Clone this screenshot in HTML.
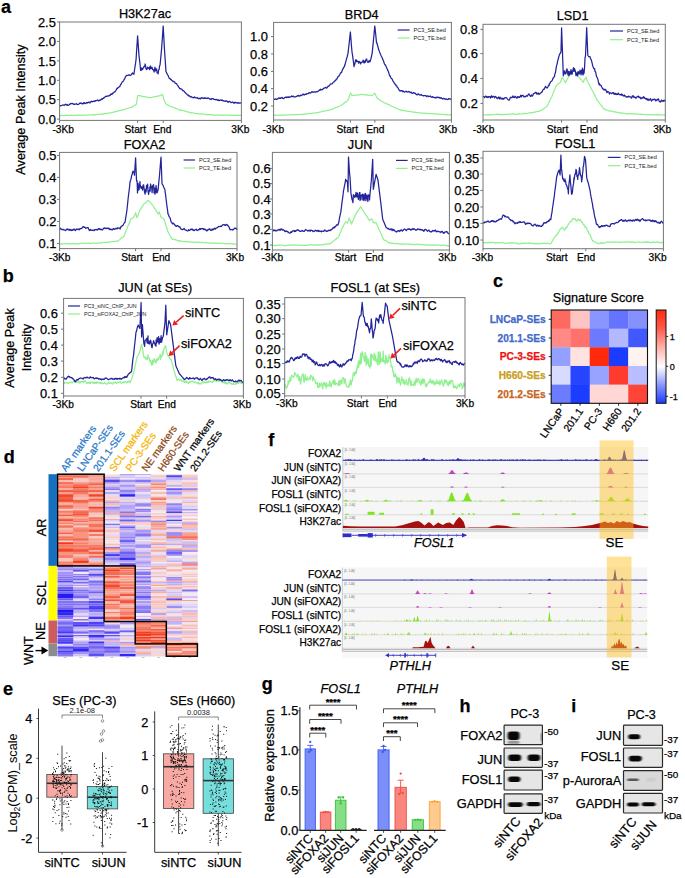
<!DOCTYPE html><html><head><meta charset="utf-8"><style>html,body{margin:0;padding:0;background:#fff;width:685px;height:878px;overflow:hidden}svg{display:block}</style></head><body><svg width="685" height="878" viewBox="0 0 685 878" font-family='"Liberation Sans", sans-serif'>
<rect width="685" height="878" fill="#fff"/>
<text x="0.9" y="13.3" font-size="18" font-weight="bold" stroke="#000" stroke-width="0.25">a</text>
<text x="2.7" y="281.6" font-size="18" font-weight="bold" stroke="#000" stroke-width="0.25">b</text>
<text x="493" y="287" font-size="18" font-weight="bold" stroke="#000" stroke-width="0.25">c</text>
<text x="3.7" y="463" font-size="18" font-weight="bold" stroke="#000" stroke-width="0.25">d</text>
<text x="3" y="694.7" font-size="18" font-weight="bold" stroke="#000" stroke-width="0.25">e</text>
<text x="268.3" y="445.7" font-size="18" font-weight="bold" stroke="#000" stroke-width="0.25">f</text>
<text x="261.7" y="689.8" font-size="18" font-weight="bold" stroke="#000" stroke-width="0.25">g</text>
<text x="459.6" y="711.5" font-size="18" font-weight="bold" stroke="#000" stroke-width="0.25">h</text>
<text x="571.3" y="711.5" font-size="18" font-weight="bold" stroke="#000" stroke-width="0.25">i</text>
<polyline points="59.6,115.5 60.1,115.6 60.6,115.6 61.1,115.4 61.6,115.2 62.1,115.3 62.6,115.3 63.1,115.5 63.6,115.6 64.1,115.6 64.6,115.5 65.1,115.6 65.6,115.3 66.1,115.4 66.6,115.2 67.1,115.5 67.6,115.3 68.1,115.5 68.6,115.3 69.1,115.4 69.6,115.3 70.1,115.3 70.6,115.5 71.1,115.2 71.6,115.1 72.1,115.4 72.6,115.4 73.1,115.2 73.6,115.5 74.1,115.6 74.6,115.3 75.1,115.3 75.6,115.2 76.1,115.2 76.6,115.3 77.1,115.2 77.6,115.3 78.1,115.1 78.6,115.1 79.1,115.3 79.6,115.3 80,115.2 80.1,115.3 80.6,115.3 81.1,115.2 81.6,115 82.1,115.2 82.6,115.4 83.1,115.5 83.6,115.4 84.1,115.2 84.6,115.1 85.1,115.2 85.6,115.2 86.1,115 86.6,114.9 87.1,114.9 87.6,115 88.1,115.1 88.6,115.1 89.1,114.8 89.6,115 90.1,115 90.6,115 91.1,114.8 91.6,114.8 92.1,114.8 92.6,115 93.1,114.7 93.6,114.8 94.1,114.7 94.6,114.8 95,114.6 95.1,114.6 95.6,114.6 96.1,114.7 96.6,114.4 97.1,114.5 97.6,114.4 98.1,114.3 98.6,114.3 99.1,114.5 99.6,114.4 100.1,114.5 100.6,114.2 101.1,114.4 101.6,114.2 102.1,114 102.6,114.1 103.1,114.2 103.6,113.8 104.1,113.7 104.6,113.9 105,113.8 105.1,113.6 105.6,113.4 106.1,113.3 106.6,113.4 107.1,113.6 107.6,113.6 108.1,113.4 108.6,113 109.1,112.9 109.6,113 110.1,113 110.6,112.9 111.1,112.6 111.6,112.6 112,112.5 112.1,112.5 112.6,112.3 113.1,112.4 113.6,112.3 114.1,112 114.6,111.7 115.1,111.8 115.6,111.6 116.1,111.6 116.6,111.4 117.1,111.4 117.6,111.3 118.1,110.9 118.6,110.7 119.1,110.6 119.6,110.6 120,110.6 120.1,110.4 120.6,110.4 121.1,110.2 121.6,109.9 122.1,109.8 122.6,109.9 123.1,109.7 123.6,109.6 124.1,109.6 124.6,109.5 125.1,109.3 125.6,109 126.1,108.8 126.6,108.8 127,108.7 127.1,108.6 127.6,108.3 128.1,108.1 128.6,108 129.1,107.9 129.6,107.5 130.1,107.5 130.6,107.5 131.1,107.4 131.6,107.2 132.1,107.1 132.6,106.8 133,106.7 133.1,106.5 133.6,105.9 134.1,105.6 134.6,105.2 135.1,105.1 135.6,104.8 136.1,104.4 136.5,104.1 136.6,103.1 137.1,99.3 137.6,95.6 138.1,95.6 138.6,95.5 139.1,95.6 139.6,95.7 140.1,95.9 140.6,95.8 141,95.7 141.1,95.8 141.6,96.1 142.1,96.3 142.6,96.4 143.1,96.7 143.6,96.6 144.1,96.4 144.6,96.6 145.1,96.8 145.6,96.7 146.1,97 146.6,97 147.1,97.1 147.6,97.2 148.1,97.5 148.6,97.4 149.1,97.5 149.6,97.6 150,97.6 150.1,97.6 150.6,97.5 151.1,97.6 151.6,97.5 152.1,97.4 152.6,97.1 153.1,97 153.6,97 154.1,97 154.6,96.7 155.1,96.6 155.6,96.7 156.1,96.6 156.6,96.3 157.1,96.2 157.6,96.2 158,96 158.1,96.1 158.6,95.9 159.1,95.9 159.6,95.7 160.1,95.5 160.6,95.2 161.1,95.1 161.6,94.9 162.1,94.7 162.5,94.5 162.6,94.8 163.1,96.5 163.6,98.3 164,99.9 164.1,100 164.6,100.9 165.1,102.2 165.6,103.1 166,104.1 166.1,104.2 166.6,104.3 167.1,104.8 167.6,105.1 168.1,105.2 168.6,105.3 169.1,105.7 169.6,106.1 170,106.3 170.1,106.4 170.6,106.5 171.1,106.7 171.6,106.7 172.1,106.9 172.6,107 173.1,107.2 173.6,107.4 174.1,107.8 174.6,107.8 175,107.8 175.1,107.8 175.6,108.3 176.1,108.5 176.6,108.5 177.1,108.9 177.6,109.2 178.1,109.5 178.6,109.5 179.1,109.8 179.6,109.8 180,109.8 180.1,110.1 180.6,110.3 181.1,110.2 181.6,110.5 182.1,110.4 182.6,110.5 183.1,110.5 183.6,110.6 184.1,110.7 184.6,111.1 185.1,111.2 185.6,111.2 186.1,111.3 186.6,111.5 187.1,111.8 187.6,112 188.1,111.9 188.6,112.2 189.1,112.3 189.6,112.4 190,112.5 190.1,112.6 190.6,112.8 191.1,112.7 191.6,112.8 192.1,112.9 192.6,113 193.1,113 193.6,113 194.1,113.1 194.6,113.3 195.1,113.2 195.6,113.5 196.1,113.5 196.6,113.7 197.1,113.7 197.6,113.9 198.1,113.9 198.6,113.9 199.1,113.9 199.6,114 200,114.1 200.1,114.2 200.6,114 201.1,113.9 201.6,113.8 202.1,113.8 202.6,113.8 203.1,113.8 203.6,113.9 204.1,114 204.6,114.2 205.1,114.4 205.6,114.6 206.1,114.7 206.6,114.7 207.1,114.8 207.6,114.5 208.1,114.4 208.6,114.7 209.1,114.7 209.6,114.5 210.1,114.7 210.6,114.7 211.1,114.8 211.6,114.7 212.1,114.7 212.6,114.6 213.1,114.8 213.6,115.1 214.1,115.2 214.6,115.2 215,115.3 215.1,115.1 215.6,115 216.1,115.2 216.6,115.2 217.1,115.2 217.6,114.9 218.1,114.9 218.6,115 219.1,115.1 219.6,115.3 220.1,115.3 220.6,115.1 221.1,115.1 221.6,115.3 222.1,115.4 222.6,115.3 223.1,115.1 223.6,115.2 224.1,115.2 224.6,115.1 225.1,115.1 225.6,115.1 226.1,115.2 226.6,115.1 227.1,115.2 227.6,115.4 228.1,115.4 228.6,115.2 229.1,115.2 229.6,115.1 230.1,115.3 230.6,115.4 231.1,115.2 231.6,115.3 232.1,115.3 232.6,115.4 233.1,115.3 233.6,115.3 234.1,115.3 234.6,115.5 235.1,115.4 235.6,115.4 236.1,115.4 236.6,115.3 237.1,115.3 237.6,115.2 238.1,115.3 238.6,115.3 239.1,115.3 239.6,115.6 240.1,115.4 240.6,115.4 241.1,115.5 241.4,115.5" fill="none" stroke="#8ef08e" stroke-width="1.2" stroke-linejoin="round" />
<polyline points="59.6,105.4 60.1,105.5 60.6,105.9 61.1,105.6 61.6,105.5 62.1,105.4 62.6,104.9 63.1,105 63.6,105.2 64.1,105.5 64.6,104.8 65.1,104.6 65.6,104.2 66.1,104.9 66.6,105 67.1,104.4 67.6,105.1 68.1,105.4 68.6,105.2 69.1,105 69.6,104.4 70,103.9 70.1,104.2 70.6,103.7 71.1,103.6 71.6,103.6 72.1,103.3 72.6,103.7 73.1,103.8 73.6,104.3 74.1,104.2 74.6,104.3 75.1,104.1 75.6,104.2 76.1,104 76.6,103.6 77.1,104.3 77.6,104.6 78.1,104.5 78.6,104.4 79.1,103.8 79.6,103.3 80,103.1 80.1,102.8 80.6,103.4 81.1,103.2 81.6,103.7 82.1,103.3 82.6,103.8 83.1,103.9 83.6,102.9 84.1,102.6 84.6,103.3 85.1,103.1 85.6,103.6 86.1,103.1 86.6,102.5 87.1,102.7 87.6,103 88.1,102.6 88.6,102.1 89.1,102.1 89.6,102.8 90,103 90.1,102.3 90.6,101.9 91.1,101.5 91.6,101.2 92.1,101.8 92.6,101.4 93.1,101.5 93.6,101.4 94.1,101 94.6,101.4 95.1,100.8 95.6,101 96.1,100.5 96.6,100.5 97.1,100.2 97.6,100 98.1,100.7 98.6,100.8 99.1,100.3 99.6,100.6 100,99.9 100.1,99.8 100.6,100 101.1,99.8 101.6,98.9 102.1,99.4 102.6,98.6 103.1,98.1 103.6,98.3 104.1,97.8 104.6,97.4 105.1,96.8 105.6,96.4 106.1,96.6 106.6,96.2 107.1,96.3 107.6,96 108.1,95.8 108.6,96.1 109.1,95.7 109.6,95.4 110.1,95.5 110.6,94.6 111.1,94 111.6,94.4 112,94.5 112.1,93.9 112.6,93 113.1,93 113.6,93 114.1,91.9 114.6,91.9 115.1,91.6 115.6,90.9 116.1,90.1 116.6,89 117.1,88.2 117.6,88.5 118.1,87.7 118.6,87.5 119.1,86.7 119.6,86.7 120,86.3 120.1,85.7 120.6,84.6 121.1,84.3 121.6,83 122.1,82.1 122.6,81.6 123.1,81.4 123.6,80.6 124.1,79.4 124.6,79.1 125.1,77.8 125.6,76.5 126,75.9 126.1,76.1 126.6,75.5 127.1,75.3 127.6,75.3 128.1,75.4 128.6,74.9 129.1,74.8 129.6,75.3 130.1,75.5 130.6,75.2 131,75 131.1,74.9 131.6,74.1 132.1,73.5 132.6,73 133.1,73.8 133.6,73.9 134,74.2 134.1,72.6 134.6,69.5 135.1,66.1 135.6,63 136,59.9 136.1,59 136.6,50.7 137.1,43.2 137.6,35.8 138.1,43.1 138.6,50.1 139,55.6 139.1,56.5 139.6,60.6 140.1,64.7 140.5,69 140.6,70.4 141.1,70.5 141.6,67.9 142.1,69 142.6,69.5 143.1,68 143.6,67.6 144.1,66.1 144.6,66.5 145,66.7 145.1,64 145.6,66.4 146.1,69.1 146.6,69.5 147.1,68.9 147.6,67.1 148.1,68.5 148.6,68.3 149.1,67.6 149.6,69.6 150,66.3 150.1,68.9 150.6,66 151.1,68.3 151.6,68.5 152.1,67.4 152.6,69.7 153.1,69.4 153.6,70.1 154.1,72.1 154.6,69.3 155,67.2 155.1,68.2 155.6,70.8 156.1,69.3 156.6,68.9 157.1,72.9 157.6,73 158,72.1 158.1,73.8 158.6,69.9 159.1,69.5 159.6,65.8 160,65.2 160.1,64.5 160.6,59.4 161.1,54.1 161.5,49.9 161.6,48.5 162.1,41.5 162.6,34.5 163.1,27.4 163.2,26 163.6,33.4 164.1,42.6 164.5,50 164.6,51.5 165.1,58.8 165.6,66.1 166,71.7 166.1,71.7 166.6,72.7 167.1,73.9 167.6,74.8 168.1,75.4 168.6,76.8 169.1,78.1 169.6,78.6 170,78.7 170.1,78.4 170.6,79.5 171.1,79.3 171.6,80.2 172.1,80.6 172.6,80.8 173.1,81.6 173.6,81.3 174,81.3 174.1,81.7 174.6,81.8 175.1,83.1 175.6,83.3 176.1,83.5 176.6,83.7 177.1,84.8 177.6,85.4 178.1,86.1 178.6,86.8 179.1,87.6 179.6,88.4 180.1,88.8 180.6,88.6 181.1,89.1 181.6,89.2 182,89.2 182.1,89.6 182.6,90.5 183.1,90.5 183.6,90.8 184.1,91.2 184.6,92.1 185.1,92.5 185.6,93 186.1,93.7 186.6,93.8 187.1,94.5 187.6,95.2 188.1,94.8 188.6,95.7 189.1,96.2 189.6,95.9 190,96.3 190.1,96.5 190.6,97 191.1,96.7 191.6,96.8 192.1,97.3 192.6,97.5 193.1,97.8 193.6,97.4 194.1,97.5 194.6,97 195.1,97.4 195.6,97.8 196.1,97.8 196.6,97.9 197.1,97.5 197.6,98 198.1,98.5 198.6,98.8 199.1,98.4 199.6,98.6 200,98.2 200.1,98.6 200.6,98.8 201.1,98.3 201.6,97.7 202.1,97.9 202.6,98.1 203.1,98.5 203.6,98.3 204.1,97.8 204.6,98.4 205.1,97.9 205.6,98.4 206.1,98 206.6,98 207.1,98.6 207.6,98.1 208.1,97.9 208.6,98.2 209.1,98.6 209.6,99 210,99.1 210.1,99.4 210.6,99.1 211.1,99.5 211.6,98.8 212.1,98.5 212.6,98.8 213.1,98.7 213.6,99.2 214.1,99.4 214.6,99.4 215.1,99.8 215.6,99.7 216.1,99.4 216.6,99.4 217.1,99.9 217.6,100.3 218.1,99.7 218.6,100.2 219.1,100.7 219.6,100.4 220,100.3 220.1,99.9 220.6,100.1 221.1,100.2 221.6,100.4 222.1,99.9 222.6,100.8 223.1,100.8 223.6,100.7 224.1,101.1 224.6,101.1 225.1,101.1 225.6,101.3 226.1,100.8 226.6,101.1 227.1,101.2 227.6,101.9 228.1,102.3 228.6,101.7 229.1,101.7 229.6,101.4 230.1,101.6 230.6,102.2 231.1,102.7 231.6,102.5 232.1,102.2 232.6,102 233.1,102.4 233.6,103 234.1,102.5 234.6,103 235.1,102.4 235.6,102.3 236,102.4 236.1,102.9 236.6,102.8 237.1,102.8 237.6,103.1 238.1,102.7 238.6,103.2 239.1,102.8 239.6,103.1 240.1,103 240.6,102.8 241.1,103.2 241.4,103.3" fill="none" stroke="#23249a" stroke-width="1.25" stroke-linejoin="round" />
<rect x="59.6" y="22" width="181.8" height="98.4" fill="none" stroke="#767676" stroke-width="1.0"/>
<line x1="57" y1="22" x2="59.6" y2="22" stroke="#767676" stroke-width="1" />
<text x="55.8" y="26.6" font-size="12.9" text-anchor="end" stroke="#000" stroke-width="0.25">2.5</text>
<line x1="57" y1="41.4" x2="59.6" y2="41.4" stroke="#767676" stroke-width="1" />
<text x="55.8" y="46" font-size="12.9" text-anchor="end" stroke="#000" stroke-width="0.25">2.0</text>
<line x1="57" y1="60.9" x2="59.6" y2="60.9" stroke="#767676" stroke-width="1" />
<text x="55.8" y="65.5" font-size="12.9" text-anchor="end" stroke="#000" stroke-width="0.25">1.5</text>
<line x1="57" y1="80.3" x2="59.6" y2="80.3" stroke="#767676" stroke-width="1" />
<text x="55.8" y="84.9" font-size="12.9" text-anchor="end" stroke="#000" stroke-width="0.25">1.0</text>
<line x1="57" y1="99.7" x2="59.6" y2="99.7" stroke="#767676" stroke-width="1" />
<text x="55.8" y="104.3" font-size="12.9" text-anchor="end" stroke="#000" stroke-width="0.25">0.5</text>
<line x1="57" y1="119.1" x2="59.6" y2="119.1" stroke="#767676" stroke-width="1" />
<text x="55.8" y="123.7" font-size="12.9" text-anchor="end" stroke="#000" stroke-width="0.25">0.0</text>
<line x1="59.6" y1="120.4" x2="59.6" y2="123" stroke="#767676" stroke-width="1" />
<line x1="137.6" y1="120.4" x2="137.6" y2="123" stroke="#767676" stroke-width="1" />
<line x1="163.2" y1="120.4" x2="163.2" y2="123" stroke="#767676" stroke-width="1" />
<line x1="241.4" y1="120.4" x2="241.4" y2="123" stroke="#767676" stroke-width="1" />
<text x="52.4" y="133" font-size="10.2" stroke="#000" stroke-width="0.25">-3Kb</text>
<text x="135.3" y="133" font-size="10.2" text-anchor="middle" stroke="#000" stroke-width="0.25">Start</text>
<text x="162.3" y="133" font-size="10.2" text-anchor="middle" stroke="#000" stroke-width="0.25">End</text>
<text x="240.3" y="133" font-size="10.2" text-anchor="middle" stroke="#000" stroke-width="0.25">3Kb</text>
<text x="145" y="18" font-size="12.7" text-anchor="middle" stroke="#000" stroke-width="0.25">H3K27ac</text>
<polyline points="273.6,115.6 274.1,115.3 274.6,115.2 275.1,115.4 275.6,115.3 276.1,115.1 276.6,115.3 277.1,115.2 277.6,115.4 278.1,115.2 278.6,115.4 279.1,115.2 279.6,115.2 280.1,115.3 280.6,115.3 281.1,115.4 281.6,115.3 282.1,115 282.6,115.2 283.1,115.2 283.6,115 284.1,114.9 284.6,115.1 285.1,115.1 285.6,115.2 286.1,115.2 286.6,115.2 287.1,115.1 287.6,115.1 288.1,115 288.6,114.9 289.1,115 289.6,114.9 290.1,114.9 290.6,115 291.1,115 291.6,114.7 292.1,114.9 292.6,114.9 293.1,114.7 293.6,114.5 294.1,114.6 294.6,114.5 295.1,114.7 295.6,114.7 296.1,114.7 296.6,114.6 297.1,114.6 297.6,114.7 298.1,114.6 298.6,114.5 299.1,114.5 299.6,114.4 300,114.5 300.1,114.5 300.6,114.4 301.1,114.5 301.6,114.4 302.1,114.2 302.6,114.4 303.1,114.2 303.6,114.2 304.1,114.1 304.6,114.2 305.1,114.3 305.6,114.1 306.1,114 306.6,113.8 307.1,113.9 307.6,113.7 308.1,113.7 308.6,113.7 309.1,113.6 309.6,113.5 310,113.4 310.1,113.3 310.6,113.4 311.1,113.5 311.6,113.4 312.1,113.2 312.6,113.2 313.1,113 313.6,112.9 314.1,113 314.6,113 315.1,112.9 315.6,112.9 316.1,112.7 316.6,112.6 317.1,112.5 317.6,112.6 318.1,112.5 318.6,112.3 319.1,112.3 319.6,112.2 320,112 320.1,112.1 320.6,112 321.1,111.9 321.6,111.9 322.1,111.5 322.6,111.4 323.1,111.4 323.6,111.2 324.1,111 324.6,111.1 325.1,111 325.6,110.8 326.1,110.6 326.6,110.7 327.1,110.6 327.6,110.3 328.1,110.2 328.6,110.1 329.1,110.2 329.6,110 330,109.9 330.1,109.8 330.6,109.6 331.1,109.4 331.6,109.2 332.1,109.2 332.6,109.1 333.1,109 333.6,108.5 334.1,108.3 334.6,108.2 335.1,107.8 335.6,107.6 336.1,107.5 336.6,107.3 337.1,107.2 337.6,107.1 338.1,106.8 338.6,106.5 339.1,106.2 339.6,106 340,105.8 340.1,105.9 340.6,105.5 341.1,105.3 341.6,105 342.1,104.5 342.6,104.2 343.1,103.9 343.6,103.4 344.1,103.2 344.6,102.7 345.1,102.6 345.6,102.1 346,102 346.1,102 346.6,101.5 347.1,100.7 347.6,100.1 348.1,99.4 348.5,98.9 348.6,98.8 349.1,97.2 349.6,95.4 350.1,93.9 350.4,93 350.6,93.2 351.1,94.1 351.6,95 352,95.6 352.1,95.5 352.6,95.6 353.1,95.5 353.6,95.3 354.1,95.2 354.6,95.1 355.1,95.2 355.6,95.2 356.1,95.2 356.6,95.2 357.1,95.2 357.6,95 358.1,94.9 358.6,95 359.1,94.9 359.6,94.8 360.1,94.8 360.6,94.6 361.1,94.4 361.6,94.3 362,94.3 362.1,94.3 362.6,94.5 363.1,94.7 363.6,94.6 364.1,94.7 364.6,94.9 365.1,94.9 365.6,94.9 366.1,95 366.6,94.9 367.1,95.1 367.6,95.2 368.1,95.3 368.6,95.4 369.1,95.2 369.6,95.1 370.1,95.1 370.6,95.3 371.1,95.5 371.6,95.7 372,95.6 372.1,95.5 372.6,95.1 373.1,94.5 373.6,94.2 374.1,93.9 374.6,93.4 374.8,93.2 375.1,93.9 375.6,95 376.1,96 376.6,97 377,97.9 377.1,97.9 377.6,98.5 378.1,98.9 378.6,99.1 379.1,99.6 379.6,99.9 380,100.4 380.1,100.4 380.6,100.6 381.1,101 381.6,101.2 382.1,101.5 382.6,101.9 383.1,102 383.6,102.3 384.1,102.7 384.6,103 385.1,103.1 385.6,103.2 386.1,103.6 386.6,103.9 387.1,104 387.6,104.1 388.1,104.4 388.6,104.6 389.1,104.8 389.6,105 390,105.5 390.1,105.7 390.6,105.7 391.1,106 391.6,106.3 392.1,106.5 392.6,106.5 393.1,106.8 393.6,107 394.1,107.4 394.6,107.6 395.1,107.8 395.6,108.1 396.1,108.1 396.6,108.5 397.1,108.8 397.6,109 398.1,109.2 398.6,109.3 399.1,109.4 399.6,109.6 400,109.8 400.1,109.9 400.6,110.1 401.1,110.1 401.6,110.2 402.1,110.3 402.6,110.4 403.1,110.3 403.6,110.6 404.1,110.7 404.6,110.7 405.1,110.7 405.6,110.9 406.1,111.1 406.6,111 407.1,111 407.6,111.1 408.1,111.1 408.6,111.2 409.1,111.5 409.6,111.5 410.1,111.7 410.6,111.6 411.1,111.8 411.6,111.9 412.1,111.8 412.6,111.9 413.1,112 413.6,112.1 414.1,112.2 414.6,112.1 415.1,112.3 415.6,112.3 416.1,112.5 416.6,112.5 417.1,112.7 417.6,112.7 418.1,112.7 418.6,112.7 419.1,112.7 419.6,112.9 420,112.8 420.1,113 420.6,113 421.1,113.1 421.6,113 422.1,113.1 422.6,113.2 423.1,113.1 423.6,113.1 424.1,113.1 424.6,113.3 425.1,113.2 425.6,113.1 426.1,113.3 426.6,113.5 427.1,113.4 427.6,113.6 428.1,113.6 428.6,113.5 429.1,113.4 429.6,113.5 430.1,113.6 430.6,113.5 431.1,113.5 431.6,113.6 432.1,113.6 432.6,113.7 433.1,113.8 433.6,113.9 434.1,113.9 434.6,113.9 435.1,113.8 435.6,114 436.1,113.9 436.6,113.9 437.1,113.8 437.6,114.1 438.1,114.2 438.6,114.3 439.1,114.3 439.6,114.3 440.1,114.3 440.6,114.4 441.1,114.3 441.6,114.5 442.1,114.4 442.6,114.3 443.1,114.3 443.6,114.5 444.1,114.4 444.6,114.6 445.1,114.8 445.6,114.7 446.1,114.8 446.6,114.9 447.1,114.8 447.6,114.7 448.1,114.9 448.6,115 449.1,114.9 449.6,114.9 450.1,114.8 450.6,114.9 451.1,115.1 451.4,115" fill="none" stroke="#8ef08e" stroke-width="1.2" stroke-linejoin="round" />
<polyline points="273.6,99 274.1,99.3 274.6,99.4 275.1,99.2 275.6,98.8 276.1,99.2 276.6,99.4 277.1,99.2 277.6,99 278.1,98.5 278.6,98 279.1,98.1 279.6,98.3 280.1,97.8 280.6,98.4 281.1,98 281.6,97.7 282.1,97.4 282.6,98.2 283.1,98.4 283.6,98.6 284.1,98.3 284.6,97.5 285.1,97.4 285.6,97.4 286.1,97 286.6,97.7 287.1,97.4 287.6,96.9 288.1,97.4 288.6,96.8 289.1,97.4 289.6,97.2 290,97.1 290.1,96.9 290.6,96.8 291.1,96.4 291.6,96 292.1,96.7 292.6,96.3 293.1,96.7 293.6,96.2 294.1,96.8 294.6,97 295.1,96.9 295.6,96.8 296.1,96.6 296.6,96.5 297.1,95.8 297.6,95.7 298.1,96.1 298.6,95.5 299.1,96 299.6,96.2 300,95.8 300.1,95.5 300.6,95.3 301.1,95.1 301.6,95.6 302.1,95.1 302.6,94.4 303.1,94 303.6,94.4 304.1,95 304.6,94.6 305.1,94.4 305.6,94.2 306.1,94.3 306.6,93.7 307.1,93.8 307.6,93.7 308.1,93.7 308.6,93.1 309.1,92.7 309.6,92.6 310,93.2 310.1,92.9 310.6,92.9 311.1,92.5 311.6,92 312.1,91.6 312.6,92.1 313.1,92.3 313.6,91.9 314.1,92 314.6,91.9 315.1,92.1 315.6,92.2 316.1,91.6 316.6,91.8 317.1,91.8 317.6,91.4 318.1,91.4 318.6,90.8 319.1,90.4 319.6,89.9 320,90.3 320.1,89.7 320.6,89.2 321.1,89.6 321.6,89.8 322.1,89.5 322.6,89.6 323.1,88.7 323.6,88.4 324.1,88.2 324.6,88.1 325.1,87.7 325.6,87.3 326,87.4 326.1,88 326.6,88.1 327.1,87.8 327.6,87 328.1,86.2 328.6,86.4 329.1,85.8 329.6,85.5 330.1,84.4 330.6,83.8 331.1,84 331.6,83.9 332.1,83.8 332.6,83.2 333.1,82.5 333.6,82.1 334.1,82 334.6,81.2 335.1,80.8 335.6,80.1 336,80.2 336.1,79.4 336.6,79.1 337.1,78.9 337.6,77.3 338.1,76.8 338.6,76.2 339.1,75.8 339.6,75 340.1,73.8 340.6,72.9 341.1,72.8 341.6,72.3 342.1,70.8 342.6,69.6 343.1,68.6 343.6,67.6 344,67.4 344.1,66.9 344.6,65.9 345.1,64.3 345.6,62.1 346.1,60.5 346.6,58.6 347.1,57 347.6,55 348,53.4 348.1,52.4 348.6,48 349.1,43.9 349.6,39.4 350.1,34.2 350.4,32 350.6,34.9 351.1,41.3 351.6,47.6 352,51.8 352.1,52.5 352.6,55.6 353.1,59.4 353.6,63 354,66.6 354.1,65.3 354.6,64.9 355.1,62.8 355.6,60.2 356,59.7 356.1,59.7 356.6,61.7 357.1,60.9 357.6,61.2 358.1,61.6 358.6,63.2 359.1,61.3 359.6,62 360,62.1 360.1,62.8 360.6,63.9 361.1,62.3 361.6,62.6 362.1,62.2 362.6,62 363.1,60.2 363.6,61.7 364.1,63 364.6,61.6 365,60.7 365.1,62.5 365.6,60.6 366.1,59.5 366.6,59 367.1,61.2 367.6,62.3 368.1,61.8 368.6,62.3 369.1,60.5 369.6,61.7 370,61.7 370.1,61.6 370.6,59.8 371.1,58.1 371.6,56 372,53.8 372.1,53.7 372.6,48.9 373.1,43.9 373.6,38.7 374.1,33.4 374.6,28.1 374.8,26 375.1,28.8 375.6,33.5 376.1,38.4 376.5,42.6 376.6,42.2 377.1,43.8 377.6,45.5 378.1,47.3 378.6,49.3 379,50.6 379.1,50.7 379.6,52 380.1,53.2 380.6,54.5 381.1,55.7 381.6,56.8 382.1,57.4 382.6,59.1 383.1,60 383.6,61.2 384,62.5 384.1,63 384.6,64.4 385.1,64.6 385.6,65.5 386.1,66.6 386.6,67.7 387.1,68.6 387.6,70.1 388.1,70.9 388.6,72.2 389.1,74.1 389.6,75.5 390,76.2 390.1,75.8 390.6,77.3 391.1,78.2 391.6,78.4 392.1,79.1 392.6,80.2 393.1,81.2 393.6,81.6 394.1,83 394.6,83.4 395,83.7 395.1,84.4 395.6,84.6 396.1,85.6 396.6,85.9 397.1,86.9 397.6,87.3 398.1,88 398.6,89.4 399.1,89.9 399.6,90.5 400,91.1 400.1,90.8 400.6,90.6 401.1,90.8 401.6,90.7 402.1,90.7 402.6,91.6 403.1,91 403.6,91.6 404.1,92.1 404.6,92.2 405.1,91.5 405.6,91.6 406.1,91.2 406.6,91.7 407.1,92.1 407.6,91.8 408.1,91.4 408.6,91.9 409.1,91.6 409.6,91.8 410,92 410.1,92.7 410.6,92.5 411.1,92.2 411.6,92.9 412.1,93.3 412.6,93.3 413.1,92.7 413.6,92.7 414.1,92.9 414.6,93.3 415.1,93.2 415.6,93.8 416.1,94.3 416.6,94.7 417.1,94.9 417.6,94.1 418.1,94.3 418.6,93.9 419.1,94.7 419.6,95 420.1,95.2 420.6,94.8 421.1,94.4 421.6,95.1 422.1,95.3 422.6,95.5 423.1,95.5 423.6,95.9 424.1,95.7 424.6,95.5 425.1,95.6 425.6,95.6 426.1,96 426.6,96.6 427.1,96.1 427.6,95.8 428.1,96.2 428.6,96.7 429.1,96.4 429.6,96.4 430,96.2 430.1,96 430.6,96.5 431.1,97 431.6,97.3 432.1,96.9 432.6,96.6 433.1,97.4 433.6,97.5 434.1,97.3 434.6,97.6 435.1,97.9 435.6,97.8 436.1,97.2 436.6,97.8 437.1,97.4 437.6,97 438.1,97.2 438.6,97.5 439.1,97.9 439.6,97.5 440.1,98 440.6,98 441.1,97.6 441.6,98.3 442.1,98.6 442.6,98.9 443.1,98.8 443.6,98.3 444.1,98.6 444.6,99 445.1,98.8 445.6,99.2 446.1,99.4 446.6,98.9 447.1,99.3 447.6,99.6 448.1,99.5 448.6,98.6 449.1,98.6 449.6,98.8 450.1,99 450.6,99.3 451.1,99.3 451.4,98.8" fill="none" stroke="#23249a" stroke-width="1.25" stroke-linejoin="round" />
<rect x="273.6" y="22.4" width="177.8" height="97.6" fill="none" stroke="#767676" stroke-width="1.0"/>
<line x1="271" y1="36.6" x2="273.6" y2="36.6" stroke="#767676" stroke-width="1" />
<text x="268" y="41.2" font-size="12.9" text-anchor="end" stroke="#000" stroke-width="0.25">1.0</text>
<line x1="271" y1="54" x2="273.6" y2="54" stroke="#767676" stroke-width="1" />
<text x="268" y="58.6" font-size="12.9" text-anchor="end" stroke="#000" stroke-width="0.25">0.8</text>
<line x1="271" y1="71.4" x2="273.6" y2="71.4" stroke="#767676" stroke-width="1" />
<text x="268" y="76" font-size="12.9" text-anchor="end" stroke="#000" stroke-width="0.25">0.6</text>
<line x1="271" y1="88.6" x2="273.6" y2="88.6" stroke="#767676" stroke-width="1" />
<text x="268" y="93.2" font-size="12.9" text-anchor="end" stroke="#000" stroke-width="0.25">0.4</text>
<line x1="271" y1="106" x2="273.6" y2="106" stroke="#767676" stroke-width="1" />
<text x="268" y="110.6" font-size="12.9" text-anchor="end" stroke="#000" stroke-width="0.25">0.2</text>
<line x1="273.6" y1="120" x2="273.6" y2="122.6" stroke="#767676" stroke-width="1" />
<line x1="350.4" y1="120" x2="350.4" y2="122.6" stroke="#767676" stroke-width="1" />
<line x1="374.8" y1="120" x2="374.8" y2="122.6" stroke="#767676" stroke-width="1" />
<line x1="451.4" y1="120" x2="451.4" y2="122.6" stroke="#767676" stroke-width="1" />
<text x="262.6" y="133" font-size="10.2" stroke="#000" stroke-width="0.25">-3Kb</text>
<text x="347.3" y="133" font-size="10.2" text-anchor="middle" stroke="#000" stroke-width="0.25">Start</text>
<text x="375.3" y="133" font-size="10.2" text-anchor="middle" stroke="#000" stroke-width="0.25">End</text>
<text x="448" y="133" font-size="10.2" text-anchor="middle" stroke="#000" stroke-width="0.25">3Kb</text>
<text x="361.7" y="18.6" font-size="12.7" text-anchor="middle" stroke="#000" stroke-width="0.25">BRD4</text>
<line x1="397.6" y1="30" x2="409.6" y2="30" stroke="#23249a" stroke-width="1.2" />
<line x1="397.6" y1="38" x2="409.6" y2="38" stroke="#8ef08e" stroke-width="1.2" />
<text x="413.6" y="32" font-size="5.6" fill="#1a1a1a">PC3_SE.bed</text>
<text x="413.6" y="40" font-size="5.6" fill="#1a1a1a">PC3_TE.bed</text>
<polyline points="483,114.8 483.5,114.8 484,114.8 484.5,115 485,115 485.5,115 486,114.8 486.5,114.9 487,115 487.5,114.9 488,115.1 488.5,115.1 489,114.9 489.5,114.7 490,114.8 490.5,114.6 491,114.5 491.5,114.7 492,114.9 492.5,115 493,115 493.5,114.7 494,114.5 494.5,114.4 495,114.8 495.5,114.5 496,114.4 496.5,114.3 497,114.3 497.5,114.2 498,114.3 498.5,114.3 499,114.3 499.5,114.6 500,114.4 500.5,114.6 501,114.7 501.5,114.6 502,114.6 502.5,114.6 503,114.6 503.5,114.4 504,114.3 504.5,114.3 505,114.3 505.5,114.5 506,114.4 506.5,114.2 507,114.3 507.5,114.4 508,114.3 508.5,114.4 509,114.2 509.5,114 510,114.2 510.5,114 511,114 511.5,114.1 512,114 512.5,113.9 513,113.8 513.5,114.2 514,114.3 514.5,114.4 515,114.3 515.5,114.4 516,114.4 516.5,114.3 517,114.2 517.5,114.1 518,114 518.5,113.9 519,114.1 519.5,113.9 520,114.1 520.5,114 521,114 521.5,114 522,114 522.5,113.7 523,113.6 523.5,113.4 524,113.2 524.5,113.6 525,113.6 525.5,113.7 526,113.6 526.5,113.4 527,113.5 527.5,113.5 528,113.3 528.5,113 529,113 529.5,112.8 530,112.8 530.5,112.6 531,112.8 531.5,112.9 532,112.6 532.5,112.6 533,112.5 533.5,112.3 534,112.4 534.5,112.1 535,112.2 535.5,111.8 536,111.9 536.5,111.6 537,111.4 537.5,111.5 538,111.5 538.5,111.4 539,111.4 539.5,111.1 540,110.9 540.5,110.5 541,110.5 541.5,110.3 542,109.7 542.5,109.3 543,109 543.5,108.8 544,108.2 544.5,108.1 545,107.6 545.5,107.3 546,106.9 546.5,106.4 546.8,106.5 547,106.1 547.5,105.3 548,104.4 548.5,103.4 549,102.1 549.5,101.2 550,100.4 550.5,99.3 551,98.1 551.4,97.2 551.5,97.3 552,96.2 552.5,94.7 553,93.4 553.5,92.3 554,91 554.5,89.6 555,88.6 555.5,87.4 556,86 556.5,85.4 557,85 557.5,84.7 558,84.1 558.5,83.5 559,83.3 559.5,83.1 560,82.5 560.5,82 561,80.7 561.5,79.4 562,77.9 562.2,77.3 562.5,77.7 563,78.5 563.5,79.2 564,80 564.5,80.7 565,81.7 565.5,82.4 565.6,82.8 566,82 566.5,80.8 567,79.7 567.5,78.8 568,77.8 568.5,76.8 569,75.6 569.5,74.7 569.6,74.7 570,74.1 570.5,73.4 571,73 571.5,72.2 572,71.8 572.5,71.2 573,70.2 573.5,69.7 574,68.9 574.1,69 574.5,69.7 575,70.4 575.5,71.5 576,72.4 576.5,73.3 577,74.1 577.5,74.7 578,75.8 578.5,76.5 578.7,76.9 579,77.2 579.5,77.8 580,78.2 580.5,79 581,79.5 581.5,80 582,80.8 582.5,81.4 583,82 583.2,82.3 583.5,81.5 584,80.5 584.5,79.6 585,78.8 585.5,78.1 586,77.2 586.1,77 586.5,78.2 587,79.7 587.5,81.2 587.8,81.8 588,82.3 588.5,83.2 589,84 589.5,85.1 590,86.2 590.5,87 591,88 591.5,89 592,90 592.4,90.8 592.5,91 593,91.7 593.5,92.8 594,93.8 594.5,94.8 595,95.9 595.5,96.7 596,97.9 596.5,99.1 596.9,99.6 597,99.9 597.5,100.6 598,101.2 598.5,102 599,102.4 599.5,103 600,104 600.5,104.6 601,105.1 601.5,105.7 602,106.4 602.5,107.2 603,108.1 603.5,108.5 603.7,108.8 604,108.9 604.5,109.1 605,109.5 605.5,109.4 606,109.8 606.5,110 607,110.1 607.5,110.1 608,110.5 608.5,110.8 609,110.9 609.4,110.9 609.5,111 610,111.2 610.5,111.2 611,111.2 611.5,111.2 612,111.2 612.5,111.3 613,111.7 613.5,111.6 614,111.7 614.5,111.8 615,111.9 615.5,111.9 616,112.2 616.5,112.2 617,112.4 617.5,112.3 618,112.5 618.5,112.8 619,112.8 619.5,112.8 620,112.7 620.5,112.8 621,112.9 621.5,112.9 622,113 622.5,113.1 623,113 623.5,113.2 624,113.5 624.5,113.5 625,113.4 625.5,113.6 626,113.7 626.5,113.8 627,113.9 627.5,113.9 628,113.9 628.5,113.9 629,113.7 629.5,113.6 630,113.7 630.5,113.8 631,113.8 631.5,113.8 632,113.7 632.5,113.6 633,113.7 633.5,114 634,113.9 634.5,113.8 635,114 635.5,114.3 636,114.1 636.5,114 637,114 637.5,114.1 638,114 638.5,114.3 639,114.2 639.5,114.2 640,114.2 640.5,114.3 641,114.2 641.5,114.2 642,114.3 642.5,114.3 643,114.5 643.5,114.5 644,114.4 644.5,114.3 645,114.6 645.5,114.8 646,114.9 646.5,114.9 647,114.7 647.5,114.6 648,114.5 648.5,114.6 649,114.6 649.5,114.8 650,114.6 650.5,114.8 651,114.8 651.5,114.9 652,114.9 652.5,114.6 653,114.5 653.5,114.7 654,114.8 654.5,115 655,115 655.5,114.8 656,114.7 656.5,114.9 657,114.6 657.5,114.9 658,114.7 658.5,114.8 659,115 659.5,114.8 660,114.7 660.5,114.8 661,115 661.5,114.7 662,114.8 662.5,115 663,115.1 663.5,115 664,114.8 664.5,114.9 665,115 665.3,115" fill="none" stroke="#8ef08e" stroke-width="1.2" stroke-linejoin="round" />
<polyline points="483,96.9 483.5,96.4 484,96.8 484.5,97.6 485,96.8 485.5,96.2 486,96.2 486.5,97.3 487,96.5 487.5,97.4 488,97.7 488.5,96.6 489,96.9 489.5,96.8 490,96.6 490.5,98 491,96.6 491.5,95.7 492,97.4 492.5,97.1 493,96.4 493.5,96.4 494,96.4 494.5,97.9 495,96.9 495.5,96.4 496,97 496.5,97.3 497,98.4 497.5,98.7 498,97.8 498.5,97 499,98 499.5,98.9 500,97.2 500.5,98 501,98.9 501.5,98.9 502,98 502.5,98.9 503,99.3 503.5,98.3 504,98.9 504.5,98.3 505,97.6 505.5,97.7 506,97.7 506.5,97.8 507,98.4 507.5,99.1 508,99.7 508.5,100.1 509,100.2 509.5,99.8 510,98.3 510.5,97.2 511,97.6 511.5,97.5 512,97.7 512.5,96.4 513,95.9 513.5,97.3 514,97.4 514.5,97.6 515,96.3 515.5,96.3 516,97.4 516.5,97.5 517,98.3 517.5,96.8 518,96.6 518.5,97.3 519,96.8 519.5,97.3 520,97.1 520.5,95.9 521,95.2 521.5,96.8 522,95.7 522.5,95.3 523,95.3 523.5,96.2 524,97 524.5,96.6 525,96.4 525.5,96.9 526,96 526.5,95.7 527,96.1 527.5,96.2 528,94.9 528.5,94.2 529,93.9 529.5,95 530,95.5 530.5,96.4 531,96.3 531.5,95 532,95.5 532.5,96.1 533,95 533.5,93.5 534,93.5 534.5,93.2 535,92.7 535.5,92.3 536,92.3 536.5,94 537,93.1 537.5,93.9 538,93.4 538.5,93.1 539,94.5 539.5,94 540,93.5 540.5,93.1 541,93 541.5,92.2 542,92.2 542.5,90.7 543,89.8 543.4,89.6 543.5,89.2 544,89.3 544.5,88.6 545,87.3 545.5,86.4 546,87.3 546.5,87.5 547,88 547.5,87.5 548,86.8 548.5,85.1 549,85.5 549.5,83.7 550,83.2 550.5,82 551,81.6 551.4,81.1 551.5,81.1 552,80.8 552.5,79.8 553,78 553.5,77.8 554,77.1 554.5,76.4 554.8,74.2 555,73.7 555.5,72.3 556,68.9 556.5,65.9 557,64.6 557.5,61.8 558,59.3 558.2,59.3 558.5,58 559,56.1 559.5,54.5 560,53.4 560.5,53.1 561,51.6 561.5,31.8 561.6,27.9 562,38.9 562.4,50 562.5,52.8 563,67.2 563.3,75.8 563.5,73.8 564,72.5 564.5,70.8 565,74.1 565.5,72.6 566,73.6 566.5,69.6 567,68.9 567.5,71.8 568,75 568.5,71.3 569,75.8 569.5,73.2 570,71.3 570.5,74.1 571,69.7 571.5,72.3 572,74.5 572.5,72 573,69.8 573.5,67.6 574,71.3 574.5,68.7 575,70.2 575.5,72 576,75.7 576.5,74.1 577,72.8 577.5,75.8 578,71.7 578.5,71.8 579,74.1 579.5,73.2 580,70.2 580.5,71.4 581,74.9 581.5,70.2 582,73.5 582.5,68.2 583,75 583.5,73.2 583.8,69.9 584,73.5 584.5,68.5 585,58.2 585.5,55.7 586,44.2 586.5,32.4 586.7,27.7 587,35.3 587.5,47.8 587.8,55.2 588,55.5 588.5,56.2 589,56.7 589.5,56.6 590,56.6 590.5,58.7 591,59.3 591.2,59.6 591.5,60.6 592,62.6 592.5,64.8 593,66.6 593.5,68 594,68.5 594.5,69.1 594.6,68.7 595,71.3 595.5,71.7 596,73.8 596.5,76.4 597,77.1 597.5,78.4 598,79.8 598.5,82.5 599,84 599.2,85 599.5,83.6 600,84.9 600.5,85.1 601,85.3 601.5,86.7 602,87.5 602.5,88.5 603,88.9 603.5,89.8 603.7,89.1 604,89.1 604.5,90 605,89.9 605.5,89.3 606,90.2 606.5,91.6 607,92.6 607.5,91.5 608,91.8 608.5,91.8 609,92.2 609.4,94 609.5,93.6 610,93.1 610.5,92.8 611,93 611.5,93.7 612,93.4 612.5,92.8 613,92.6 613.5,92.7 614,94.2 614.5,93.3 615,94.3 615.5,93.3 616,94.4 616.5,93.8 617,94.7 617.5,94.5 618,93.5 618.5,93.1 619,94.5 619.5,94.7 620,94.7 620.5,94.5 621,95.2 621.5,95.1 621.6,94 622,94.8 622.5,94.5 623,95.7 623.5,95.7 624,96.2 624.5,95 625,95.8 625.5,96 626,96.7 626.5,97.2 627,96.8 627.5,96.6 628,97 628.5,96.1 629,96.3 629.5,96.9 630,96.9 630.5,96.8 631,97.5 631.5,98.2 632,96.9 632.5,95.9 633,96.5 633.5,95.9 634,97.5 634.5,97.2 635,97.2 635.5,97.9 636,98.4 636.5,97.1 637,97 637.5,96.4 638,96.7 638.5,96.2 639,97.6 639.5,97.2 640,97.1 640.5,98.3 641,98.8 641.5,97.9 642,97.8 642.5,98.2 643,97.3 643.5,96.7 644,98.1 644.5,97.3 645,98.1 645.5,98.8 646,99 646.5,98.5 647,99.6 647.5,100.1 648,98.8 648.5,100.1 649,100.3 649.5,99.7 650,99.2 650.5,98.7 651,100.1 651.5,101 652,100.4 652.5,99.7 653,99.1 653.5,99.6 654,99.6 654.5,99.1 655,99.4 655.5,100.8 656,99.9 656.5,100.2 656.7,100.6 657,100 657.5,99.3 658,99 658.5,98.9 659,100.8 659.5,101.6 660,101.6 660.5,102 661,100.9 661.5,100.1 662,101 662.5,100.9 663,101.6 663.5,100.6 664,100.2 664.5,100.6 665,101.2 665.3,99.9" fill="none" stroke="#23249a" stroke-width="1.25" stroke-linejoin="round" />
<rect x="483" y="24.3" width="182.3" height="95.7" fill="none" stroke="#767676" stroke-width="1.0"/>
<line x1="480.4" y1="29.4" x2="483" y2="29.4" stroke="#767676" stroke-width="1" />
<text x="477.9" y="34" font-size="12.9" text-anchor="end" stroke="#000" stroke-width="0.25">0.8</text>
<line x1="480.4" y1="53.6" x2="483" y2="53.6" stroke="#767676" stroke-width="1" />
<text x="477.9" y="58.2" font-size="12.9" text-anchor="end" stroke="#000" stroke-width="0.25">0.6</text>
<line x1="480.4" y1="78.4" x2="483" y2="78.4" stroke="#767676" stroke-width="1" />
<text x="477.9" y="83" font-size="12.9" text-anchor="end" stroke="#000" stroke-width="0.25">0.4</text>
<line x1="480.4" y1="103.4" x2="483" y2="103.4" stroke="#767676" stroke-width="1" />
<text x="477.9" y="108" font-size="12.9" text-anchor="end" stroke="#000" stroke-width="0.25">0.2</text>
<line x1="483" y1="120" x2="483" y2="122.6" stroke="#767676" stroke-width="1" />
<line x1="561.6" y1="120" x2="561.6" y2="122.6" stroke="#767676" stroke-width="1" />
<line x1="587" y1="120" x2="587" y2="122.6" stroke="#767676" stroke-width="1" />
<line x1="665.3" y1="120" x2="665.3" y2="122.6" stroke="#767676" stroke-width="1" />
<text x="472.8" y="133" font-size="10.2" stroke="#000" stroke-width="0.25">-3Kb</text>
<text x="557.6" y="133" font-size="10.2" text-anchor="middle" stroke="#000" stroke-width="0.25">Start</text>
<text x="588.8" y="133" font-size="10.2" text-anchor="middle" stroke="#000" stroke-width="0.25">End</text>
<text x="662.2" y="133" font-size="10.2" text-anchor="middle" stroke="#000" stroke-width="0.25">3Kb</text>
<text x="572.7" y="19.5" font-size="12.7" text-anchor="middle" stroke="#000" stroke-width="0.25">LSD1</text>
<line x1="610" y1="31" x2="623" y2="31" stroke="#23249a" stroke-width="1.2" />
<line x1="610" y1="39.7" x2="623" y2="39.7" stroke="#8ef08e" stroke-width="1.2" />
<text x="627" y="33" font-size="5.6" fill="#1a1a1a">PC3_SE.bed</text>
<text x="627" y="41.7" font-size="5.6" fill="#1a1a1a">PC3_TE.bed</text>
<polyline points="59.6,244.1 60.1,243.8 60.6,243.8 61.1,243.7 61.6,243.9 62.1,244 62.6,244.2 63.1,243.8 63.6,243.8 64.1,243.6 64.6,243.6 65.1,243.7 65.6,243.5 66.1,243.5 66.6,243.7 67.1,243.8 67.6,243.6 68.1,243.8 68.6,243.9 69.1,243.6 69.6,243.8 70.1,243.9 70.6,243.7 71.1,243.5 71.6,243.8 72.1,243.7 72.6,243.5 73.1,243.3 73.6,243.7 74.1,243.7 74.6,243.8 75.1,243.8 75.6,243.7 76.1,243.9 76.6,243.7 77.1,243.6 77.6,243.8 78.1,243.7 78.6,243.8 79.1,243.7 79.6,243.7 80.1,243.4 80.6,243.3 81.1,243.3 81.6,243.1 82.1,243.1 82.6,243.1 83.1,243.1 83.6,243.3 84.1,243.3 84.6,243.3 85.1,243.2 85.6,243.1 86.1,243.5 86.6,243.5 87.1,243.4 87.6,243.2 88.1,243.4 88.6,243.1 89.1,243.1 89.6,243.4 90.1,243.4 90.6,243.3 91.1,243.4 91.6,243.5 92.1,243.5 92.6,243.2 93.1,242.9 93.6,242.9 94.1,242.9 94.6,242.9 95.1,243.2 95.6,243.4 96.1,243.1 96.6,243.2 97.1,243.1 97.6,243.3 98.1,243.1 98.6,243 99.1,242.9 99.6,243 100,242.8 100.1,243 100.6,243.1 101.1,242.9 101.6,242.7 102.1,243 102.6,242.8 103.1,242.5 103.6,242.3 104.1,242.2 104.6,242.4 105.1,242.5 105.6,242.4 106.1,242.1 106.6,242.1 107.1,242.4 107.6,242.3 108.1,242.4 108.6,242.4 109.1,241.9 109.6,242 110.1,242 110.6,241.9 111.1,241.7 111.6,241.7 112.1,241.5 112.6,241.5 113.1,241.5 113.6,241.7 114.1,241.7 114.6,241.4 115.1,241.3 115.6,241.1 116.1,241.3 116.6,241.4 117.1,241.1 117.6,241.1 118,241.1 118.1,240.8 118.6,240.6 119.1,240.1 119.6,239.8 120.1,239.4 120.6,238.6 121.1,238.2 121.6,237.7 122.1,237.6 122.6,237.4 123.1,237 123.6,236.4 124,235.8 124.1,235.8 124.6,234.8 125.1,233.2 125.6,232 126.1,230.5 126.6,229.5 127.1,228.4 127.6,226.9 128,225.9 128.1,225.8 128.6,224.5 129.1,223.6 129.6,222.3 130.1,221 130.6,219.9 131,219.1 131.1,218.8 131.6,218.4 132.1,218.4 132.6,218.1 133.1,217.7 133.6,217.3 134,216.8 134.1,216.5 134.6,215.3 135.1,214.2 135.6,212.8 136.1,214.6 136.6,216.2 137,217.9 137.1,217.5 137.6,216.5 138.1,215.3 138.6,213.6 139.1,212.2 139.6,211.1 140,209.8 140.1,209.6 140.6,209.2 141.1,208.4 141.6,207.6 142.1,207 142.6,206.3 143.1,205.3 143.6,204.4 144,203.8 144.1,203.8 144.6,203.4 145.1,203.1 145.6,202.7 146.1,202.4 146.6,201.6 147.1,201.1 147.6,200.6 148,200.5 148.1,200.4 148.6,200.7 149.1,201.2 149.6,201.7 150.1,202.1 150.6,202.4 151,203.1 151.1,203.2 151.6,204 152.1,204.6 152.6,205 153.1,206 153.6,206.7 154,207.4 154.1,207.6 154.6,208.4 155.1,208.9 155.6,209.8 156.1,210.5 156.6,211.4 157.1,212.1 157.6,213.1 158,214.1 158.1,213.8 158.6,213.3 159.1,212.5 159.4,212 159.6,212.9 160.1,214.6 160.6,216 161,217.2 161.1,217 161.6,217.3 162.1,217.9 162.6,218.2 163.1,218.5 163.6,218.9 164,218.9 164.1,219.3 164.6,220.9 165.1,222.8 165.6,224.1 166.1,226 166.6,227.3 167.1,228.9 167.6,230.6 168,232.1 168.1,232.1 168.6,232.8 169.1,234 169.6,234.7 170.1,235.7 170.6,236.6 171.1,237.4 171.6,238.3 172,239 172.1,239.3 172.6,239.1 173.1,239.4 173.6,239.3 174.1,239.4 174.6,239.7 175.1,239.7 175.6,239.8 176.1,240.1 176.6,240 177.1,240.2 177.6,240.6 178.1,240.9 178.6,240.6 179.1,240.6 179.6,240.7 180,241.1 180.1,241.3 180.6,241.4 181.1,241.2 181.6,241 182.1,241.3 182.6,241.4 183.1,241.4 183.6,241.7 184.1,241.7 184.6,241.3 185.1,241.6 185.6,241.5 186.1,241.7 186.6,241.9 187.1,241.6 187.6,241.5 188.1,241.5 188.6,241.7 189.1,241.7 189.6,241.9 190,242.1 190.1,241.9 190.6,242 191.1,241.9 191.6,242 192.1,242.3 192.6,242.4 193.1,242.1 193.6,242.1 194.1,242 194.6,241.9 195.1,242.2 195.6,242.3 196.1,242.2 196.6,242.4 197.1,242.4 197.6,242.3 198.1,242.1 198.6,242 199.1,242.4 199.6,242.6 200.1,242.6 200.6,242.7 201.1,242.6 201.6,242.4 202.1,242.3 202.6,242.3 203.1,242.7 203.6,242.8 204.1,242.9 204.6,243 205.1,242.7 205.6,242.5 206.1,242.4 206.6,242.7 207.1,242.9 207.6,242.8 208.1,242.9 208.6,242.7 209.1,243 209.6,243.1 210.1,243.2 210.6,243.2 211.1,243.3 211.6,242.9 212.1,243 212.6,242.9 213.1,243.2 213.6,243.3 214.1,243.3 214.6,243.4 215.1,243.1 215.6,243.3 216.1,243 216.6,243.3 217.1,243.4 217.6,243.2 218.1,243.4 218.6,243.3 219.1,243.2 219.6,243.4 220.1,243.2 220.6,243 221.1,243 221.6,243.1 222.1,243.4 222.6,243.7 223.1,243.4 223.6,243.5 224.1,243.4 224.6,243.7 225.1,243.6 225.6,243.8 226.1,243.5 226.6,243.8 227.1,243.5 227.6,243.8 228.1,243.6 228.6,243.4 229.1,243.5 229.6,243.7 230.1,243.6 230.6,243.7 231.1,243.8 231.6,243.7 232.1,243.8 232.6,243.7 233.1,243.9 233.6,243.6 234.1,244 234.6,244 235.1,244.1 235.6,244.1 236.1,244.2 236.6,244 237,243.8" fill="none" stroke="#8ef08e" stroke-width="1.2" stroke-linejoin="round" />
<polyline points="59.6,228.8 60.1,228.5 60.6,228.2 61.1,229.4 61.6,229.4 62.1,229.7 62.6,229.6 63.1,229.3 63.6,229.8 64.1,229.8 64.6,230.1 65.1,230.2 65.6,230.5 66.1,230 66.6,229.3 67.1,228.9 67.6,229.7 68.1,229.2 68.6,229.8 69.1,230.1 69.6,229.3 70,230.1 70.1,229.3 70.6,230.2 71.1,230.6 71.6,229.7 72.1,230.1 72.6,230.3 73.1,229.4 73.6,229.8 74.1,229 74.6,229.9 75.1,230 75.6,230.5 76.1,229.2 76.6,229 77.1,229.3 77.6,229.4 78.1,228.8 78.6,229.5 79.1,229.9 79.6,229.2 80,228.5 80.1,228.9 80.6,228.6 81.1,228.7 81.6,228.4 82.1,228 82.6,227.1 83.1,226.7 83.6,226.9 84.1,227.4 84.6,227 85,227.3 85.1,227.3 85.6,228.1 86.1,228.3 86.6,228 87.1,227.7 87.6,227.5 88.1,227.5 88.6,229 89.1,230 89.6,230.5 90,229.7 90.1,230.1 90.6,229.4 91.1,230.2 91.6,230.3 92.1,230.5 92.6,230.3 93.1,229.9 93.6,230.3 94.1,230.7 94.6,229.7 95.1,229.5 95.6,229.8 96.1,229.9 96.6,229.5 97.1,229.3 97.6,230 98.1,229.2 98.6,228.7 99.1,229.2 99.6,228.7 100,229.5 100.1,229 100.6,229.7 101.1,229.2 101.6,229.7 102.1,229.8 102.6,229.8 103.1,229 103.6,228.4 104.1,227.9 104.6,227.9 105.1,228.7 105.6,228.1 106.1,228.1 106.6,228.6 107.1,228.2 107.6,228.3 108.1,228.1 108.6,228.8 109.1,228.3 109.6,229.4 110,229.4 110.1,229.6 110.6,229.3 111.1,229.1 111.6,229.7 112.1,229.9 112.6,229.9 113.1,228.6 113.6,228.7 114.1,229.4 114.6,229.2 115.1,228.9 115.6,228.9 116.1,228.1 116.6,228.6 117.1,228.9 117.6,227.9 118.1,228 118.6,228.2 119.1,227.9 119.6,228.2 120,228.8 120.1,229 120.6,227.6 121.1,226.3 121.6,226.4 122.1,225.9 122.6,225.6 123.1,225.3 123.6,223.9 124.1,223.3 124.6,222.3 125,222.4 125.1,221.9 125.6,218.3 126.1,215.3 126.6,212.5 127,209.6 127.1,208.3 127.6,203.9 128.1,198.8 128.6,194.5 129.1,190.8 129.6,186.5 130,181.7 130.1,182 130.6,180.4 131.1,178.6 131.6,175.7 132.1,174.5 132.6,172.1 133,171.3 133.1,171.1 133.6,172.3 134.1,173.2 134.5,175.2 134.6,173.1 135.1,165.5 135.6,157.9 136.1,170.2 136.5,180 136.6,181 137.1,180.8 137.5,193 137.6,187.6 138.1,183.4 138.6,190.2 139.1,189.5 139.6,184.8 140,181.5 140.1,185 140.6,186.5 141.1,188.3 141.6,186.7 142.1,187.9 142.6,190.1 143.1,185 143.6,184.8 144.1,188.5 144.6,192.3 145,193.6 145.1,194.2 145.6,189.5 146.1,191.9 146.6,185.3 147.1,187.5 147.6,184.1 148.1,191.9 148.6,194.3 149.1,190.8 149.6,191.2 150,186.9 150.1,191.2 150.6,184 151.1,186.6 151.6,186.8 152.1,192.6 152.6,185.8 153.1,185.2 153.6,184.5 154.1,192.9 154.6,188.1 155,194.2 155.1,188.2 155.6,192.7 156.1,185.5 156.6,192 157.1,192.8 157.6,191.2 158,188.6 158.1,189.9 158.6,184.1 159.1,179.3 159.5,175.8 159.6,174.2 160.1,168 160.6,161.9 161,157.1 161.1,159.6 161.6,172.6 162,183.1 162.1,183.9 162.6,184.7 163.1,185.3 163.6,186.9 164.1,188.1 164.6,188.8 165,190.2 165.1,191.6 165.6,194.8 166.1,199.3 166.6,203.5 167.1,207.2 167.6,210.5 168,214.1 168.1,213.9 168.6,214.8 169.1,216.7 169.6,217.4 170.1,217.9 170.6,220 171.1,221.9 171.6,222.3 172,222.9 172.1,223.1 172.6,223.8 173.1,223.1 173.6,223.9 174.1,223.8 174.6,225.1 175.1,225 175.6,226.1 176.1,225.9 176.6,226.3 177.1,225.7 177.6,225.7 178.1,226 178.6,226.5 179.1,226.5 179.6,227.1 180,227 180.1,227.6 180.6,228.6 181.1,229.1 181.6,229 182.1,229.6 182.6,229.6 183.1,229.4 183.6,229.1 184.1,228.3 184.6,229.3 185.1,229.9 185.6,230.1 186.1,230.1 186.6,230.3 187.1,230.7 187.6,231 188.1,230.9 188.6,229.6 189.1,230.5 189.6,230.4 190,230.2 190.1,230 190.6,229.6 191.1,228.9 191.6,229.5 192.1,229.8 192.6,229.1 193.1,230 193.6,230.5 194.1,230.7 194.6,230.2 195.1,229.7 195.6,229.5 196.1,229.2 196.6,230 197.1,230.4 197.6,230.5 198.1,229.9 198.6,229.6 199.1,229.6 199.6,229 200,228.4 200.1,229.5 200.6,229 201.1,228.7 201.6,228.9 202.1,228.4 202.6,228.8 203.1,228.5 203.6,229.5 204.1,228.8 204.6,229.6 205.1,229.2 205.6,229.9 206.1,230.3 206.6,230.8 207.1,229.8 207.6,230.6 208.1,229.7 208.6,229.5 209.1,228.9 209.6,229.4 210,229 210.1,229.5 210.6,230.3 211.1,230.4 211.6,230.2 212.1,229 212.6,229.9 213.1,229.2 213.6,229.7 214.1,228.6 214.6,228.2 215.1,229 215.6,229 216.1,228 216.6,227.9 217.1,227.9 217.6,227.3 218.1,226.9 218.6,226.3 219.1,226.7 219.6,226.7 220,226.5 220.1,226.6 220.6,226.3 221.1,226 221.6,226.4 222.1,225.5 222.6,224.8 223.1,224.8 223.6,224.5 224.1,224.5 224.6,225.1 225.1,225.4 225.6,225.3 226,225.3 226.1,224.4 226.6,224.6 227.1,224.7 227.6,225.3 228.1,225.8 228.6,226.4 229.1,227.1 229.6,228.8 230,229.2 230.1,229.8 230.6,229.5 231.1,229.7 231.6,229.7 232.1,229.5 232.6,230 233.1,229.7 233.6,229.4 234.1,228.8 234.6,228.2 235.1,228.4 235.6,228.5 236.1,228.1 236.6,229.3 237,228.3" fill="none" stroke="#23249a" stroke-width="1.25" stroke-linejoin="round" />
<rect x="59.6" y="152.4" width="177.4" height="96.2" fill="none" stroke="#767676" stroke-width="1.0"/>
<line x1="57" y1="155.4" x2="59.6" y2="155.4" stroke="#767676" stroke-width="1" />
<text x="56.4" y="160" font-size="12.9" text-anchor="end" stroke="#000" stroke-width="0.25">0.5</text>
<line x1="57" y1="177.4" x2="59.6" y2="177.4" stroke="#767676" stroke-width="1" />
<text x="56.4" y="182" font-size="12.9" text-anchor="end" stroke="#000" stroke-width="0.25">0.4</text>
<line x1="57" y1="199.4" x2="59.6" y2="199.4" stroke="#767676" stroke-width="1" />
<text x="56.4" y="204" font-size="12.9" text-anchor="end" stroke="#000" stroke-width="0.25">0.3</text>
<line x1="57" y1="221.4" x2="59.6" y2="221.4" stroke="#767676" stroke-width="1" />
<text x="56.4" y="226" font-size="12.9" text-anchor="end" stroke="#000" stroke-width="0.25">0.2</text>
<line x1="57" y1="243.4" x2="59.6" y2="243.4" stroke="#767676" stroke-width="1" />
<text x="56.4" y="248" font-size="12.9" text-anchor="end" stroke="#000" stroke-width="0.25">0.1</text>
<line x1="59.6" y1="248.6" x2="59.6" y2="251.2" stroke="#767676" stroke-width="1" />
<line x1="135.6" y1="248.6" x2="135.6" y2="251.2" stroke="#767676" stroke-width="1" />
<line x1="161" y1="248.6" x2="161" y2="251.2" stroke="#767676" stroke-width="1" />
<line x1="237" y1="248.6" x2="237" y2="251.2" stroke="#767676" stroke-width="1" />
<text x="49" y="261" font-size="10.2" stroke="#000" stroke-width="0.25">-3Kb</text>
<text x="132" y="261" font-size="10.2" text-anchor="middle" stroke="#000" stroke-width="0.25">Start</text>
<text x="161.2" y="261" font-size="10.2" text-anchor="middle" stroke="#000" stroke-width="0.25">End</text>
<text x="235" y="261" font-size="10.2" text-anchor="middle" stroke="#000" stroke-width="0.25">3Kb</text>
<text x="144.5" y="149.4" font-size="12.7" text-anchor="middle" stroke="#000" stroke-width="0.25">FOXA2</text>
<line x1="183.6" y1="160" x2="195" y2="160" stroke="#23249a" stroke-width="1.2" />
<line x1="183.6" y1="168" x2="195" y2="168" stroke="#8ef08e" stroke-width="1.2" />
<text x="199" y="162" font-size="5.6" fill="#1a1a1a">PC3_SE.bed</text>
<text x="199" y="170" font-size="5.6" fill="#1a1a1a">PC3_TE.bed</text>
<polyline points="272.4,245.6 272.9,245.3 273.4,245.5 273.9,245.4 274.4,245.6 274.9,245.5 275.4,245.6 275.9,245.3 276.4,245.6 276.9,245.4 277.4,245.2 277.9,245.2 278.4,245.3 278.9,245.1 279.4,245.2 279.9,245 280.4,244.9 280.9,245 281.4,245 281.9,245 282.4,245.3 282.9,245.3 283.4,245.5 283.9,245.6 284.4,245.6 284.9,245.7 285.4,245.5 285.9,245.5 286.4,245.6 286.9,245.5 287.4,245.2 287.9,245.2 288.4,245.3 288.9,245.1 289.4,245 289.9,244.9 290.4,245.2 290.9,245.4 291.4,245.4 291.9,245.3 292.4,245 292.9,244.9 293.4,245.1 293.9,245.2 294.4,245.2 294.9,245 295.4,244.9 295.9,244.9 296.4,244.8 296.9,245.1 297.4,245 297.9,245.1 298.4,245.1 298.9,245.2 299.4,245.3 299.9,245.4 300.4,245.1 300.9,245.4 301.4,245.4 301.9,245.5 302.4,245.3 302.9,245.4 303.4,245.5 303.9,245.2 304.4,245.2 304.9,245.4 305.4,245.4 305.9,245.5 306.4,245.3 306.9,245.3 307.4,245 307.9,245.1 308.4,244.9 308.9,245.1 309.4,245.3 309.9,245.1 310.4,244.9 310.9,244.7 311.4,244.9 311.9,244.8 312.4,245.1 312.9,245.1 313.4,245.1 313.9,245.2 314.4,244.9 314.9,245 315.4,244.8 315.9,244.9 316.4,245.1 316.9,244.9 317.4,245.1 317.9,245.3 318.4,245.1 318.9,244.9 319.4,244.8 319.9,245.1 320,244.8 320.4,245 320.9,244.8 321.4,244.9 321.9,245 322.4,245 322.9,244.6 323.4,244.6 323.9,244.4 324.4,244.6 324.9,244.3 325.4,244.1 325.9,244.1 326.4,243.9 326.9,243.8 327.4,244 327.9,243.9 328.4,243.7 328.9,244 329.4,243.7 329.9,243.8 330,243.9 330.4,243.5 330.9,243.1 331.4,242.7 331.9,242.4 332.4,242 332.9,241.4 333.4,241.1 333.9,240.7 334.4,240.5 334.9,239.8 335.4,239.4 335.9,239.3 336.4,238.6 336.9,238.3 337.4,238.1 337.9,237.7 338.4,237 338.9,236 339.4,234.7 339.9,233.6 340.4,232.6 340.9,231.3 341.4,230 341.9,228.8 342,228.6 342.4,227.7 342.9,226.9 343.4,226.1 343.9,224.8 344.4,223.9 344.9,223.1 345.4,222.2 345.6,221.6 345.9,221.8 346.4,222.2 346.9,222.5 347.4,223.1 347.9,221.7 348.4,220.4 348.9,218.6 349.1,217.8 349.4,218.7 349.9,220 350.4,221.1 350.9,222.3 351.4,223.8 351.5,224.2 351.9,222.9 352.4,221.7 352.9,220.8 353.4,219.7 353.9,218.4 354.4,217.6 354.9,216.3 355.4,215 355.9,213.9 356.3,213.1 356.4,213.1 356.9,212.4 357.4,211.3 357.9,210.6 358.4,210.1 358.9,209.2 359.4,208.6 359.9,207.9 360.4,207.1 360.5,206.8 360.9,207.1 361.4,208.2 361.9,208.8 362.4,209.5 362.9,210.3 363.4,211.2 363.9,212.1 364.4,212.8 364.7,213.5 364.9,213.8 365.4,214.5 365.9,215 366.4,215.8 366.9,216.5 367.4,217.4 367.9,218 368.4,218.9 368.9,219.7 369.4,220.2 369.5,220.6 369.9,220.2 370.4,219.7 370.9,219.3 371.4,218.9 371.9,218.7 372.4,220 372.9,221.1 373.4,222.2 373.7,222.8 373.9,222.6 374.4,222.9 374.9,222.8 375.4,222.6 375.9,222.5 376.1,222.6 376.4,223.5 376.9,224.5 377.4,225.5 377.9,227 378.4,228 378.9,229.4 379.4,230.2 379.9,231.2 380.3,232.1 380.4,232.4 380.9,233.5 381.4,234.5 381.9,235.8 382.4,237 382.9,237.9 383.4,239 383.8,239.9 383.9,240 384.4,240.1 384.9,240.1 385.4,240.5 385.9,240.5 386.4,240.9 386.9,241.5 387.4,241.7 387.9,242.1 388.4,242.6 388.9,242.8 389.4,242.9 389.8,243.1 389.9,242.9 390.4,243.2 390.9,243.3 391.4,243.2 391.9,243.2 392.4,243.5 392.9,243.2 393.4,243.2 393.9,243.4 394.4,243.6 394.9,243.6 395.4,243.7 395.9,243.4 396.4,243.6 396.9,243.7 397.4,243.5 397.9,243.7 398.4,243.7 398.9,243.7 399.4,244 399.9,244.2 400,243.9 400.4,243.7 400.9,244 401.4,244.2 401.9,244.2 402.4,244.1 402.9,244.2 403.4,244.4 403.9,244 404.4,243.9 404.9,244 405.4,244.2 405.9,244.2 406.4,244.2 406.9,244 407.4,244 407.9,243.9 408.4,244.1 408.9,244.1 409.4,244.2 409.9,244.3 410.4,244.2 410.9,244.4 411.4,244.3 411.9,244.3 412.4,244.4 412.9,244.5 413.4,244.7 413.9,244.7 414.4,244.3 414.9,244.6 415.4,244.5 415.9,244.6 416.4,244.3 416.9,244.2 417.4,244.1 417.9,244.2 418.4,244.2 418.9,244.5 419.4,244.7 419.9,244.6 420.4,244.5 420.9,244.6 421.4,244.4 421.9,244.5 422.4,244.6 422.9,244.9 423.4,244.9 423.9,244.7 424.4,244.9 424.9,245.1 425.4,245.2 425.9,244.8 426.4,244.9 426.9,245.1 427.4,244.9 427.9,244.9 428.4,245 428.9,245.2 429.4,245.3 429.9,245.1 430.4,245.1 430.9,244.9 431.4,245.1 431.9,245 432.4,245.1 432.9,244.9 433.4,245.1 433.9,245.3 434.4,245 434.9,245 435.4,244.9 435.9,245.1 436.4,245 436.9,245.3 437.4,245.4 437.9,245.1 438.4,245.1 438.9,245 439.4,245 439.9,245.2 440.4,245.4 440.9,245.3 441.4,245.4 441.9,245.2 442.4,245.3 442.9,245.5 443.4,245.3 443.9,245.2 444.4,245.3 444.9,245.4 445.4,245.3 445.9,245.5 446.4,245.8 446.9,245.6 447.4,245.9 447.9,245.9 448.4,245.9 448.9,245.6 449.4,245.7" fill="none" stroke="#8ef08e" stroke-width="1.2" stroke-linejoin="round" />
<polyline points="272.4,230.6 272.9,230.6 273.4,230 273.9,230.8 274.4,230.1 274.9,230.2 275.4,230.9 275.9,230.3 276.4,230.8 276.9,230.7 277.4,230.2 277.9,230.1 278.4,229.9 278.9,229.3 279.4,230 279.9,229.3 280,230 280.4,230.2 280.9,229.1 281.4,228.9 281.9,229.3 282.4,230.1 282.9,229.5 283.4,230 283.9,230 284.4,230.7 284.9,231.4 285.4,231.6 285.9,230.8 286.4,231.4 286.9,231.2 287.4,231.9 287.9,231.7 288.4,232.4 288.9,232.9 289.4,233.1 289.9,233.2 290,233.2 290.4,232.7 290.9,231.7 291.4,232.5 291.9,232 292.4,230.9 292.9,231 293.4,230.9 293.9,230.5 294.4,231.5 294.9,230.6 295.4,231.4 295.9,231.1 296.4,230.4 296.9,230.2 297.4,230.2 297.9,229.6 298.4,230.3 298.9,230.5 299.4,231.1 299.9,231.1 300,231.1 300.4,231.4 300.9,231.5 301.4,231.1 301.9,230.7 302.4,230.5 302.9,230.9 303.4,231.3 303.9,231.4 304.4,231.4 304.9,230.1 305.4,230.1 305.9,229.5 306.4,230 306.9,230.3 307.4,230.5 307.9,231 308.4,230.3 308.9,230.8 309.4,230.8 309.9,230.2 310.4,231.2 310.9,230.1 311.4,230.3 311.9,230.5 312.4,230.7 312.9,231.5 313.4,231.2 313.9,231.6 314.4,230.9 314.9,230.8 315.4,230.2 315.9,230.7 316.4,230.7 316.9,231.2 317.4,230.4 317.9,230.6 318.4,231.5 318.9,230.5 319.4,231 319.9,231.3 320,231.5 320.4,231.4 320.9,231.1 321.4,231.8 321.9,231 322.4,231.2 322.9,231.3 323.4,231.4 323.9,231 324.4,230 324.9,230.7 325.4,230.3 325.9,230.8 326.4,231.5 326.9,231.4 327.4,230.8 327.9,231.2 328.4,230.6 328.9,230.1 329.4,230.3 329.9,230.5 330,230.7 330.4,230.3 330.9,229.7 331.4,229.9 331.9,229.1 332.4,229 332.9,227.9 333.4,227.3 333.9,228.1 334.4,227.4 334.8,227.2 334.9,226.5 335.4,226.9 335.9,226.2 336.4,225.1 336.9,224.6 337.4,225.2 337.9,225.1 338.4,223.5 338.9,222 339.4,218.5 339.9,216.2 340.4,213.9 340.8,212.4 340.9,210.8 341.4,207.6 341.9,203.1 342.4,199.6 342.9,196.2 343.2,193.5 343.4,191.3 343.9,189.1 344.4,186.2 344.9,183.9 345.4,181.5 345.6,179.4 345.9,179.9 346.4,180.4 346.9,181.4 347.4,181.4 347.9,190.2 348,191.8 348.4,164 348.5,157 348.9,163.4 349.4,171.3 349.9,176.4 350.1,178.5 350.4,183.9 350.9,192.9 351.4,195.9 351.9,198.8 352.1,200 352.4,199.4 352.9,202.7 353.4,194.6 353.9,196 354.4,195.8 354.9,197.5 355.4,195.1 355.9,193.4 356,192.3 356.4,196.8 356.9,196.6 357.4,193 357.9,196.9 358.4,199.4 358.9,196.2 359.4,192.6 359.9,192.5 360,200.5 360.4,195 360.9,199.6 361.4,195 361.9,194.7 362.4,194.2 362.9,200 363.4,194.6 363.9,197.2 364,200.6 364.4,198.7 364.9,194 365.4,193.4 365.9,200.7 366.4,197.2 366.9,194.8 367.4,198.5 367.9,201.5 368,197.6 368.4,195.2 368.9,194.8 369.4,197 369.5,200 369.9,195.2 370.4,190 370.9,185 371.3,181.1 371.4,179.5 371.9,171.8 372.4,164 372.7,159.4 372.9,169.4 373.3,189.3 373.4,188.8 373.9,186.1 374.4,183.4 374.9,180.7 375.4,178.1 375.9,175.4 376.1,174.3 376.4,175.2 376.9,176.7 377.4,178.2 377.9,179.7 378.4,183.7 378.9,187.7 379.4,191.6 379.9,195.6 380.3,198.8 380.4,199.7 380.9,203.9 381.4,208.2 381.9,212.4 382.4,216.7 382.7,219.2 382.9,219.7 383.4,220.9 383.9,222.1 384.4,223.3 384.9,224.5 385.4,225.7 385.9,226.9 386.2,227.6 386.4,227.7 386.9,227.9 387.4,228.4 387.9,228.9 388.4,228.3 388.9,229.1 389.4,229.5 389.9,229.7 390.4,229.6 390.9,228.9 391.4,228.9 391.9,229.9 392.2,230.7 392.4,229.9 392.9,229.2 393.4,229.5 393.9,230.6 394.4,230 394.9,231 395.4,231.3 395.9,231.6 396.4,232 396.9,231.8 397.4,230.9 397.9,230.8 398.4,230.7 398.9,231.2 399.4,231 399.9,231.5 400,230.6 400.4,230.3 400.9,230.1 401.4,229.8 401.9,230.6 402.4,231.2 402.9,230.2 403.4,230.2 403.9,229.4 404.4,229.3 404.9,229 405.4,229.7 405.9,230.3 406.4,230.6 406.9,229.7 407.4,229.5 407.9,228.9 408.4,229.3 408.9,228.8 409.4,229.3 409.9,229.1 410,229.1 410.4,229.7 410.9,230.2 411.4,229.3 411.9,229.7 412.4,229.1 412.9,228.4 413.4,229.4 413.9,228.9 414.4,228.8 414.9,229.5 415.4,230.1 415.9,229.7 416.4,230.1 416.9,229.8 417.4,229 417.9,229.5 418.4,229.1 418.9,229 419.4,229.3 419.9,229.9 420,229.5 420.4,229.3 420.9,229.8 421.4,229.6 421.9,229.9 422.4,230.3 422.9,230 423.4,230.8 423.9,231.3 424.4,230.1 424.9,229.5 425.4,229.3 425.9,229.8 426.4,229.8 426.9,230.5 427.4,231.3 427.9,230.9 428.4,230.4 428.9,230 429.4,231 429.9,231.4 430.4,231.7 430.9,232.1 431.4,231.5 431.9,231.6 432.4,231 432.9,230.3 433.4,230.9 433.9,230.7 434.4,230.9 434.9,231.1 435,230.6 435.4,230 435.9,231 436.4,231.5 436.9,231.9 437.4,231.4 437.9,231.2 438.4,231.6 438.9,231.4 439.4,231.9 439.9,231.9 440.4,231.9 440.9,232.5 441.4,231.6 441.9,231.3 442.4,231.7 442.9,232.5 443.4,233.1 443.9,233.4 444.4,232.4 444.9,232.1 445.4,231.9 445.9,231.8 446.4,231.6 446.9,231.5 447.4,232.6 447.9,232.8 448.4,233.6 448.9,233.6 449.4,233.8" fill="none" stroke="#23249a" stroke-width="1.25" stroke-linejoin="round" />
<rect x="272.4" y="152.4" width="177" height="97.6" fill="none" stroke="#767676" stroke-width="1.0"/>
<line x1="269.8" y1="168.4" x2="272.4" y2="168.4" stroke="#767676" stroke-width="1" />
<text x="270.7" y="173" font-size="12.9" text-anchor="end" stroke="#000" stroke-width="0.25">0.6</text>
<line x1="269.8" y1="183.6" x2="272.4" y2="183.6" stroke="#767676" stroke-width="1" />
<text x="270.7" y="188.2" font-size="12.9" text-anchor="end" stroke="#000" stroke-width="0.25">0.5</text>
<line x1="269.8" y1="199" x2="272.4" y2="199" stroke="#767676" stroke-width="1" />
<text x="270.7" y="203.6" font-size="12.9" text-anchor="end" stroke="#000" stroke-width="0.25">0.4</text>
<line x1="269.8" y1="214" x2="272.4" y2="214" stroke="#767676" stroke-width="1" />
<text x="270.7" y="218.6" font-size="12.9" text-anchor="end" stroke="#000" stroke-width="0.25">0.3</text>
<line x1="269.8" y1="229.4" x2="272.4" y2="229.4" stroke="#767676" stroke-width="1" />
<text x="270.7" y="234" font-size="12.9" text-anchor="end" stroke="#000" stroke-width="0.25">0.2</text>
<line x1="269.8" y1="245" x2="272.4" y2="245" stroke="#767676" stroke-width="1" />
<text x="270.7" y="249.6" font-size="12.9" text-anchor="end" stroke="#000" stroke-width="0.25">0.1</text>
<line x1="272.4" y1="250" x2="272.4" y2="252.6" stroke="#767676" stroke-width="1" />
<line x1="348.6" y1="250" x2="348.6" y2="252.6" stroke="#767676" stroke-width="1" />
<line x1="373.4" y1="250" x2="373.4" y2="252.6" stroke="#767676" stroke-width="1" />
<line x1="449.4" y1="250" x2="449.4" y2="252.6" stroke="#767676" stroke-width="1" />
<text x="261.6" y="261" font-size="10.2" stroke="#000" stroke-width="0.25">-3Kb</text>
<text x="345.6" y="261" font-size="10.2" text-anchor="middle" stroke="#000" stroke-width="0.25">Start</text>
<text x="374.3" y="261" font-size="10.2" text-anchor="middle" stroke="#000" stroke-width="0.25">End</text>
<text x="447.4" y="261" font-size="10.2" text-anchor="middle" stroke="#000" stroke-width="0.25">3Kb</text>
<text x="360.2" y="148.6" font-size="12.7" text-anchor="middle" stroke="#000" stroke-width="0.25">JUN</text>
<line x1="396" y1="160.4" x2="407.6" y2="160.4" stroke="#23249a" stroke-width="1.2" />
<line x1="396" y1="168.4" x2="407.6" y2="168.4" stroke="#8ef08e" stroke-width="1.2" />
<text x="411.6" y="162.4" font-size="5.6" fill="#1a1a1a">PC3_SE.bed</text>
<text x="411.6" y="170.4" font-size="5.6" fill="#1a1a1a">PC3_TE.bed</text>
<polyline points="483,242.9 483.5,242.4 484,242.9 484.5,242.5 485,242.5 485.5,242.9 486,242.6 486.5,242.6 487,242.3 487.5,242.9 488,243.2 488.5,242.6 489,242.3 489.5,242.4 490,242.6 490.5,242.9 491,242.6 491.5,242.7 492,242.4 492.5,242.3 493,242.2 493.5,242.5 494,242.7 494.5,242.8 495,243.2 495.5,242.8 496,242.7 496.5,242.7 497,243.1 497.5,242.8 498,242.6 498.5,242.7 499,242.9 499.5,242.7 500,242.5 500.5,242.9 501,243 501.5,243 502,242.5 502.5,242.5 503,242.4 503.5,242.5 504,243.1 504.5,243.5 505,243.5 505.5,243.1 506,243.1 506.5,243.4 507,243.1 507.5,243 508,243.2 508.5,243 509,243 509.5,242.9 510,243.3 510.5,243.2 511,242.8 511.5,242.5 512,243 512.5,242.7 513,243.1 513.5,242.9 514,243 514.5,243 515,243.2 515.5,242.9 516,243 516.5,243.2 517,243 517.5,243.6 518,243.8 518.5,243.9 519,244 519.5,244 520,243.7 520.5,243.8 521,243.5 521.5,243 522,243.5 522.5,243.8 523,243.4 523.5,243.3 524,243.1 524.5,243.4 525,243.1 525.5,243.5 526,243.1 526.5,243.2 527,243.5 527.5,243.5 528,243.2 528.5,242.9 529,243.3 529.5,243.1 530,243.1 530.5,243.4 531,243.3 531.5,243 532,243.5 532.5,243.7 533,243.7 533.5,243.3 534,243.4 534.5,243.9 535,243.8 535.5,243.5 536,243.9 536.5,243.7 537,243.7 537.5,243.4 538,243.8 538.5,243.9 539,243.8 539.5,243.8 540,243.6 540.5,243.6 541,243.6 541.5,243.2 542,243.6 542.5,243.8 543,243.2 543.5,243 544,243.4 544.5,243.3 545,243 545.5,243.4 546,243.8 546.5,243.4 547,243.4 547.5,243.4 548,243.4 548.5,243.4 549,243.6 549.5,243.7 550,243.7 550.5,243.6 550.8,243.6 551,243.3 551.5,242.5 552,241.7 552.5,241 553,239.7 553.5,238.7 554,238.3 554.5,237.5 555,236.6 555.5,236.1 555.6,235.7 556,235.9 556.5,234.6 557,234.9 557.5,233.4 558,233.7 558.5,232.1 559,232 559.1,230.8 559.5,230.3 560,229.2 560.5,229.3 561,228.6 561.5,227.5 562,227.1 562.5,228 563,228.2 563.5,228.3 563.9,229.8 564,229.9 564.5,230.3 565,229.9 565.5,227.7 566,228.1 566.5,227.2 567,227.4 567.5,225.7 568,224.9 568.5,224.7 568.7,223.7 569,223.3 569.5,222.6 570,221.9 570.5,221.7 571,221.2 571.5,221.5 572,220 572.3,219.2 572.5,219.1 573,218.5 573.5,218.9 574,219.1 574.5,218.8 575,219.5 575.5,219 576,220.2 576.5,221.2 577,221 577.5,220 578,219.5 578.3,219.1 578.5,218.9 579,220 579.5,220.2 580,220.3 580.1,219.4 580.5,220 581,221.1 581.5,221.9 582,222.7 582.5,222.1 583,224.2 583.5,224.8 584,224.9 584.5,225.3 584.9,226.7 585,227.6 585.5,226.9 586,227.3 586.5,227.6 587,229.4 587.5,230.6 587.9,231.5 588,230.9 588.5,232 589,234 589.5,234.4 590,234.8 590.5,235.5 591,237.6 591.5,238 592,239.7 592.5,240.7 592.6,241.1 593,240.8 593.5,241 594,241.8 594.5,242 595,241.9 595.5,242 596,242.3 596.5,243 597,243.2 597.4,243.2 597.5,243.3 598,243.7 598.5,243.8 599,243.6 599.5,243.3 600,242.9 600.5,242.7 601,243.3 601.5,243.3 602,242.7 602.5,243.1 603,243.4 603.5,243 604,243.2 604.5,242.8 605,242.6 605.5,242.5 606,242.5 606.5,242.3 607,242.1 607.5,241.8 608,241.8 608.5,242 609,242.4 609.5,242.4 610,242.2 610.5,242 611,241.7 611.5,242 612,242.3 612.5,242 613,242.2 613.5,242.4 614,242.1 614.5,241.7 615,242.1 615.5,242.1 616,241.7 616.5,242 617,242.1 617.5,242.2 618,242.3 618.5,242.2 619,241.8 619.5,242.3 620,242.3 620.5,242.5 621,242.3 621.5,242.4 622,242.2 622.5,242.4 623,241.9 623.5,241.9 624,242.2 624.5,242.1 625,242.1 625.5,242 626,242.3 626.5,241.9 627,241.9 627.5,241.6 628,241.5 628.5,241.8 629,242.4 629.5,242 630,242.2 630.5,242.4 631,242.5 631.5,241.9 632,241.7 632.5,242.1 633,241.9 633.5,242.3 634,242.4 634.5,242.7 635,242.4 635.5,242.6 636,242.1 636.5,242 637,242 637.5,242 638,242.2 638.5,242 639,241.8 639.5,242 640,242.2 640.5,242.5 641,242.5 641.5,242.3 642,242.1 642.5,242.4 643,242.7 643.5,242.1 644,242 644.5,242.4 645,242.1 645.5,241.9 646,241.9 646.5,242.5 647,242.1 647.5,241.9 648,242.3 648.5,242 649,242.5 649.5,242.2 650,242.3 650.5,242.3 651,242.7 651.5,242.9 652,242.4 652.5,242.2 653,242 653.5,241.9 654,242.5 654.5,242.2 655,242.3 655.5,242.4 656,242.3 656.5,242 657,241.8 657.5,241.9 658,242.5 658.5,242.2 659,242.2 659.5,242.7 660,242.9 660.5,242.3 661,242.6 661.5,242.5 662,242.4 662.5,242.8 663,242.2 663.4,242.4" fill="none" stroke="#8ef08e" stroke-width="1.2" stroke-linejoin="round" />
<polyline points="483,222.5 483.5,222.5 484,223 484.5,222.3 485,221.9 485.5,222.3 486,222.1 486.5,221.8 487,221.6 487.5,221.4 488,220.9 488.5,221.5 489,222.2 489.5,222.2 490,222.1 490.5,221.5 491,221.3 491.5,220.6 492,221.3 492.5,220.9 493,220.6 493.5,221.7 494,221.1 494.5,221.9 495,221.7 495.5,221.8 496,221.6 496.5,220.7 497,221.1 497.5,220.5 498,220.4 498.5,219.8 499,219.3 499.5,219.6 500,219.1 500.5,218.8 501,219.1 501.5,219.2 502,217.9 502.5,216.2 503,215.4 503.5,215.1 504,215.3 504.5,216.2 505,216.8 505.5,216.1 506,216.7 506.5,217 507,217.2 507.5,216.9 508,217.3 508.5,217.2 509,218.4 509.5,219.1 510,219.6 510.5,219.6 511,220.8 511.5,220.5 512,220.2 512.5,220.5 513,221.8 513.5,221.3 514,222.2 514.5,223.2 515,223.8 515.5,223.1 516,222.7 516.5,223.2 517,223.2 517.5,223.3 518,222.2 518.5,222.4 519,222.7 519.5,221.9 520,221.4 520.5,222.4 521,222.5 521.5,222.4 522,222.5 522.5,222.2 523,222 523.5,221.8 524,222.2 524.5,222 525,223.4 525.5,224.3 526,224.2 526.5,223.2 527,223.7 527.5,223.2 528,223.4 528.5,223.1 529,223.7 529.5,223.2 530,223.4 530.5,223.5 531,224 531.5,225.2 532,225.2 532.5,225.7 533,225.9 533.5,225.7 534,224.8 534.5,224.3 535,224.2 535.5,224.9 536,225 536.5,226.2 537,225.5 537.5,225.1 538,225.8 538.5,226.2 539,225.4 539.5,225.6 540,225.9 540.5,226.3 541,226.3 541.5,226.3 542,225.5 542.5,225.6 543,224.6 543.5,223.6 544,222.6 544.5,223.1 545,222.9 545.5,222.6 546,223 546.5,222.5 547,221.5 547.5,221.5 548,221.8 548.5,220.5 549,221 549.5,220.2 550,219.1 550.5,219.1 550.8,219.6 551,218.2 551.5,214.7 552,212.3 552.5,208 553,205 553.5,201.3 554,198.2 554.4,195.4 554.5,194.1 555,189.8 555.5,186.7 556,182.5 556.5,178.1 556.8,176.1 557,176 557.5,173.8 558,172.6 558.5,170.8 559,170.4 559.1,170.1 559.5,172 560,174.4 560.1,174.9 560.5,165.1 560.9,155.2 561,157.5 561.5,168.9 562,172.3 562.5,177.2 562.7,179 563,178.1 563.5,179.7 564,181.1 564.5,181.7 565,178.9 565.1,180.5 565.5,180.5 566,184.4 566.5,185.2 566.9,185.6 567,186.6 567.5,188.5 568,189.3 568.4,193.8 568.5,189.7 569,183.7 569.5,179.5 569.9,174.9 570,176.8 570.5,182.8 571,186.9 571.5,194.1 571.7,193.7 572,194 572.5,191.3 573,186.3 573.5,183.9 574,177.6 574.1,180.1 574.5,176.8 575,173.9 575.5,174.1 575.9,170.6 576,169.4 576.5,171.1 577,176.6 577.5,177 577.7,179.4 578,175.5 578.5,175 579,173.1 579.5,167.6 580,171.8 580.5,175.4 581,175.5 581.5,178.9 581.6,181.8 582,179.2 582.5,174 583,170 583.1,166.9 583.5,166 584,162.2 584.5,156.4 585,157.9 585.5,159.8 586,167.1 586.5,174.4 586.7,177.4 587,178.6 587.5,180.8 588,182 588.5,183.9 589,186.2 589.5,188 590,190.4 590.3,191.7 590.5,193.9 591,196.7 591.5,198.9 592,201.9 592.5,204.1 593,208.1 593.5,209.9 593.8,211.2 594,212.6 594.5,215.7 595,218 595.5,219.3 596,221.9 596.2,223.2 596.5,224.2 597,224.6 597.5,224.3 598,225.5 598.5,226.2 599,227.2 599.5,226.7 599.8,227.7 600,227.3 600.5,226.5 601,226.2 601.5,225.6 602,226.7 602.5,225.9 603,226.4 603.5,225.8 604,225.5 604.5,225.5 605,226.3 605.5,225.3 606,225.3 606.5,225.2 607,225.4 607.5,225.7 608,226.2 608.5,226.1 609,226.4 609.5,226.5 610,226.5 610.5,224.8 611,223.9 611.5,224.1 612,223.6 612.5,223.5 613,223.6 613.5,223.6 614,223.9 614.5,224 615,223 615.5,223 616,222.7 616.5,222.4 617,222.6 617.5,222.6 618,222.5 618.5,221.8 619,220.8 619.5,221 620,220.4 620.5,220.3 621,219.8 621.5,219.5 622,219.9 622.5,221.1 623,221.1 623.5,220.4 624,221.3 624.5,220.4 625,220.7 625.5,219.8 626,220.9 626.5,221.4 627,221.5 627.5,220.7 628,220.3 628.5,220.2 629,220.9 629.5,220.7 630,219.9 630.5,220.7 631,220.2 631.5,220.5 632,221.1 632.5,221.1 633,219.9 633.5,220.5 634,220.2 634.5,221 635,220.3 635.5,219.6 636,219.1 636.5,220.4 637,220.1 637.5,219.2 638,219.5 638.5,220.6 639,219.8 639.5,220.7 640,221.3 640.5,220.2 641,219.7 641.5,219.3 642,219 642.5,218.7 643,218.9 643.5,220.1 644,220.2 644.5,220.2 645,220.6 645.5,219.9 646,220.8 646.5,220.3 647,220.5 647.5,220.1 648,220 648.5,219.8 649,220.1 649.5,220.4 650,220 650.5,221.1 651,220.8 651.5,221.3 652,220.8 652.5,220.2 653,221.6 653.5,221.1 654,220.4 654.5,221.7 655,221.6 655.5,220.7 656,221.5 656.5,221.3 657,222.5 657.5,222.8 658,222.8 658.5,222.8 659,222.2 659.5,223 660,223.4 660.5,222.5 661,221.6 661.5,221.2 662,221.8 662.5,222.4 663,223.1 663.4,223.6" fill="none" stroke="#23249a" stroke-width="1.25" stroke-linejoin="round" />
<rect x="483" y="151.3" width="180.4" height="97.4" fill="none" stroke="#767676" stroke-width="1.0"/>
<line x1="480.4" y1="158" x2="483" y2="158" stroke="#767676" stroke-width="1" />
<text x="479.3" y="162.6" font-size="12.9" text-anchor="end" stroke="#000" stroke-width="0.25">0.35</text>
<line x1="480.4" y1="174" x2="483" y2="174" stroke="#767676" stroke-width="1" />
<text x="479.3" y="178.6" font-size="12.9" text-anchor="end" stroke="#000" stroke-width="0.25">0.30</text>
<line x1="480.4" y1="190.4" x2="483" y2="190.4" stroke="#767676" stroke-width="1" />
<text x="479.3" y="195" font-size="12.9" text-anchor="end" stroke="#000" stroke-width="0.25">0.25</text>
<line x1="480.4" y1="207" x2="483" y2="207" stroke="#767676" stroke-width="1" />
<text x="479.3" y="211.6" font-size="12.9" text-anchor="end" stroke="#000" stroke-width="0.25">0.20</text>
<line x1="480.4" y1="223.4" x2="483" y2="223.4" stroke="#767676" stroke-width="1" />
<text x="479.3" y="228" font-size="12.9" text-anchor="end" stroke="#000" stroke-width="0.25">0.15</text>
<line x1="480.4" y1="240" x2="483" y2="240" stroke="#767676" stroke-width="1" />
<text x="479.3" y="244.6" font-size="12.9" text-anchor="end" stroke="#000" stroke-width="0.25">0.10</text>
<line x1="483" y1="248.7" x2="483" y2="251.3" stroke="#767676" stroke-width="1" />
<line x1="560.5" y1="248.7" x2="560.5" y2="251.3" stroke="#767676" stroke-width="1" />
<line x1="585.8" y1="248.7" x2="585.8" y2="251.3" stroke="#767676" stroke-width="1" />
<line x1="663.4" y1="248.7" x2="663.4" y2="251.3" stroke="#767676" stroke-width="1" />
<text x="471.7" y="261" font-size="10.2" stroke="#000" stroke-width="0.25">-3Kb</text>
<text x="556.8" y="261" font-size="10.2" text-anchor="middle" stroke="#000" stroke-width="0.25">Start</text>
<text x="586" y="261" font-size="10.2" text-anchor="middle" stroke="#000" stroke-width="0.25">End</text>
<text x="657.6" y="261" font-size="10.2" text-anchor="middle" stroke="#000" stroke-width="0.25">3Kb</text>
<text x="575.2" y="147.8" font-size="12.7" text-anchor="middle" stroke="#000" stroke-width="0.25">FOSL1</text>
<line x1="607.8" y1="157.4" x2="620.5" y2="157.4" stroke="#23249a" stroke-width="1.2" />
<line x1="607.8" y1="165.7" x2="620.5" y2="165.7" stroke="#8ef08e" stroke-width="1.2" />
<text x="624.5" y="159.4" font-size="5.6" fill="#1a1a1a">PC3_SE.bed</text>
<text x="624.5" y="167.7" font-size="5.6" fill="#1a1a1a">PC3_TE.bed</text>
<text x="25" y="109.5" font-size="12.7" text-anchor="middle" stroke="#000" stroke-width="0.25" transform="rotate(-90 25 109.5)">Average Peak Intensity</text>
<polyline points="63.6,381.6 64.1,382.2 64.6,383.4 65.1,382.6 65.6,382.6 66.1,382.2 66.6,382.8 67.1,383 67.6,382.9 68.1,383.6 68.6,383.4 69.1,382.5 69.6,382.2 70.1,382.5 70.6,382.8 71.1,381.9 71.6,382.7 72.1,382.4 72.6,382.9 73.1,381.7 73.6,381.5 74.1,380.9 74.6,381.3 75.1,381.2 75.6,381.4 76.1,381.1 76.6,382.3 77.1,382.5 77.6,382 78.1,382 78.6,381.4 79.1,382.6 79.6,383.1 80,382.7 80.1,381.6 80.6,382.8 81.1,381.8 81.6,381.1 82.1,381.4 82.6,381.5 83.1,382.6 83.6,381.7 84.1,381 84.6,381.5 85.1,380.9 85.6,382 86.1,382.1 86.6,383 87.1,383.6 87.6,382.5 88.1,383 88.6,382.7 89.1,383.5 89.6,382.2 90.1,382.3 90.6,383.4 91.1,382.1 91.6,381.9 92.1,381.9 92.6,382 93.1,383.4 93.6,382.4 94.1,383.2 94.6,382.5 95.1,383.4 95.6,382.4 96.1,381.8 96.6,383.3 97.1,382.1 97.6,382.8 98.1,382.2 98.6,382.8 99.1,382.5 99.6,383 100,383.4 100.1,383.7 100.6,382.6 101.1,383.5 101.6,382.7 102.1,383.1 102.6,383.7 103.1,383.9 103.6,383.5 104.1,383.3 104.6,382.5 105.1,383.5 105.6,383.5 106.1,383.8 106.6,384.4 107.1,384.2 107.6,383.2 108.1,383.1 108.6,382.4 109.1,382.3 109.6,383.4 110.1,383.6 110.6,382.7 111.1,382.9 111.6,382.8 112.1,383.6 112.6,384.1 113.1,383.3 113.6,382.4 114.1,382.1 114.6,382.8 115.1,382.7 115.6,382 116.1,383.1 116.6,383.4 117.1,382.9 117.6,382.1 118.1,382.3 118.6,382.9 119.1,382.2 119.6,381.9 120,381.6 120.1,381.4 120.6,382.5 121.1,383.2 121.6,383.4 122.1,382.7 122.6,382.5 123.1,381.6 123.6,382.8 124.1,382.8 124.6,382.1 125.1,381.5 125.6,381.5 126.1,381.7 126.6,382.5 127.1,381.5 127.6,382.4 128.1,381.8 128.6,381.2 129.1,381.9 129.6,381.2 130.1,382.6 130.2,382.7 130.6,381.7 131.1,380 131.6,379.2 132.1,378 132.6,376.1 133.1,373.7 133.6,372.8 133.7,373.5 134.1,370.6 134.6,368.6 135.1,365.3 135.6,363.9 136.1,361.4 136.6,359.1 137.1,356.8 137.6,355.9 138.1,355.4 138.6,354.6 139.1,353.1 139.3,353.7 139.6,351.5 140.1,350.5 140.6,348.5 141.1,346 141.6,344.2 142.1,347.1 142.6,349.1 143.1,352.3 143.6,355.8 143.9,357.4 144.1,357.1 144.6,357.5 145.1,356.9 145.6,359.1 146.1,359 146.6,357.7 147.1,359.6 147.6,359.1 148,354.9 148.1,355.1 148.6,357.5 149.1,357.6 149.6,360.9 150.1,360 150.6,362 151.1,362.9 151.6,365.2 152,362.6 152.1,360.2 152.6,365 153.1,360.3 153.6,362.6 154.1,358.7 154.6,359.1 155.1,360.6 155.6,362.5 156,362.7 156.1,362.8 156.6,359.1 157.1,360.3 157.6,360.3 158.1,358.2 158.6,359.6 159.1,356.8 159.6,356.8 160,355.6 160.1,354 160.6,359.4 161.1,356.5 161.6,355.5 162.1,356.4 162.6,352.9 163,350.8 163.1,354.3 163.6,350.1 164.1,348.5 164.6,347.5 165.1,345.9 165.5,345.7 165.6,345.8 166.1,348.8 166.6,351.1 167.1,353.1 167.6,355 167.8,354.9 168.1,356.1 168.6,355.6 169.1,357 169.6,358.3 170.1,359 170.6,359.6 171.1,359.9 171.2,359.3 171.6,361.2 172.1,363.2 172.6,365.1 173.1,366.7 173.6,368.8 174.1,371.2 174.6,372 175.1,374 175.6,376.3 176.1,376.4 176.6,379.1 176.9,380.4 177.1,379.8 177.6,379.8 178.1,379.6 178.6,379.1 179.1,379.2 179.6,380.5 180.1,379.5 180.6,379.8 181.1,379.6 181.6,380.4 182.1,381.4 182.6,381.4 183.1,380.6 183.6,381.8 184.1,381.3 184.6,382 185.1,382.6 185.6,381.7 186.1,381 186.6,382.4 187.1,382.9 187.6,381.9 188.1,382.9 188.6,383.3 189.1,382.3 189.6,381.6 190,382.3 190.1,382.1 190.6,381.7 191.1,381.2 191.6,381.5 192.1,381.1 192.6,381 193.1,381.3 193.6,382 194.1,382.6 194.6,382.4 195.1,382 195.6,382.5 196.1,382.9 196.6,382.7 197.1,382.8 197.6,383.1 198.1,384 198.6,382.6 199.1,383.5 199.6,383.9 200,383.3 200.1,383.4 200.6,383.9 201.1,383.9 201.6,383.9 202.1,382.4 202.6,381.9 203.1,381.4 203.6,382.9 204.1,382 204.6,381.9 205.1,382.4 205.6,382.9 206.1,381.9 206.6,382.7 207.1,381.9 207.6,382.5 208.1,381.3 208.6,382.3 209.1,380.9 209.6,381.9 210.1,381.3 210.6,381.6 211.1,382 211.6,382.4 212.1,382.5 212.6,382.3 213.1,380.7 213.6,381.6 214.1,380.9 214.6,380.1 215.1,379.8 215.6,380.6 216.1,381.4 216.6,381 217.1,381.4 217.6,380.8 218,380.4 218.1,379.3 218.6,380.4 219.1,381.5 219.6,380.2 220.1,380.8 220.6,381.2 221.1,380.4 221.6,382 222.1,382.4 222.6,381.5 223.1,382.9 223.6,382 224.1,382.6 224.6,382.1 225,382.2 225.1,383.5 225.6,383.9 226.1,382.5 226.6,383.4 227.1,383.5 227.6,384.1 228.1,382.6 228.6,382.8 229.1,381.9 229.6,382.7 230.1,382.3 230.6,383.7 231.1,383.1 231.6,384.1 232.1,384.5 232.6,384.4 233.1,383 233.6,384 234.1,384.3 234.6,384.1 235.1,384.5 235.6,383.9 236.1,383.4 236.6,383.9 237.1,383.2 237.6,383 238.1,382.3 238.6,383.4 239.1,382.3 239.6,382.3 240.1,382.7 240.6,383.2 241.1,382.6 241.6,383.6 242.1,383.8 242.6,382.8 243.1,382.9 243.4,382.9" fill="none" stroke="#8ef08e" stroke-width="1.2" stroke-linejoin="round" />
<polyline points="63.6,378.7 64.1,378.9 64.6,378 65.1,378.9 65.6,379 66.1,379.3 66.6,378.3 67.1,377.6 67.6,376.9 68.1,376.7 68.6,376.2 69.1,376.9 69.6,376.7 70,377.2 70.1,377.6 70.6,377.5 71.1,377.4 71.6,377.8 72.1,377.7 72.6,378.8 73.1,378.8 73.6,379 74.1,380.4 74.6,380.6 75,381.6 75.1,382 75.6,381.6 76.1,380.6 76.6,379.9 77.1,379.5 77.6,380 78.1,379.8 78.6,379.3 79.1,378.5 79.6,378.4 80,378.4 80.1,378 80.6,378 81.1,378 81.6,378.2 82.1,378.3 82.6,378.5 83.1,379 83.6,378.4 84.1,377.7 84.6,377.6 85.1,377.4 85.6,377.8 86.1,377.8 86.6,377.6 87.1,377 87.6,377.7 88.1,377.8 88.6,377.9 89.1,378 89.6,378.2 90,377.1 90.1,376.8 90.6,377.1 91.1,377.7 91.6,377.7 92.1,377.8 92.6,377.5 93.1,377.4 93.6,378.2 94.1,378.9 94.6,378.6 95.1,378.4 95.6,377.9 96.1,378.3 96.6,378 97.1,378.5 97.6,378.2 98.1,378.4 98.6,379.2 99.1,378.8 99.6,379 100,378.7 100.1,378.8 100.6,379.5 101.1,379.2 101.6,379.8 102.1,379.3 102.6,379.1 103.1,379.3 103.6,379.2 104.1,379.3 104.6,378.9 105.1,378.2 105.6,378.4 106.1,378 106.6,378.1 107.1,378.6 107.6,379.1 108.1,379.7 108.6,379.6 109.1,379.4 109.6,379 110.1,379 110.6,378.7 111.1,378.2 111.6,378.6 112.1,379 112.6,378.7 113.1,379.2 113.6,379.2 114.1,378.8 114.6,379.4 115,378.5 115.1,378.4 115.6,378.4 116.1,378.9 116.6,378.5 117.1,379.4 117.6,378.5 118.1,378.6 118.6,378.6 119.1,379 119.6,378.5 120,378.1 120.1,378.7 120.6,379 121.1,378.8 121.6,379.1 122.1,378.5 122.6,378.1 123.1,378 123.6,377.3 124.1,377.9 124.6,377 125.1,376.5 125.6,377.4 126.1,377.2 126.6,376.5 126.8,377.3 127.1,376.3 127.6,375.8 128.1,374.5 128.6,373.8 129.1,373.6 129.6,373.5 130.1,372.3 130.6,372.4 131.1,371.9 131.4,371.7 131.6,370.7 132.1,366.6 132.6,361.9 133.1,357.7 133.6,355 133.7,353.6 134.1,349.6 134.6,345.2 135.1,340.7 135.6,336.1 135.9,333 136.1,331.9 136.6,330.9 137.1,328.3 137.6,326.5 138.1,325.9 138.2,325 138.6,326.2 139.1,327 139.6,327.9 139.9,328.4 140.1,324 140.6,313.2 141.1,302.5 141.6,337 142.1,329.3 142.4,324.6 142.6,327.2 143.1,333.7 143.6,340.1 143.9,344 144.1,343.8 144.6,346.3 145.1,340.5 145.6,340 146.1,339.9 146.6,338.4 147.1,342.8 147.6,340.5 148,335.9 148.1,343.4 148.6,341 149.1,344 149.6,343.8 150.1,340.9 150.6,340.2 151.1,342.6 151.6,346.9 152,346.3 152.1,347.7 152.6,344 153.1,343.3 153.6,340.7 154.1,342.8 154.6,342.9 155.1,344.8 155.6,345.6 156,346.2 156.1,340 156.6,343.1 157.1,337.7 157.6,339.1 158.1,342.2 158.6,336.7 159.1,344.2 159.6,341.8 160,338.6 160.1,339.9 160.6,342.4 161.1,335.7 161.6,342.1 162.1,339.7 162.6,337.5 163.1,336.6 163.3,336.1 163.6,333.7 164.1,329.6 164.6,325.5 165,322.3 165.1,320.2 165.6,309.5 165.8,305.2 166.1,315.1 166.6,331.5 166.7,334.8 167.1,332.2 167.6,329 168.1,325.8 168.6,322.5 168.9,320.6 169.1,321.1 169.6,322.2 170.1,323.4 170.6,324.6 171.1,328.5 171.6,332.5 172.1,336.4 172.6,340.3 173.1,344.3 173.5,347.4 173.6,348.2 174.1,352.1 174.6,356.1 175.1,360.1 175.6,364 175.8,365.6 176.1,366.3 176.6,367.5 177.1,368.6 177.6,369.8 178.1,370.9 178.6,372.1 179.1,373.3 179.2,373.5 179.6,374 180.1,374.5 180.6,375.1 181.1,375.7 181.6,376.3 182.1,376.9 182.6,377.4 183.1,378 183.6,378.6 183.7,378.7 184.1,379.3 184.6,379.7 185.1,379 185.6,378.8 186.1,378.1 186.6,377.4 187.1,378 187.6,378.2 188.1,378.8 188.6,379.2 189.1,378.7 189.6,377.6 190,377.9 190.1,378.7 190.6,378.4 191.1,378.6 191.6,378.5 192.1,378.4 192.6,378.3 193.1,378 193.6,378.2 194.1,379 194.6,379.3 195.1,378.3 195.6,378.2 196.1,377.9 196.6,377.8 197.1,377.6 197.6,378.8 198.1,378.5 198.6,379.2 199.1,379.9 199.6,379.2 200,379 200.1,378.6 200.6,378.4 201.1,379.6 201.6,380.1 202.1,380.4 202.6,379.3 203.1,379 203.6,379.1 204.1,378.3 204.6,378.7 205.1,379.3 205.6,379.7 206.1,379.8 206.6,378.9 207.1,379.1 207.6,378.3 208.1,378.2 208.6,377.4 209.1,377 209.6,376.8 210,377 210.1,377.9 210.6,378.2 211.1,377.7 211.6,377.7 212.1,377.8 212.6,377.6 213.1,377.5 213.6,378.9 214.1,379.4 214.6,379.5 215.1,378.7 215.6,378.9 216.1,379.6 216.6,380.1 217.1,379.4 217.6,379.3 218.1,379.7 218.6,379.2 219.1,379.7 219.6,379.1 220,380.1 220.1,379.6 220.6,379.6 221.1,380.1 221.6,380.3 222.1,381 222.6,380.9 223.1,380.2 223.6,379.6 224.1,380.3 224.6,380.7 225.1,380 225.6,380.6 226.1,380.3 226.6,379.8 227.1,379.4 227.6,379.8 228.1,380.5 228.6,380.5 229.1,380.1 229.6,380.5 230.1,379.7 230.6,380.4 231.1,380.8 231.6,380.6 232.1,379.8 232.6,380 233.1,380.9 233.6,381.5 234.1,381.5 234.6,381.5 235.1,381.9 235.6,381 236.1,381.5 236.6,381.8 237.1,381.9 237.6,381 238.1,381.1 238.6,380.2 239.1,380.1 239.6,381 240.1,380.3 240.6,380.8 241.1,380.4 241.6,381.4 242.1,381.9 242.6,382.3 243.1,381.9 243.4,382.3" fill="none" stroke="#23249a" stroke-width="1.25" stroke-linejoin="round" />
<rect x="63.6" y="298.4" width="179.8" height="97.6" fill="none" stroke="#767676" stroke-width="1.0"/>
<line x1="61" y1="313.2" x2="63.6" y2="313.2" stroke="#767676" stroke-width="1" />
<text x="57.8" y="317.8" font-size="12.9" text-anchor="end" stroke="#000" stroke-width="0.25">0.6</text>
<line x1="61" y1="329.2" x2="63.6" y2="329.2" stroke="#767676" stroke-width="1" />
<text x="57.8" y="333.8" font-size="12.9" text-anchor="end" stroke="#000" stroke-width="0.25">0.5</text>
<line x1="61" y1="345.1" x2="63.6" y2="345.1" stroke="#767676" stroke-width="1" />
<text x="57.8" y="349.7" font-size="12.9" text-anchor="end" stroke="#000" stroke-width="0.25">0.4</text>
<line x1="61" y1="361.1" x2="63.6" y2="361.1" stroke="#767676" stroke-width="1" />
<text x="57.8" y="365.7" font-size="12.9" text-anchor="end" stroke="#000" stroke-width="0.25">0.3</text>
<line x1="61" y1="377.3" x2="63.6" y2="377.3" stroke="#767676" stroke-width="1" />
<text x="57.8" y="381.9" font-size="12.9" text-anchor="end" stroke="#000" stroke-width="0.25">0.2</text>
<line x1="61" y1="393.3" x2="63.6" y2="393.3" stroke="#767676" stroke-width="1" />
<text x="57.8" y="397.9" font-size="12.9" text-anchor="end" stroke="#000" stroke-width="0.25">0.1</text>
<line x1="63.6" y1="396" x2="63.6" y2="398.6" stroke="#767676" stroke-width="1" />
<line x1="141" y1="396" x2="141" y2="398.6" stroke="#767676" stroke-width="1" />
<line x1="166.6" y1="396" x2="166.6" y2="398.6" stroke="#767676" stroke-width="1" />
<line x1="243.4" y1="396" x2="243.4" y2="398.6" stroke="#767676" stroke-width="1" />
<text x="52.4" y="407.6" font-size="10.2" stroke="#000" stroke-width="0.25">-3Kb</text>
<text x="141" y="407.6" font-size="10.2" text-anchor="middle" stroke="#000" stroke-width="0.25">Start</text>
<text x="166.8" y="407.6" font-size="10.2" text-anchor="middle" stroke="#000" stroke-width="0.25">End</text>
<text x="242.1" y="407.6" font-size="10.2" text-anchor="middle" stroke="#000" stroke-width="0.25">3Kb</text>
<text x="155.2" y="292" font-size="12.7" text-anchor="middle" stroke="#000" stroke-width="0.25">JUN (at SEs)</text>
<line x1="68" y1="306" x2="80" y2="306" stroke="#23249a" stroke-width="1.2" />
<line x1="68" y1="314" x2="80" y2="314" stroke="#8ef08e" stroke-width="1.2" />
<text x="84" y="308" font-size="5.3" fill="#1a1a1a">PC3_siNC_ChIP_JUN</text>
<text x="84" y="316" font-size="5.3" fill="#1a1a1a">PC3_siFOXA2_ChIP_JUN</text>
<text x="14.2" y="348" font-size="12.7" text-anchor="middle" stroke="#000" stroke-width="0.25" transform="rotate(-90 14.2 348)">Average Peak</text>
<text x="30.6" y="347.6" font-size="12.7" text-anchor="middle" stroke="#000" stroke-width="0.25" transform="rotate(-90 30.6 347.6)">Intensity</text>
<polyline points="284.7,384.3 285.2,385.3 285.7,385.4 286.2,388.4 286.7,387.9 287.2,387.1 287.7,385.6 288.2,380.7 288.7,384.2 289.2,381.4 289.7,381.1 290,377.3 290.2,377.5 290.7,381.3 291.2,377 291.7,375.1 292.2,376 292.7,376.3 293.2,377.2 293.7,377.3 294.2,374.9 294.7,372.4 295.2,374.1 295.7,374 296.2,375.6 296.7,376.1 297.2,377.2 297.7,375.3 298,374.2 298.2,376.3 298.7,380.1 299.2,380.4 299.7,376.5 300,377.5 300.2,382.5 300.7,384.1 301.2,379.5 301.7,377.2 302.2,374.7 302.7,374.5 303.2,374 303.7,380.5 304.2,382.4 304.7,378.3 305.2,374.4 305.7,379.6 306.2,379.1 306.7,380.9 307.2,376.9 307.7,379.5 308.2,379.9 308.7,378.9 309.2,378.4 309.7,378.4 310,376.5 310.2,379.8 310.7,375 311.2,375.9 311.7,376.3 312.2,377.6 312.7,381 313.2,376.8 313.7,378.2 314.2,379.3 314.7,379.5 315.2,381.6 315.7,383.3 316.2,383.7 316.7,383.3 317.2,382.4 317.7,387.1 318.2,387.7 318.7,387.2 319.2,382.9 319.7,384.1 320,386.9 320.2,383.9 320.7,384.6 321.2,384.8 321.7,382.6 322.2,387.1 322.7,388.9 323.2,384.9 323.7,382.6 324.2,382.4 324.7,385.7 325.2,383.1 325.7,386 326.2,388.2 326.7,382.8 327.2,385.4 327.7,386.2 328.2,385.9 328.7,385.9 329.2,383.2 329.7,381 330,386 330.2,382.3 330.7,386.3 331.2,386.8 331.7,383.8 332.2,383.4 332.7,381.7 333.2,380.6 333.7,384.5 334.2,380.3 334.7,379.7 335.2,385.1 335.7,382.4 336.2,383 336.7,383.4 337.2,384 337.7,385.3 338.2,385.3 338.7,381.4 339.2,380.4 339.7,384.8 340,385.7 340.2,382.5 340.7,380.3 341.2,380.4 341.7,383.6 342.2,380.4 342.7,377.8 343.2,377.5 343.7,378.2 344.2,383.5 344.7,379.9 345.2,378.6 345.7,382.6 346.2,385.2 346.7,386.8 347.2,386.8 347.7,387 348.2,386.4 348.7,387.2 349.2,383.9 349.7,385.8 350.2,380.4 350.7,379.9 351.2,385 351.4,382.9 351.7,381.7 352.2,381.3 352.7,377.9 353.2,373 353.7,376 354.2,372 354.7,375 355.2,372.9 355.7,371.3 356.2,373.5 356.7,368.9 357.1,369.9 357.2,366.1 357.7,367.5 358.2,361.4 358.7,367.3 359.2,360.4 359.7,364.2 360.2,364.3 360.5,353 360.7,354 361.2,363.4 361.7,357 362.2,351.6 362.7,353.6 363.2,356.6 363.7,356.8 364.2,359.8 364.7,361.6 365,353.9 365.2,352.5 365.7,354.7 366.2,365.4 366.7,356.3 367.2,363.3 367.7,363.5 368.2,358.6 368.7,366.1 369.2,365.9 369.7,366.1 370,368.1 370.2,361.6 370.7,354.4 371.2,365.7 371.7,354.2 372.2,354.8 372.7,357.1 373.2,357.9 373.7,360.1 374.2,353.3 374.7,354.7 375,360.8 375.2,355.1 375.7,355.8 376.2,361.2 376.7,359.6 377.2,363.4 377.7,364.9 378.2,352.2 378.7,352.1 379.2,364.5 379.7,357.4 380,358.1 380.2,351.9 380.7,363 381.2,358.4 381.7,358.7 382.2,361.4 382.7,361.3 383.2,351 383.7,362 384.2,362.1 384.7,360.6 385,362.6 385.2,364.1 385.7,355.3 386.2,362.1 386.7,357.1 387.2,363.2 387.7,360.6 388.2,361 388.7,361.8 388.9,354.9 389.2,356.3 389.7,357 390.2,358.7 390.7,361.4 391.2,367 391.7,365.9 392.2,366.2 392.7,370.7 393.2,372.9 393.5,371.5 393.7,375.9 394.2,377 394.7,376.4 395.2,373.7 395.7,376.8 396.2,376.1 396.7,379.9 396.9,383.2 397.2,379.8 397.7,377.3 398.2,379.9 398.7,382.5 399.2,377.8 399.7,381.9 400.2,384.2 400.7,385.2 401.2,380.2 401.7,376.9 402.2,380.6 402.7,380.2 403.2,383.4 403.7,379.4 404.2,382.2 404.7,384.8 405.2,383 405.7,382.4 406.2,379.6 406.7,381.7 407.2,384.8 407.7,383.7 408.2,385 408.7,378.9 409.2,379.9 409.7,377.6 410,381.8 410.2,382.6 410.7,385.4 411.2,380.9 411.7,384.9 412.2,385.3 412.7,384.6 413.2,385.3 413.7,385.5 414.2,382.2 414.7,381.5 415.2,385.3 415.7,380.2 416.2,378.1 416.7,382.1 417.2,382.1 417.7,380.3 418.2,378.5 418.7,378.5 419.2,382.2 419.7,382.6 420,382.3 420.2,383.3 420.7,385.1 421.2,379.6 421.7,383.8 422.2,379.4 422.7,379.1 423.2,383.5 423.7,379.2 424.2,379.1 424.7,381.2 425.2,385 425.7,386.3 426.2,386.8 426.7,383.9 427.2,385.5 427.7,383.6 428.2,382.7 428.7,382.7 429.2,381.2 429.7,382.5 430.2,378.9 430.7,380.3 431.2,382.9 431.7,383.2 432.2,380.8 432.7,383.2 433.2,380.4 433.7,381.4 434.2,384.8 434.7,384.8 435.2,382 435.7,383.3 436.2,383.7 436.7,379.8 437.2,383.1 437.7,383.5 438.2,382.6 438.7,383.5 439.2,380.7 439.7,384.9 440,384.8 440.2,384.6 440.7,382.3 441.2,380.5 441.7,379.7 442.2,383 442.7,384 443.2,386.4 443.7,384.9 444.2,381.9 444.7,379.6 445.2,382.8 445.7,381.6 446.2,380 446.7,381.4 447.2,384.4 447.7,382.3 448.2,385.8 448.7,384.5 449.2,381.4 449.7,383.8 450.2,380.6 450.7,383.8 451.2,380.8 451.7,380.4 452.2,380.2 452.7,381 453.2,385.6 453.7,387.8 454.2,385.5 454.7,386.8 455.2,387.6 455.7,386.4 456.2,387.8 456.7,388.7 457.2,387.3 457.7,385.6 458.2,386.2 458.7,385.1 459.2,384 459.7,386.8 460.2,384.2 460.7,383.7 461.2,383.7 461.7,384.2 462.2,388.6 462.7,388.2 463.2,385.8 463.7,382.9 464.2,386 464.7,383.7 465,385.9" fill="none" stroke="#8ef08e" stroke-width="1.2" stroke-linejoin="round" />
<polyline points="284.7,363 285.2,362.6 285.7,362.5 286.2,361.9 286.7,362.7 287.2,361 287.7,360.8 288.2,361.6 288.7,361.4 289.2,362 289.7,360.4 290,359.7 290.2,359.2 290.7,358.2 291.2,357.4 291.7,358.2 292.2,358 292.7,358.6 293.2,359.9 293.7,360.7 294.2,360.4 294.7,358.8 295.2,358 295.7,359 296.2,357.5 296.7,358.4 297.2,357 297.7,356.8 298,357 298.2,358.3 298.7,358.3 299.2,358.5 299.7,357.1 300.2,356.2 300.7,357.3 301.2,356.9 301.7,357.1 302.2,355.2 302.7,354 303.2,354.4 303.7,354.2 304.2,353.9 304.7,355.3 305,356.4 305.2,355.1 305.7,354.3 306.2,354.3 306.7,354.5 307.2,356.4 307.7,356.6 308.2,358.7 308.7,357.1 309.2,358 309.7,357.5 310.2,359.5 310.7,359.4 311.2,359.1 311.7,360.1 312.2,361.8 312.7,360.2 313.2,360.2 313.7,362.5 314.2,362.4 314.7,361.6 315,363.6 315.2,364.8 315.7,364 316.2,363 316.7,362 317.2,363.7 317.7,364.8 318.2,365.4 318.7,365.7 319.2,364.9 319.7,364.4 320,364.9 320.2,365.8 320.7,365.2 321.2,365 321.7,364.5 322.2,365.4 322.7,366.3 323.2,364.7 323.7,365.8 324.2,366 324.7,364.8 325.2,363.6 325.7,364.2 326.2,364.1 326.7,364.1 327.2,365.3 327.7,365.9 328.2,365.3 328.7,364.4 329.2,362.8 329.7,361.6 330.2,363.1 330.7,362.2 331.2,362.9 331.7,362.2 332.2,361.4 332.7,362.4 333.2,361.3 333.7,360.4 334.2,362.6 334.7,362 335,361.6 335.2,362.8 335.7,362.1 336.2,363.7 336.7,363.1 337.2,364.5 337.7,365.5 338.2,364.4 338.7,364.8 339.2,366.6 339.7,366.8 340,366.7 340.2,365.2 340.7,364.4 341.2,366.1 341.7,367 342.2,365.9 342.7,365.5 343.2,363.5 343.4,364.9 343.7,364.7 344.2,364.7 344.7,365 345.2,363.2 345.7,363.4 346.2,362.8 346.7,361.8 347.2,360.8 347.7,361.7 348.2,360.6 348.7,359.7 349.2,359.8 349.7,359.9 350.2,359.8 350.7,359.1 351.2,360.8 351.4,359.1 351.7,359.4 352.2,358.4 352.5,356.9 352.7,355 353.2,353.2 353.7,350.6 354.2,346.3 354.7,344.5 354.8,343.8 355.2,340 355.7,338.6 356.2,334.7 356.7,330.5 357.2,329.3 357.7,326.7 358.2,323.1 358.7,320 358.8,319.2 359.2,318.5 359.7,316.4 360.2,316.1 360.7,315.6 361,315.3 361.2,313.2 361.7,307.8 362.2,302.4 362.7,308.3 363.2,314.3 363.3,315.5 363.7,316.9 364.2,317 364.7,321.2 365,322.3 365.2,322.2 365.7,324.7 366.2,325.8 366.7,323.6 367.2,323.3 367.7,326.7 367.9,326.2 368.2,326.1 368.7,328.7 369.2,331.1 369.6,332.8 369.7,330.8 370.2,328.5 370.7,328.3 371.2,320.6 371.3,318.9 371.7,322.8 372.2,329.5 372.7,333.3 373,338 373.2,337.6 373.7,334.5 374.2,330.6 374.7,329.6 375.2,328.1 375.7,320.7 376.2,318 376.4,319.6 376.7,319.6 377.2,318.8 377.7,320.9 378.2,319.5 378.7,323 379.2,317.7 379.7,315.2 380.2,317.2 380.7,314.6 381,315.3 381.2,317.5 381.7,319.2 382.2,320.6 382.7,320.5 383.2,323.3 383.7,317.5 384.2,316 384.7,310.9 385.2,306.1 385.5,303.2 385.7,303.5 386.2,304.5 386.7,305.4 387.2,306.4 387.7,310.4 388.2,314.4 388.7,318.4 388.9,320 389.2,321.4 389.7,323.7 390.2,325.9 390.7,328.2 391.2,330.5 391.7,332.8 392.2,335.1 392.4,336 392.7,337.7 393.2,340.5 393.7,343.4 394.2,346.2 394.7,349.1 395.2,351.9 395.7,354.6 396.2,357.3 396.7,359.9 396.9,361 397.2,361.4 397.7,362.1 398.2,362.3 398.7,362 399.2,362.9 399.7,363.5 400.2,363.4 400.3,364.9 400.7,363.9 401.2,365.5 401.7,366.7 402.2,367 402.7,367.1 403.2,366.9 403.7,367.2 404.2,366.6 404.7,366.4 405.2,364.8 405.7,365.1 406.2,366.6 406.7,364.9 407.2,364.9 407.7,366.3 408.2,366 408.7,366.9 409.2,366.5 409.7,365.7 410,366.9 410.2,365.9 410.7,366.4 411.2,366.2 411.7,366.7 412.2,365.9 412.7,365.7 413.2,363.7 413.7,364.2 414.2,362.5 414.7,362.1 415.2,363.2 415.7,362.3 416.2,361.8 416.7,362.4 417.2,363.5 417.7,361.6 418.2,360.7 418.7,361.3 419.2,361.8 419.7,360.6 420,361 420.2,359.7 420.7,359.3 421.2,359.1 421.7,359.5 422.2,360.3 422.7,361.7 423.2,361.3 423.7,360.9 424.2,360.8 424.7,359.7 425.2,360.4 425.7,361 426.2,361.1 426.7,360.4 427.2,361.1 427.7,359.5 428.2,358.7 428.7,359.2 429.2,359.4 429.7,359.2 430,360.8 430.2,361.1 430.7,360.5 431.2,360.6 431.7,359.7 432.2,360.4 432.7,360.9 433.2,359.9 433.7,360.2 434.2,360.2 434.7,360.5 435.2,359 435.7,359.2 436.2,358.3 436.7,359.3 437.2,359.3 437.7,359.8 438.2,358.6 438.7,358.6 439.2,358.9 439.7,359.6 440,360 440.2,359.4 440.7,360.9 441.2,359.4 441.7,360.4 442.2,361.2 442.7,362 443.2,360.3 443.7,360.6 444.2,360.2 444.7,359.5 445.2,360.3 445.7,361.9 446.2,361.7 446.7,362.7 447.2,361 447.7,362.1 448.2,361.6 448.7,361.2 449.2,360.3 449.7,362.4 450,363 450.2,362.6 450.7,362.2 451.2,363.3 451.7,364.2 452.2,364.6 452.7,362.4 453.2,361.8 453.7,361.7 454.2,361.6 454.7,362.3 455.2,361.8 455.7,361 456.2,362.6 456.7,361.9 457.2,363.3 457.7,363.1 458.2,363.4 458.7,364.5 459.2,364.9 459.7,363.2 460.2,362.3 460.7,363 461.2,363.6 461.7,364.5 462.2,363.8 462.7,364.8 463.2,364.6 463.7,365 464.2,363.6 464.7,363.3 465,363.4" fill="none" stroke="#23249a" stroke-width="1.25" stroke-linejoin="round" />
<rect x="284.7" y="297.6" width="180.3" height="98.3" fill="none" stroke="#767676" stroke-width="1.0"/>
<line x1="282.1" y1="304" x2="284.7" y2="304" stroke="#767676" stroke-width="1" />
<text x="280.7" y="308.6" font-size="12.9" text-anchor="end" stroke="#000" stroke-width="0.25">0.35</text>
<line x1="282.1" y1="318.6" x2="284.7" y2="318.6" stroke="#767676" stroke-width="1" />
<text x="280.7" y="323.2" font-size="12.9" text-anchor="end" stroke="#000" stroke-width="0.25">0.30</text>
<line x1="282.1" y1="334" x2="284.7" y2="334" stroke="#767676" stroke-width="1" />
<text x="280.7" y="338.6" font-size="12.9" text-anchor="end" stroke="#000" stroke-width="0.25">0.25</text>
<line x1="282.1" y1="349" x2="284.7" y2="349" stroke="#767676" stroke-width="1" />
<text x="280.7" y="353.6" font-size="12.9" text-anchor="end" stroke="#000" stroke-width="0.25">0.20</text>
<line x1="282.1" y1="363.6" x2="284.7" y2="363.6" stroke="#767676" stroke-width="1" />
<text x="280.7" y="368.2" font-size="12.9" text-anchor="end" stroke="#000" stroke-width="0.25">0.15</text>
<line x1="282.1" y1="379" x2="284.7" y2="379" stroke="#767676" stroke-width="1" />
<text x="280.7" y="383.6" font-size="12.9" text-anchor="end" stroke="#000" stroke-width="0.25">0.10</text>
<line x1="282.1" y1="393.6" x2="284.7" y2="393.6" stroke="#767676" stroke-width="1" />
<text x="280.7" y="398.2" font-size="12.9" text-anchor="end" stroke="#000" stroke-width="0.25">0.05</text>
<line x1="284.7" y1="395.9" x2="284.7" y2="398.5" stroke="#767676" stroke-width="1" />
<line x1="361.4" y1="395.9" x2="361.4" y2="398.5" stroke="#767676" stroke-width="1" />
<line x1="387.4" y1="395.9" x2="387.4" y2="398.5" stroke="#767676" stroke-width="1" />
<line x1="465" y1="395.9" x2="465" y2="398.5" stroke="#767676" stroke-width="1" />
<text x="276.1" y="406.6" font-size="10.2" stroke="#000" stroke-width="0.25">-3Kb</text>
<text x="357.6" y="406.6" font-size="10.2" text-anchor="middle" stroke="#000" stroke-width="0.25">Start</text>
<text x="387.6" y="406.6" font-size="10.2" text-anchor="middle" stroke="#000" stroke-width="0.25">End</text>
<text x="465" y="406.6" font-size="10.2" text-anchor="middle" stroke="#000" stroke-width="0.25">3Kb</text>
<text x="375.2" y="292.4" font-size="12.7" text-anchor="middle" stroke="#000" stroke-width="0.25">FOSL1 (at SEs)</text>
<text x="185" y="316.6" font-size="12.7" stroke="#000" stroke-width="0.25">siNTC</text>
<line x1="183.6" y1="315.6" x2="176.13" y2="322.27" stroke="#ee1c1c" stroke-width="1.6" />
<polygon points="172.4,325.6 174.1,320 178.1,324.5" fill="#ee1c1c" />
<text x="181" y="348" font-size="12.7" stroke="#000" stroke-width="0.25">siFOXA2</text>
<line x1="179.6" y1="345.6" x2="172.23" y2="352.56" stroke="#ee1c1c" stroke-width="1.6" />
<polygon points="168.6,356 170.2,350.4 174.3,354.7" fill="#ee1c1c" />
<text x="401.4" y="310" font-size="12.7" stroke="#000" stroke-width="0.25">siNTC</text>
<line x1="400" y1="308.4" x2="392.6" y2="315.53" stroke="#ee1c1c" stroke-width="1.6" />
<polygon points="389,319 390.5,313.4 394.7,317.7" fill="#ee1c1c" />
<text x="403" y="350" font-size="12.7" stroke="#000" stroke-width="0.25">siFOXA2</text>
<line x1="401" y1="348.4" x2="394.04" y2="354.97" stroke="#ee1c1c" stroke-width="1.6" />
<polygon points="390.4,358.4 392,352.8 396.1,357.2" fill="#ee1c1c" />
<rect x="551.2" y="310" width="19.56" height="18.96" fill="#ff6a60"/>
<rect x="570.46" y="310" width="19.56" height="18.96" fill="#ffc5c2"/>
<rect x="589.72" y="310" width="19.56" height="18.96" fill="#8a96ff"/>
<rect x="608.98" y="310" width="19.56" height="18.96" fill="#6574ff"/>
<rect x="628.24" y="310" width="19.56" height="18.96" fill="#8591ff"/>
<rect x="551.2" y="328.66" width="19.56" height="18.96" fill="#ff8a86"/>
<rect x="570.46" y="328.66" width="19.56" height="18.96" fill="#ff716a"/>
<rect x="589.72" y="328.66" width="19.56" height="18.96" fill="#6b7aff"/>
<rect x="608.98" y="328.66" width="19.56" height="18.96" fill="#b3b8ff"/>
<rect x="628.24" y="328.66" width="19.56" height="18.96" fill="#4258ff"/>
<rect x="551.2" y="347.32" width="19.56" height="18.96" fill="#93a0ff"/>
<rect x="570.46" y="347.32" width="19.56" height="18.96" fill="#ffe3e0"/>
<rect x="589.72" y="347.32" width="19.56" height="18.96" fill="#ff2a0c"/>
<rect x="608.98" y="347.32" width="19.56" height="18.96" fill="#1b3bff"/>
<rect x="628.24" y="347.32" width="19.56" height="18.96" fill="#fff3f0"/>
<rect x="551.2" y="365.98" width="19.56" height="18.96" fill="#d8dbff"/>
<rect x="570.46" y="365.98" width="19.56" height="18.96" fill="#2744ff"/>
<rect x="589.72" y="365.98" width="19.56" height="18.96" fill="#98a3ff"/>
<rect x="608.98" y="365.98" width="19.56" height="18.96" fill="#ff3b30"/>
<rect x="628.24" y="365.98" width="19.56" height="18.96" fill="#b8beff"/>
<rect x="551.2" y="384.64" width="19.56" height="18.96" fill="#6c7cff"/>
<rect x="570.46" y="384.64" width="19.56" height="18.96" fill="#1c3cff"/>
<rect x="589.72" y="384.64" width="19.56" height="18.96" fill="#ffd8d5"/>
<rect x="608.98" y="384.64" width="19.56" height="18.96" fill="#ffd8d5"/>
<rect x="628.24" y="384.64" width="19.56" height="18.96" fill="#ff4438"/>
<rect x="551.2" y="310" width="96.3" height="93.3" fill="none" stroke="#111" stroke-width="1.1"/>
<line x1="548.7" y1="319.33" x2="551.2" y2="319.33" stroke="#111" stroke-width="0.9" />
<text x="545.7" y="323.03" font-size="10.2" text-anchor="end" font-weight="bold" fill="#4169c8" stroke="#4169c8" stroke-width="0.25">LNCaP-SEs</text>
<line x1="548.7" y1="337.99" x2="551.2" y2="337.99" stroke="#111" stroke-width="0.9" />
<text x="545.7" y="341.69" font-size="10.2" text-anchor="end" font-weight="bold" fill="#4169c8" stroke="#4169c8" stroke-width="0.25">201.1-SEs</text>
<line x1="548.7" y1="356.65" x2="551.2" y2="356.65" stroke="#111" stroke-width="0.9" />
<text x="545.7" y="360.35" font-size="10.2" text-anchor="end" font-weight="bold" fill="#ee1111" stroke="#ee1111" stroke-width="0.25">PC-3-SEs</text>
<line x1="548.7" y1="375.31" x2="551.2" y2="375.31" stroke="#111" stroke-width="0.9" />
<text x="545.7" y="379.01" font-size="10.2" text-anchor="end" font-weight="bold" fill="#c9a020" stroke="#c9a020" stroke-width="0.25">H660-SEs</text>
<line x1="548.7" y1="393.97" x2="551.2" y2="393.97" stroke="#111" stroke-width="0.9" />
<text x="545.7" y="397.67" font-size="10.2" text-anchor="end" font-weight="bold" fill="#c8641e" stroke="#c8641e" stroke-width="0.25">201.2-SEs</text>
<line x1="560.83" y1="403.3" x2="560.83" y2="405.8" stroke="#111" stroke-width="0.9" />
<text x="564.43" y="411.3" font-size="10.4" text-anchor="end" stroke="#000" stroke-width="0.25" transform="rotate(-55 564.43 411.3)">LNCaP</text>
<line x1="580.09" y1="403.3" x2="580.09" y2="405.8" stroke="#111" stroke-width="0.9" />
<text x="583.69" y="411.3" font-size="10.4" text-anchor="end" stroke="#000" stroke-width="0.25" transform="rotate(-55 583.69 411.3)">201.1</text>
<line x1="599.35" y1="403.3" x2="599.35" y2="405.8" stroke="#111" stroke-width="0.9" />
<text x="602.95" y="411.3" font-size="10.4" text-anchor="end" stroke="#000" stroke-width="0.25" transform="rotate(-55 602.95 411.3)">PC-3</text>
<line x1="618.61" y1="403.3" x2="618.61" y2="405.8" stroke="#111" stroke-width="0.9" />
<text x="622.21" y="411.3" font-size="10.4" text-anchor="end" stroke="#000" stroke-width="0.25" transform="rotate(-55 622.21 411.3)">H660</text>
<line x1="637.87" y1="403.3" x2="637.87" y2="405.8" stroke="#111" stroke-width="0.9" />
<text x="641.47" y="411.3" font-size="10.4" text-anchor="end" stroke="#000" stroke-width="0.25" transform="rotate(-55 641.47 411.3)">201.2</text>
<text x="598.2" y="302.3" font-size="12.7" text-anchor="middle" stroke="#000" stroke-width="0.25">Signature Score</text>
<defs><linearGradient id="cb" x1="0" y1="0" x2="0" y2="1"><stop offset="0" stop-color="#ff2a0c"/><stop offset="0.2" stop-color="#ff5a48"/><stop offset="0.4" stop-color="#ffb0aa"/><stop offset="0.605" stop-color="#ffffff"/><stop offset="0.8" stop-color="#8a98ff"/><stop offset="1" stop-color="#1b3bff"/></linearGradient></defs>
<rect x="656.2" y="310" width="9.8" height="93.3" fill="url(#cb)" stroke="#111" stroke-width="1.0"/>
<line x1="666" y1="336.4" x2="668.2" y2="336.4" stroke="#111" stroke-width="0.9" />
<text x="669.8" y="339.6" font-size="9.0" stroke="#000" stroke-width="0.25">1</text>
<line x1="666" y1="366.3" x2="668.2" y2="366.3" stroke="#111" stroke-width="0.9" />
<text x="669.8" y="369.5" font-size="9.0" stroke="#000" stroke-width="0.25">0</text>
<line x1="666" y1="396.3" x2="668.2" y2="396.3" stroke="#111" stroke-width="0.9" />
<text x="669.8" y="399.5" font-size="9.0" stroke="#000" stroke-width="0.25">-1</text>
<path fill="#f34326" d="M57.5 474.2h15.8v1.2h-15.8zM57.5 548.2h15.8v1.7h-15.8z"/>
<path fill="#f89a87" d="M73 474.2h15.8v1.2h-15.8zM181.9 599.9h15.8v1.2h-15.8z"/>
<path fill="#f34e33" d="M88.6 474.2h15.8v1.2h-15.8zM88.6 548.2h15.8v1.7h-15.8z"/>
<path fill="#f7e6e9" d="M104.1 474.2h15.8v1.2h-15.8zM150.8 474.2h15.8v1.2h-15.8zM166.3 499.7h15.8v2.2h-15.8zM166.3 561.7h15.8v1.7h-15.8z"/>
<path fill="#9886f5" d="M119.7 474.2h15.8v1.2h-15.8z"/>
<path fill="#a897f5" d="M135.2 474.2h15.8v1.2h-15.8zM104.1 551.7h15.8v2.7h-15.8zM88.6 589.4h15.8v2.2h-15.8zM119.7 641.5h15.8v2.2h-15.8z"/>
<path fill="#e0d6f5" d="M166.3 474.2h15.8v1.2h-15.8zM166.3 528.2h15.8v1.7h-15.8zM73 612.9h15.8v2.7h-15.8z"/>
<path fill="#f7dfe0" d="M181.9 474.2h15.8v1.2h-15.8zM181.9 494.2h15.8v2.7h-15.8zM166.3 544.7h15.8v2.7h-15.8zM181.9 557.7h15.8v2.7h-15.8zM181.9 591.4h15.8v2.2h-15.8z"/>
<path fill="#f56e56" d="M57.5 475.2h15.8v2.2h-15.8zM57.5 538.2h15.8v2.2h-15.8zM88.6 555.7h15.8v2.2h-15.8zM104.1 603.4h15.8v2.2h-15.8z"/>
<path fill="#f56b53" d="M73 475.2h15.8v2.2h-15.8zM104.1 571.4h15.8v2.7h-15.8zM119.7 607.9h15.8v1.7h-15.8z"/>
<path fill="#f89b88" d="M88.6 475.2h15.8v2.2h-15.8zM119.7 580.4h15.8v1.7h-15.8z"/>
<path fill="#f7d3d1" d="M104.1 475.2h15.8v2.2h-15.8zM73 525.2h15.8v1.7h-15.8zM166.3 529.7h15.8v2.7h-15.8zM150.8 544.7h15.8v2.7h-15.8z"/>
<path fill="#d7ccf5" d="M119.7 475.2h15.8v2.2h-15.8zM104.1 519.7h15.8v1.2h-15.8zM150.8 563.2h15.8v2.7h-15.8zM150.8 568.9h15.8v1.2h-15.8zM73 637h15.8v1.2h-15.8z"/>
<path fill="#f4ecf5" d="M135.2 475.2h15.8v2.2h-15.8zM181.9 628.5h15.8v2.2h-15.8z"/>
<path fill="#f7c8c2" d="M150.8 475.2h15.8v2.2h-15.8zM150.8 506.7h15.8v2.2h-15.8zM73 508.7h15.8v1.7h-15.8zM73 541.2h15.8v1.2h-15.8zM73 554.2h15.8v1.7h-15.8zM88.6 560.2h15.8v1.7h-15.8zM150.8 580.4h15.8v1.7h-15.8zM150.8 583.4h15.8v1.7h-15.8z"/>
<path fill="#5145f3" d="M166.3 475.2h15.8v2.2h-15.8zM88.6 605.4h15.8v2.7h-15.8z"/>
<path fill="#f7cbc5" d="M181.9 475.2h15.8v2.2h-15.8z"/>
<path fill="#f79784" d="M57.5 477.2h15.8v1.2h-15.8zM88.6 526.7h15.8v1.7h-15.8zM57.5 540.2h15.8v1.2h-15.8z"/>
<path fill="#f67861" d="M73 477.2h15.8v1.2h-15.8zM88.6 533.7h15.8v2.7h-15.8zM57.5 563.2h15.8v2.7h-15.8z"/>
<path fill="#f8a99a" d="M88.6 477.2h15.8v1.2h-15.8zM104.1 518.7h15.8v1.2h-15.8zM150.8 547.2h15.8v1.2h-15.8zM104.1 620.4h15.8v0.3h-15.8zM181.9 627.5h15.8v1.2h-15.8z"/>
<path fill="#a998f5" d="M104.1 477.2h15.8v1.2h-15.8zM88.6 584.9h15.8v1.2h-15.8zM119.7 635h15.8v1.2h-15.8z"/>
<path fill="#cec2f5" d="M119.7 477.2h15.8v1.2h-15.8zM181.9 595.9h15.8v2.7h-15.8z"/>
<path fill="#c1b3f5" d="M135.2 477.2h15.8v1.2h-15.8zM104.1 510.2h15.8v1.7h-15.8zM88.6 567.4h15.8v1.7h-15.8zM135.2 578.4h15.8v2.2h-15.8z"/>
<path fill="#f7d4d2" d="M150.8 477.2h15.8v1.2h-15.8z"/>
<path fill="#b3a4f5" d="M166.3 477.2h15.8v1.2h-15.8zM88.6 586.9h15.8v2.7h-15.8z"/>
<path fill="#f8b6aa" d="M181.9 477.2h15.8v1.2h-15.8zM181.9 501.7h15.8v1.7h-15.8z"/>
<path fill="#f3482b" d="M57.5 478.2h15.8v1.7h-15.8z"/>
<path fill="#f8c6bf" d="M73 478.2h15.8v1.7h-15.8zM104.1 541.2h15.8v1.2h-15.8zM166.3 615.4h15.8v1.7h-15.8z"/>
<path fill="#f89a88" d="M88.6 478.2h15.8v1.7h-15.8z"/>
<path fill="#d0c3f5" d="M104.1 478.2h15.8v1.7h-15.8zM181.9 581.9h15.8v1.7h-15.8z"/>
<path fill="#f0e8f5" d="M119.7 478.2h15.8v1.7h-15.8zM166.3 567.4h15.8v1.7h-15.8zM73 571.4h15.8v2.7h-15.8z"/>
<path fill="#dfd5f5" d="M135.2 478.2h15.8v1.7h-15.8zM181.9 603.4h15.8v2.2h-15.8zM135.2 648.5h15.8v2.7h-15.8z"/>
<path fill="#dcd1f5" d="M150.8 478.2h15.8v1.7h-15.8zM119.7 517.2h15.8v1.7h-15.8zM166.3 517.2h15.8v1.7h-15.8zM135.2 569.9h15.8v1.7h-15.8zM73 583.4h15.8v1.7h-15.8z"/>
<path fill="#b6a7f5" d="M166.3 478.2h15.8v1.7h-15.8zM135.2 488.2h15.8v2.2h-15.8zM150.8 543.7h15.8v1.2h-15.8z"/>
<path fill="#c4b6f5" d="M181.9 478.2h15.8v1.7h-15.8zM119.7 488.2h15.8v2.2h-15.8zM181.9 511.7h15.8v1.7h-15.8zM181.9 528.2h15.8v1.7h-15.8zM104.1 560.2h15.8v1.7h-15.8z"/>
<path fill="#f8bfb7" d="M57.5 479.7h15.8v2.7h-15.8zM166.3 568.9h15.8v1.2h-15.8z"/>
<path fill="#f7c9c4" d="M73 479.7h15.8v2.7h-15.8zM119.7 574.9h15.8v1.2h-15.8z"/>
<path fill="#f8b1a4" d="M88.6 479.7h15.8v2.7h-15.8zM150.8 515.7h15.8v1.7h-15.8zM150.8 575.9h15.8v1.2h-15.8zM181.9 580.4h15.8v1.7h-15.8z"/>
<path fill="#574bf3" d="M104.1 479.7h15.8v2.7h-15.8z"/>
<path fill="#9e8cf5" d="M119.7 479.7h15.8v2.7h-15.8zM166.3 526.7h15.8v1.7h-15.8zM166.3 605.4h15.8v2.7h-15.8zM88.6 615.4h15.8v1.7h-15.8z"/>
<path fill="#8474f4" d="M135.2 479.7h15.8v2.7h-15.8zM104.1 488.2h15.8v2.2h-15.8zM135.2 573.9h15.8v1.2h-15.8zM57.5 616.9h15.8v2.2h-15.8z"/>
<path fill="#b8a9f5" d="M150.8 479.7h15.8v2.7h-15.8zM150.8 646.5h15.8v2.2h-15.8z"/>
<path fill="#e1d7f5" d="M166.3 479.7h15.8v2.7h-15.8zM135.2 511.7h15.8v1.7h-15.8zM166.3 520.7h15.8v1.7h-15.8z"/>
<path fill="#f7e3e5" d="M181.9 479.7h15.8v2.7h-15.8zM166.3 547.2h15.8v1.2h-15.8z"/>
<path fill="#f45a40" d="M57.5 482.2h15.8v1.7h-15.8zM150.8 628.5h15.8v2.2h-15.8z"/>
<path fill="#f7937f" d="M73 482.2h15.8v1.7h-15.8z"/>
<path fill="#f6836e" d="M88.6 482.2h15.8v1.7h-15.8z"/>
<path fill="#a999f5" d="M104.1 482.2h15.8v1.7h-15.8z"/>
<path fill="#d4c8f5" d="M119.7 482.2h15.8v1.7h-15.8zM135.2 517.2h15.8v1.7h-15.8zM135.2 557.7h15.8v2.7h-15.8z"/>
<path fill="#c9bcf5" d="M135.2 482.2h15.8v1.7h-15.8zM166.3 505.2h15.8v1.7h-15.8zM119.7 508.7h15.8v1.7h-15.8zM88.6 565.9h15.8v1.7h-15.8zM166.3 616.9h15.8v2.2h-15.8z"/>
<path fill="#f8b4a8" d="M150.8 482.2h15.8v1.7h-15.8zM119.7 565.9h15.8v1.7h-15.8zM104.1 574.9h15.8v1.2h-15.8z"/>
<path fill="#f7d6d4" d="M166.3 482.2h15.8v1.7h-15.8zM181.9 626.5h15.8v1.2h-15.8z"/>
<path fill="#f8bcb3" d="M181.9 482.2h15.8v1.7h-15.8zM181.9 585.9h15.8v1.2h-15.8zM119.7 595.9h15.8v2.7h-15.8zM150.8 627.5h15.8v1.2h-15.8zM166.3 637h15.8v1.2h-15.8zM181.9 637h15.8v1.2h-15.8z"/>
<path fill="#f8a291" d="M57.5 483.7h15.8v1.2h-15.8zM119.7 591.4h15.8v2.2h-15.8z"/>
<path fill="#f6846f" d="M73 483.7h15.8v1.2h-15.8zM57.5 526.7h15.8v1.7h-15.8zM135.2 645.5h15.8v1.2h-15.8z"/>
<path fill="#f34b2f" d="M88.6 483.7h15.8v1.2h-15.8zM73 490.2h15.8v1.7h-15.8zM104.1 584.9h15.8v1.2h-15.8z"/>
<path fill="#f7cfcb" d="M104.1 483.7h15.8v1.2h-15.8zM88.6 514.7h15.8v1.2h-15.8zM181.9 520.7h15.8v1.7h-15.8z"/>
<path fill="#dbcff5" d="M119.7 483.7h15.8v1.2h-15.8z"/>
<path fill="#f6eef5" d="M135.2 483.7h15.8v1.2h-15.8zM166.3 555.7h15.8v2.2h-15.8zM181.9 598.4h15.8v1.7h-15.8z"/>
<path fill="#f5725b" d="M150.8 483.7h15.8v1.2h-15.8zM73 514.7h15.8v1.2h-15.8zM88.6 523.7h15.8v1.7h-15.8zM88.6 525.2h15.8v1.7h-15.8z"/>
<path fill="#f7e2e3" d="M166.3 483.7h15.8v1.2h-15.8z"/>
<path fill="#ded3f5" d="M181.9 483.7h15.8v1.2h-15.8zM166.3 494.2h15.8v2.7h-15.8zM88.6 578.4h15.8v2.2h-15.8zM135.2 599.9h15.8v1.2h-15.8zM104.1 633.5h15.8v1.7h-15.8z"/>
<path fill="#f78975" d="M57.5 484.7h15.8v2.2h-15.8z"/>
<path fill="#f56f57" d="M73 484.7h15.8v2.2h-15.8z"/>
<path fill="#f8a290" d="M88.6 484.7h15.8v2.2h-15.8zM119.7 618.9h15.8v1.7h-15.8zM181.9 641.5h15.8v2.2h-15.8z"/>
<path fill="#d3c7f5" d="M104.1 484.7h15.8v2.2h-15.8zM181.9 505.2h15.8v1.7h-15.8zM181.9 615.4h15.8v1.7h-15.8z"/>
<path fill="#a593f5" d="M119.7 484.7h15.8v2.2h-15.8zM57.5 571.4h15.8v2.7h-15.8z"/>
<path fill="#ddd2f5" d="M135.2 484.7h15.8v2.2h-15.8zM135.2 501.7h15.8v1.7h-15.8zM135.2 536.2h15.8v2.2h-15.8zM166.3 557.7h15.8v2.7h-15.8zM119.7 636h15.8v1.2h-15.8z"/>
<path fill="#f8c6c0" d="M150.8 484.7h15.8v2.2h-15.8zM150.8 505.2h15.8v1.7h-15.8z"/>
<path fill="#bfb0f5" d="M166.3 484.7h15.8v2.2h-15.8zM57.5 583.4h15.8v1.7h-15.8z"/>
<path fill="#f8c4bd" d="M181.9 484.7h15.8v2.2h-15.8zM166.3 563.2h15.8v2.7h-15.8zM104.1 578.4h15.8v2.2h-15.8z"/>
<path fill="#f67862" d="M57.5 486.7h15.8v1.7h-15.8zM88.6 499.7h15.8v2.2h-15.8z"/>
<path fill="#f34125" d="M73 486.7h15.8v1.7h-15.8z"/>
<path fill="#f67c66" d="M88.6 486.7h15.8v1.7h-15.8zM73 529.7h15.8v2.7h-15.8z"/>
<path fill="#aa99f5" d="M104.1 486.7h15.8v1.7h-15.8zM73 567.4h15.8v1.7h-15.8zM57.5 624.5h15.8v2.2h-15.8z"/>
<path fill="#cdc1f5" d="M119.7 486.7h15.8v1.7h-15.8z"/>
<path fill="#f8a696" d="M135.2 486.7h15.8v1.7h-15.8z"/>
<path fill="#f78f7b" d="M150.8 486.7h15.8v1.7h-15.8zM73 515.7h15.8v1.7h-15.8zM181.9 538.2h15.8v2.2h-15.8zM73 565.7h15.8v0.4h-15.8zM119.7 615.4h15.8v1.7h-15.8z"/>
<path fill="#f1e8f5" d="M166.3 486.7h15.8v1.7h-15.8zM181.9 510.2h15.8v1.7h-15.8z"/>
<path fill="#e7ddf5" d="M181.9 486.7h15.8v1.7h-15.8zM166.3 635h15.8v1.2h-15.8zM119.7 637h15.8v1.2h-15.8z"/>
<path fill="#f8aa9b" d="M57.5 488.2h15.8v2.2h-15.8zM73 494.2h15.8v2.7h-15.8z"/>
<path fill="#f6765f" d="M73 488.2h15.8v2.2h-15.8z"/>
<path fill="#f89e8b" d="M88.6 488.2h15.8v2.2h-15.8z"/>
<path fill="#f8b5aa" d="M150.8 488.2h15.8v2.2h-15.8z"/>
<path fill="#685af4" d="M166.3 488.2h15.8v2.2h-15.8zM119.7 541.2h15.8v1.2h-15.8zM57.5 586.9h15.8v2.7h-15.8z"/>
<path fill="#9584f5" d="M181.9 488.2h15.8v2.2h-15.8z"/>
<path fill="#f34225" d="M57.5 490.2h15.8v1.7h-15.8zM73 561.7h15.8v1.7h-15.8z"/>
<path fill="#f3472b" d="M88.6 490.2h15.8v1.7h-15.8zM57.5 549.7h15.8v2.2h-15.8z"/>
<path fill="#f7e8ec" d="M104.1 490.2h15.8v1.7h-15.8zM104.1 532.2h15.8v1.7h-15.8zM181.9 569.9h15.8v1.7h-15.8zM73 616.9h15.8v2.2h-15.8z"/>
<path fill="#7a6bf4" d="M119.7 490.2h15.8v1.7h-15.8z"/>
<path fill="#b9aaf5" d="M135.2 490.2h15.8v1.7h-15.8zM135.2 565.9h15.8v1.7h-15.8zM73 620.4h15.8v0.3h-15.8zM119.7 648.5h15.8v2.7h-15.8z"/>
<path fill="#f7eef4" d="M150.8 490.2h15.8v1.7h-15.8zM181.9 517.2h15.8v1.7h-15.8zM104.1 522.2h15.8v1.7h-15.8z"/>
<path fill="#cabdf5" d="M166.3 490.2h15.8v1.7h-15.8zM104.1 526.7h15.8v1.7h-15.8zM57.5 569.9h15.8v1.7h-15.8zM57.5 637h15.8v1.2h-15.8z"/>
<path fill="#f8b0a2" d="M181.9 490.2h15.8v1.7h-15.8z"/>
<path fill="#f89f8d" d="M57.5 491.7h15.8v2.7h-15.8zM57.5 513.2h15.8v1.7h-15.8zM119.7 576.9h15.8v1.7h-15.8z"/>
<path fill="#f67963" d="M73 491.7h15.8v2.7h-15.8zM57.5 510.2h15.8v1.7h-15.8z"/>
<path fill="#f8afa2" d="M88.6 491.7h15.8v2.7h-15.8zM150.8 503.2h15.8v2.2h-15.8zM57.5 515.7h15.8v1.7h-15.8z"/>
<path fill="#b5a6f5" d="M104.1 491.7h15.8v2.7h-15.8zM150.8 612.9h15.8v2.7h-15.8z"/>
<path fill="#b5a5f5" d="M119.7 491.7h15.8v2.7h-15.8zM166.3 581.9h15.8v1.7h-15.8z"/>
<path fill="#eae1f5" d="M135.2 491.7h15.8v2.7h-15.8zM119.7 523.7h15.8v1.7h-15.8zM181.9 560.2h15.8v1.7h-15.8zM73 633.5h15.8v1.7h-15.8z"/>
<path fill="#f8bfb6" d="M150.8 491.7h15.8v2.7h-15.8zM181.9 514.7h15.8v1.2h-15.8zM150.8 600.9h15.8v2.7h-15.8z"/>
<path fill="#a392f5" d="M166.3 491.7h15.8v2.7h-15.8zM181.9 508.7h15.8v1.7h-15.8zM73 568.9h15.8v1.2h-15.8zM135.2 598.4h15.8v1.7h-15.8z"/>
<path fill="#e4daf5" d="M181.9 491.7h15.8v2.7h-15.8zM181.9 529.7h15.8v2.7h-15.8zM104.1 533.7h15.8v2.7h-15.8zM181.9 554.2h15.8v1.7h-15.8z"/>
<path fill="#f34528" d="M57.5 494.2h15.8v2.7h-15.8z"/>
<path fill="#f34427" d="M88.6 494.2h15.8v2.7h-15.8z"/>
<path fill="#e6dcf5" d="M104.1 494.2h15.8v2.7h-15.8zM119.7 547.2h15.8v1.2h-15.8zM150.8 576.9h15.8v1.7h-15.8zM150.8 598.4h15.8v1.7h-15.8zM73 599.9h15.8v1.2h-15.8z"/>
<path fill="#2e25f2" d="M119.7 494.2h15.8v2.7h-15.8z"/>
<path fill="#cec1f5" d="M135.2 494.2h15.8v2.7h-15.8z"/>
<path fill="#f7e5e8" d="M150.8 494.2h15.8v2.7h-15.8zM166.3 571.4h15.8v2.7h-15.8z"/>
<path fill="#f46147" d="M57.5 496.7h15.8v2.2h-15.8z"/>
<path fill="#f8b5a9" d="M73 496.7h15.8v2.2h-15.8zM181.9 496.7h15.8v2.2h-15.8zM88.6 549.7h15.8v2.2h-15.8zM57.5 560.2h15.8v1.7h-15.8z"/>
<path fill="#f8a999" d="M88.6 496.7h15.8v2.2h-15.8z"/>
<path fill="#f7d0cd" d="M104.1 496.7h15.8v2.2h-15.8zM150.8 586.9h15.8v2.7h-15.8zM150.8 599.9h15.8v1.2h-15.8z"/>
<path fill="#e2d8f5" d="M119.7 496.7h15.8v2.2h-15.8z"/>
<path fill="#d3c6f5" d="M135.2 496.7h15.8v2.2h-15.8z"/>
<path fill="#f8a494" d="M150.8 496.7h15.8v2.2h-15.8zM73 503.2h15.8v2.2h-15.8zM150.8 525.2h15.8v1.7h-15.8z"/>
<path fill="#f8c5be" d="M166.3 496.7h15.8v2.2h-15.8zM150.8 517.2h15.8v1.7h-15.8zM57.5 557.7h15.8v2.7h-15.8z"/>
<path fill="#f45c42" d="M57.5 498.7h15.8v1.2h-15.8z"/>
<path fill="#f7cbc6" d="M73 498.7h15.8v1.2h-15.8zM88.6 536.2h15.8v2.2h-15.8zM166.3 542.2h15.8v1.7h-15.8zM150.8 605.4h15.8v2.7h-15.8z"/>
<path fill="#f4593f" d="M88.6 498.7h15.8v1.2h-15.8zM150.8 631.5h15.8v2.2h-15.8z"/>
<path fill="#f7e4e6" d="M104.1 498.7h15.8v1.2h-15.8zM88.6 628.5h15.8v2.2h-15.8z"/>
<path fill="#cfc3f5" d="M119.7 498.7h15.8v1.2h-15.8z"/>
<path fill="#f7dad9" d="M135.2 498.7h15.8v1.2h-15.8zM104.1 528.2h15.8v1.7h-15.8zM166.3 575.9h15.8v1.2h-15.8zM181.9 586.9h15.8v2.7h-15.8z"/>
<path fill="#f23c1e" d="M150.8 498.7h15.8v1.2h-15.8z"/>
<path fill="#e8def5" d="M166.3 498.7h15.8v1.2h-15.8zM104.1 520.7h15.8v1.7h-15.8z"/>
<path fill="#eee5f5" d="M181.9 498.7h15.8v1.2h-15.8zM135.2 499.7h15.8v2.2h-15.8zM181.9 584.9h15.8v1.2h-15.8zM119.7 640h15.8v1.7h-15.8z"/>
<path fill="#f34a2e" d="M57.5 499.7h15.8v2.2h-15.8zM57.5 532.2h15.8v1.7h-15.8zM88.6 547.2h15.8v1.2h-15.8z"/>
<path fill="#f46148" d="M73 499.7h15.8v2.2h-15.8zM104.1 595.9h15.8v2.7h-15.8z"/>
<path fill="#f8c0b8" d="M104.1 499.7h15.8v2.2h-15.8zM57.5 523.7h15.8v1.7h-15.8zM135.2 554.2h15.8v1.7h-15.8zM181.9 568.9h15.8v1.2h-15.8z"/>
<path fill="#f7d7d6" d="M119.7 499.7h15.8v2.2h-15.8zM104.1 565.7h15.8v0.4h-15.8zM166.3 600.9h15.8v2.7h-15.8z"/>
<path fill="#f7d9d9" d="M150.8 499.7h15.8v2.2h-15.8zM150.8 573.9h15.8v1.2h-15.8z"/>
<path fill="#dfd4f5" d="M181.9 499.7h15.8v2.2h-15.8zM104.1 505.2h15.8v1.7h-15.8zM57.5 643.5h15.8v2.2h-15.8z"/>
<path fill="#f89d8a" d="M57.5 501.7h15.8v1.7h-15.8z"/>
<path fill="#f5735b" d="M73 501.7h15.8v1.7h-15.8zM57.5 525.2h15.8v1.7h-15.8zM104.1 583.4h15.8v1.7h-15.8z"/>
<path fill="#f8b9af" d="M88.6 501.7h15.8v1.7h-15.8zM150.8 526.7h15.8v1.7h-15.8zM57.5 528.2h15.8v1.7h-15.8zM150.8 538.2h15.8v2.2h-15.8z"/>
<path fill="#b0a0f5" d="M104.1 501.7h15.8v1.7h-15.8zM135.2 532.2h15.8v1.7h-15.8zM119.7 548.2h15.8v1.7h-15.8zM135.2 568.9h15.8v1.2h-15.8zM88.6 575.9h15.8v1.2h-15.8z"/>
<path fill="#c2b4f5" d="M119.7 501.7h15.8v1.7h-15.8zM135.2 543.7h15.8v1.2h-15.8zM166.3 560.2h15.8v1.7h-15.8zM88.6 571.4h15.8v2.7h-15.8zM88.6 633.5h15.8v1.7h-15.8zM57.5 645.5h15.8v1.2h-15.8z"/>
<path fill="#f8a08e" d="M150.8 501.7h15.8v1.7h-15.8zM57.5 520.7h15.8v1.7h-15.8zM181.9 533.7h15.8v2.7h-15.8z"/>
<path fill="#f7e4e7" d="M166.3 501.7h15.8v1.7h-15.8zM150.8 569.9h15.8v1.7h-15.8z"/>
<path fill="#f8ab9d" d="M57.5 503.2h15.8v2.2h-15.8z"/>
<path fill="#f8b3a6" d="M88.6 503.2h15.8v2.2h-15.8zM181.9 518.7h15.8v1.2h-15.8zM119.7 568.9h15.8v1.2h-15.8z"/>
<path fill="#f8bbb2" d="M104.1 503.2h15.8v2.2h-15.8z"/>
<path fill="#ccbff5" d="M119.7 503.2h15.8v2.2h-15.8zM119.7 529.7h15.8v2.7h-15.8zM166.3 538.2h15.8v2.2h-15.8zM166.3 591.4h15.8v2.2h-15.8zM88.6 595.9h15.8v2.7h-15.8zM88.6 611.9h15.8v1.2h-15.8z"/>
<path fill="#9483f5" d="M135.2 503.2h15.8v2.2h-15.8zM73 573.9h15.8v1.2h-15.8zM166.3 576.9h15.8v1.7h-15.8z"/>
<path fill="#9382f5" d="M166.3 503.2h15.8v2.2h-15.8zM119.7 536.2h15.8v2.2h-15.8zM135.2 609.4h15.8v2.7h-15.8zM73 643.5h15.8v2.2h-15.8z"/>
<path fill="#f7dede" d="M181.9 503.2h15.8v2.2h-15.8z"/>
<path fill="#f45b41" d="M57.5 505.2h15.8v1.7h-15.8zM104.1 575.9h15.8v1.2h-15.8z"/>
<path fill="#f79481" d="M73 505.2h15.8v1.7h-15.8zM135.2 624.5h15.8v2.2h-15.8z"/>
<path fill="#f8b6ab" d="M88.6 505.2h15.8v1.7h-15.8z"/>
<path fill="#ab9bf5" d="M119.7 505.2h15.8v1.7h-15.8zM57.5 567.4h15.8v1.7h-15.8z"/>
<path fill="#9080f5" d="M135.2 505.2h15.8v1.7h-15.8z"/>
<path fill="#f67b65" d="M57.5 506.7h15.8v2.2h-15.8zM104.1 580.4h15.8v1.7h-15.8zM119.7 584.9h15.8v1.2h-15.8z"/>
<path fill="#f8aa9a" d="M73 506.7h15.8v2.2h-15.8zM88.6 511.7h15.8v1.7h-15.8z"/>
<path fill="#f3482c" d="M88.6 506.7h15.8v2.2h-15.8z"/>
<path fill="#9786f5" d="M104.1 506.7h15.8v2.2h-15.8z"/>
<path fill="#b7a7f5" d="M119.7 506.7h15.8v2.2h-15.8zM135.2 520.7h15.8v1.7h-15.8z"/>
<path fill="#f7e7eb" d="M135.2 506.7h15.8v2.2h-15.8z"/>
<path fill="#a594f5" d="M166.3 506.7h15.8v2.2h-15.8z"/>
<path fill="#e4d9f5" d="M181.9 506.7h15.8v2.2h-15.8zM150.8 652.5h15.8v1.7h-15.8z"/>
<path fill="#f7cdc8" d="M57.5 508.7h15.8v1.7h-15.8zM135.2 528.2h15.8v1.7h-15.8zM104.1 609.4h15.8v2.7h-15.8zM150.8 615.4h15.8v1.7h-15.8z"/>
<path fill="#f78b76" d="M88.6 508.7h15.8v1.7h-15.8z"/>
<path fill="#b3a3f5" d="M104.1 508.7h15.8v1.7h-15.8zM181.9 561.7h15.8v1.7h-15.8z"/>
<path fill="#8777f4" d="M135.2 508.7h15.8v1.7h-15.8zM135.2 571.4h15.8v2.7h-15.8zM135.2 591.4h15.8v2.2h-15.8zM88.6 598.4h15.8v1.7h-15.8zM57.5 605.4h15.8v2.7h-15.8zM104.1 648.5h15.8v2.7h-15.8z"/>
<path fill="#d9cdf5" d="M150.8 508.7h15.8v1.7h-15.8zM166.3 593.4h15.8v2.7h-15.8z"/>
<path fill="#8d7df5" d="M166.3 508.7h15.8v1.7h-15.8z"/>
<path fill="#f5745d" d="M73 510.2h15.8v1.7h-15.8zM119.7 569.9h15.8v1.7h-15.8zM135.2 622h15.8v2.7h-15.8zM135.2 626.5h15.8v1.2h-15.8zM166.3 646.5h15.8v2.2h-15.8z"/>
<path fill="#f67a64" d="M88.6 510.2h15.8v1.7h-15.8z"/>
<path fill="#baabf5" d="M119.7 510.2h15.8v1.7h-15.8zM181.9 522.2h15.8v1.7h-15.8zM166.3 543.7h15.8v1.2h-15.8zM135.2 551.7h15.8v2.7h-15.8zM135.2 555.7h15.8v2.2h-15.8zM73 586.9h15.8v2.7h-15.8zM150.8 589.4h15.8v2.2h-15.8zM88.6 612.9h15.8v2.7h-15.8zM73 615.4h15.8v1.7h-15.8z"/>
<path fill="#9c8af5" d="M135.2 510.2h15.8v1.7h-15.8zM57.5 584.9h15.8v1.2h-15.8zM135.2 586.9h15.8v2.7h-15.8zM73 593.4h15.8v2.7h-15.8z"/>
<path fill="#f7e0e2" d="M150.8 510.2h15.8v1.7h-15.8z"/>
<path fill="#a18ff5" d="M166.3 510.2h15.8v1.7h-15.8zM166.3 533.7h15.8v2.7h-15.8z"/>
<path fill="#f78974" d="M57.5 511.7h15.8v1.7h-15.8zM57.5 543.7h15.8v1.2h-15.8zM150.8 636h15.8v1.2h-15.8zM166.3 648.5h15.8v2.7h-15.8z"/>
<path fill="#f56850" d="M73 511.7h15.8v1.7h-15.8zM73 548.2h15.8v1.7h-15.8zM119.7 586.9h15.8v2.7h-15.8z"/>
<path fill="#f8afa1" d="M104.1 511.7h15.8v1.7h-15.8z"/>
<path fill="#8575f4" d="M119.7 511.7h15.8v1.7h-15.8zM57.5 576.9h15.8v1.7h-15.8zM73 600.9h15.8v2.7h-15.8z"/>
<path fill="#f4ebf5" d="M150.8 511.7h15.8v1.7h-15.8z"/>
<path fill="#4b40f3" d="M166.3 511.7h15.8v1.7h-15.8z"/>
<path fill="#f45439" d="M73 513.2h15.8v1.7h-15.8zM73 549.7h15.8v2.2h-15.8zM104.1 581.9h15.8v1.7h-15.8z"/>
<path fill="#f8c2ba" d="M88.6 513.2h15.8v1.7h-15.8zM150.8 560.2h15.8v1.7h-15.8zM181.9 583.4h15.8v1.7h-15.8z"/>
<path fill="#baaaf5" d="M104.1 513.2h15.8v1.7h-15.8z"/>
<path fill="#f79480" d="M119.7 513.2h15.8v1.7h-15.8z"/>
<path fill="#c7baf5" d="M135.2 513.2h15.8v1.7h-15.8zM88.6 576.9h15.8v1.7h-15.8z"/>
<path fill="#f7cac4" d="M150.8 513.2h15.8v1.7h-15.8z"/>
<path fill="#f7d1cd" d="M166.3 513.2h15.8v1.7h-15.8z"/>
<path fill="#f7e0e1" d="M181.9 513.2h15.8v1.7h-15.8zM166.3 651h15.8v1.7h-15.8z"/>
<path fill="#f45f45" d="M57.5 514.7h15.8v1.2h-15.8zM150.8 624.5h15.8v2.2h-15.8z"/>
<path fill="#f7dbda" d="M104.1 514.7h15.8v1.2h-15.8zM150.8 540.2h15.8v1.2h-15.8zM73 620.5h15.8v1.7h-15.8z"/>
<path fill="#ae9df5" d="M119.7 514.7h15.8v1.2h-15.8zM119.7 542.2h15.8v1.7h-15.8zM166.3 554.2h15.8v1.7h-15.8z"/>
<path fill="#f7d8d7" d="M135.2 514.7h15.8v1.2h-15.8zM104.1 515.7h15.8v1.7h-15.8zM150.8 609.4h15.8v2.7h-15.8z"/>
<path fill="#f7e7ea" d="M150.8 514.7h15.8v1.2h-15.8zM135.2 525.2h15.8v1.7h-15.8z"/>
<path fill="#dacef5" d="M166.3 514.7h15.8v1.2h-15.8zM119.7 543.7h15.8v1.2h-15.8zM135.2 574.9h15.8v1.2h-15.8z"/>
<path fill="#f7c9c3" d="M88.6 515.7h15.8v1.7h-15.8zM104.1 536.2h15.8v2.2h-15.8zM150.8 611.9h15.8v1.2h-15.8z"/>
<path fill="#8878f4" d="M119.7 515.7h15.8v1.7h-15.8zM57.5 565.9h15.8v1.7h-15.8zM57.5 648.5h15.8v2.7h-15.8z"/>
<path fill="#7768f4" d="M135.2 515.7h15.8v1.7h-15.8z"/>
<path fill="#ac9bf5" d="M166.3 515.7h15.8v1.7h-15.8zM166.3 565.7h15.8v0.4h-15.8zM57.5 575.9h15.8v1.2h-15.8zM135.2 600.9h15.8v2.7h-15.8zM119.7 627.5h15.8v1.2h-15.8z"/>
<path fill="#f5ecf5" d="M181.9 515.7h15.8v1.7h-15.8z"/>
<path fill="#f8a898" d="M57.5 517.2h15.8v1.7h-15.8zM73 517.2h15.8v1.7h-15.8zM88.6 520.7h15.8v1.7h-15.8zM88.6 561.7h15.8v1.7h-15.8zM88.6 565.7h15.8v0.4h-15.8z"/>
<path fill="#f56f58" d="M88.6 517.2h15.8v1.7h-15.8zM88.6 519.7h15.8v1.2h-15.8zM135.2 638h15.8v2.2h-15.8z"/>
<path fill="#ebe2f5" d="M104.1 517.2h15.8v1.7h-15.8z"/>
<path fill="#f5634a" d="M57.5 518.7h15.8v1.2h-15.8z"/>
<path fill="#f6806a" d="M73 518.7h15.8v1.2h-15.8zM119.7 581.9h15.8v1.7h-15.8zM119.7 612.9h15.8v2.7h-15.8z"/>
<path fill="#f67e68" d="M88.6 518.7h15.8v1.2h-15.8z"/>
<path fill="#b9a9f5" d="M119.7 518.7h15.8v1.2h-15.8z"/>
<path fill="#f7d2cf" d="M135.2 518.7h15.8v1.2h-15.8zM57.5 541.2h15.8v1.2h-15.8zM181.9 618.9h15.8v1.7h-15.8zM150.8 620.4h15.8v0.3h-15.8zM119.7 638h15.8v2.2h-15.8z"/>
<path fill="#f7dddd" d="M150.8 518.7h15.8v1.2h-15.8z"/>
<path fill="#dbd0f5" d="M166.3 518.7h15.8v1.2h-15.8z"/>
<path fill="#f35034" d="M57.5 519.7h15.8v1.2h-15.8z"/>
<path fill="#f8a798" d="M73 519.7h15.8v1.2h-15.8zM88.6 540.2h15.8v1.2h-15.8z"/>
<path fill="#5347f3" d="M119.7 519.7h15.8v1.2h-15.8zM57.5 580.4h15.8v1.7h-15.8zM104.1 631.5h15.8v2.2h-15.8z"/>
<path fill="#9e8df5" d="M135.2 519.7h15.8v1.2h-15.8z"/>
<path fill="#f7cdc9" d="M150.8 519.7h15.8v1.2h-15.8zM166.3 565.9h15.8v1.7h-15.8zM150.8 571.4h15.8v2.7h-15.8zM166.3 633.5h15.8v1.7h-15.8z"/>
<path fill="#483df3" d="M166.3 519.7h15.8v1.2h-15.8zM57.5 651h15.8v1.7h-15.8z"/>
<path fill="#f3ebf5" d="M181.9 519.7h15.8v1.2h-15.8zM181.9 576.9h15.8v1.7h-15.8z"/>
<path fill="#f5715a" d="M73 520.7h15.8v1.7h-15.8z"/>
<path fill="#b4a4f5" d="M119.7 520.7h15.8v1.7h-15.8zM119.7 533.7h15.8v2.7h-15.8zM104.1 555.7h15.8v2.2h-15.8z"/>
<path fill="#9685f5" d="M150.8 520.7h15.8v1.7h-15.8zM135.2 547.2h15.8v1.2h-15.8z"/>
<path fill="#f78671" d="M57.5 522.2h15.8v1.7h-15.8z"/>
<path fill="#f8aea1" d="M73 522.2h15.8v1.7h-15.8zM119.7 603.4h15.8v2.2h-15.8z"/>
<path fill="#f89c8a" d="M88.6 522.2h15.8v1.7h-15.8z"/>
<path fill="#f8bdb4" d="M119.7 522.2h15.8v1.7h-15.8z"/>
<path fill="#f7ccc7" d="M135.2 522.2h15.8v1.7h-15.8z"/>
<path fill="#f8a493" d="M150.8 522.2h15.8v1.7h-15.8zM73 526.7h15.8v1.7h-15.8zM88.6 541.2h15.8v1.2h-15.8zM73 543.7h15.8v1.2h-15.8zM104.1 591.4h15.8v2.2h-15.8z"/>
<path fill="#c9bbf5" d="M166.3 522.2h15.8v1.7h-15.8z"/>
<path fill="#f78772" d="M73 523.7h15.8v1.7h-15.8zM135.2 646.5h15.8v2.2h-15.8zM166.3 654h15.8v2.4h-15.8z"/>
<path fill="#7f70f4" d="M104.1 523.7h15.8v1.7h-15.8z"/>
<path fill="#f7d5d3" d="M135.2 523.7h15.8v1.7h-15.8zM104.1 544.7h15.8v2.7h-15.8zM150.8 654h15.8v2.4h-15.8z"/>
<path fill="#f7917d" d="M150.8 523.7h15.8v1.7h-15.8z"/>
<path fill="#f7edf2" d="M166.3 523.7h15.8v1.7h-15.8zM181.9 551.7h15.8v2.7h-15.8zM135.2 616.9h15.8v2.2h-15.8z"/>
<path fill="#f8a595" d="M181.9 523.7h15.8v1.7h-15.8zM57.5 529.7h15.8v2.7h-15.8zM166.3 548.2h15.8v1.7h-15.8z"/>
<path fill="#ddd3f5" d="M104.1 525.2h15.8v1.7h-15.8z"/>
<path fill="#b7a8f5" d="M119.7 525.2h15.8v1.7h-15.8zM57.5 585.9h15.8v1.2h-15.8z"/>
<path fill="#f7d1ce" d="M166.3 525.2h15.8v1.7h-15.8zM166.3 607.9h15.8v1.7h-15.8zM150.8 651h15.8v1.7h-15.8z"/>
<path fill="#f8b8ae" d="M181.9 525.2h15.8v1.7h-15.8z"/>
<path fill="#6a5cf4" d="M119.7 526.7h15.8v1.7h-15.8z"/>
<path fill="#e3d9f5" d="M135.2 526.7h15.8v1.7h-15.8zM166.3 574.9h15.8v1.2h-15.8z"/>
<path fill="#f8beb5" d="M181.9 526.7h15.8v1.7h-15.8zM104.1 640h15.8v1.7h-15.8z"/>
<path fill="#f67a63" d="M73 528.2h15.8v1.7h-15.8z"/>
<path fill="#f78873" d="M88.6 528.2h15.8v1.7h-15.8zM104.1 605.4h15.8v2.7h-15.8zM104.1 607.9h15.8v1.7h-15.8z"/>
<path fill="#b2a2f5" d="M119.7 528.2h15.8v1.7h-15.8zM57.5 599.9h15.8v1.2h-15.8zM88.6 627.5h15.8v1.2h-15.8zM166.3 631.5h15.8v2.2h-15.8zM88.6 638h15.8v2.2h-15.8zM104.1 652.5h15.8v1.7h-15.8z"/>
<path fill="#f79682" d="M150.8 528.2h15.8v1.7h-15.8z"/>
<path fill="#f4563c" d="M88.6 529.7h15.8v2.7h-15.8zM119.7 593.4h15.8v2.7h-15.8zM119.7 600.9h15.8v2.7h-15.8z"/>
<path fill="#f8c3bc" d="M104.1 529.7h15.8v2.7h-15.8zM181.9 575.9h15.8v1.2h-15.8zM181.9 611.9h15.8v1.2h-15.8z"/>
<path fill="#a796f5" d="M135.2 529.7h15.8v2.7h-15.8zM181.9 549.7h15.8v2.2h-15.8zM119.7 622h15.8v2.7h-15.8z"/>
<path fill="#e2d7f5" d="M150.8 529.7h15.8v2.7h-15.8z"/>
<path fill="#f78d79" d="M73 532.2h15.8v1.7h-15.8z"/>
<path fill="#f8c5bf" d="M88.6 532.2h15.8v1.7h-15.8zM135.2 643.5h15.8v2.2h-15.8z"/>
<path fill="#b1a1f5" d="M119.7 532.2h15.8v1.7h-15.8zM73 576.9h15.8v1.7h-15.8zM135.2 581.9h15.8v1.7h-15.8z"/>
<path fill="#f7cac5" d="M150.8 532.2h15.8v1.7h-15.8zM181.9 636h15.8v1.2h-15.8z"/>
<path fill="#9180f5" d="M166.3 532.2h15.8v1.7h-15.8z"/>
<path fill="#f8a392" d="M181.9 532.2h15.8v1.7h-15.8zM181.9 620.5h15.8v1.7h-15.8zM150.8 638h15.8v2.2h-15.8z"/>
<path fill="#f8b8ad" d="M57.5 533.7h15.8v2.7h-15.8z"/>
<path fill="#f79582" d="M73 533.7h15.8v2.7h-15.8zM73 536.2h15.8v2.2h-15.8z"/>
<path fill="#8272f4" d="M135.2 533.7h15.8v2.7h-15.8zM88.6 652.5h15.8v1.7h-15.8z"/>
<path fill="#f8ad9f" d="M150.8 533.7h15.8v2.7h-15.8zM166.3 580.4h15.8v1.7h-15.8z"/>
<path fill="#f67760" d="M57.5 536.2h15.8v2.2h-15.8zM73 540.2h15.8v1.2h-15.8zM181.9 651h15.8v1.7h-15.8z"/>
<path fill="#e5daf5" d="M150.8 536.2h15.8v2.2h-15.8z"/>
<path fill="#f5725a" d="M166.3 536.2h15.8v2.2h-15.8z"/>
<path fill="#f56c54" d="M181.9 536.2h15.8v2.2h-15.8z"/>
<path fill="#f5684f" d="M73 538.2h15.8v2.2h-15.8z"/>
<path fill="#f8a18f" d="M88.6 538.2h15.8v2.2h-15.8zM150.8 567.4h15.8v1.7h-15.8z"/>
<path fill="#f7d6d5" d="M104.1 538.2h15.8v2.2h-15.8zM104.1 622h15.8v2.7h-15.8z"/>
<path fill="#ad9cf5" d="M119.7 538.2h15.8v2.2h-15.8zM166.3 630.5h15.8v1.2h-15.8zM104.1 638h15.8v2.2h-15.8z"/>
<path fill="#d8cdf5" d="M135.2 538.2h15.8v2.2h-15.8zM135.2 542.2h15.8v1.7h-15.8zM150.8 554.2h15.8v1.7h-15.8z"/>
<path fill="#f7eaef" d="M104.1 540.2h15.8v1.2h-15.8zM181.9 540.2h15.8v1.2h-15.8z"/>
<path fill="#4a3ff3" d="M119.7 540.2h15.8v1.2h-15.8zM57.5 626.5h15.8v1.2h-15.8z"/>
<path fill="#f7ebef" d="M135.2 540.2h15.8v1.2h-15.8z"/>
<path fill="#cbbef5" d="M166.3 540.2h15.8v1.2h-15.8zM181.9 609.4h15.8v2.7h-15.8z"/>
<path fill="#d2c6f5" d="M135.2 541.2h15.8v1.2h-15.8zM73 628.5h15.8v2.2h-15.8z"/>
<path fill="#e9dff5" d="M150.8 541.2h15.8v1.2h-15.8zM73 636h15.8v1.2h-15.8z"/>
<path fill="#d5caf5" d="M166.3 541.2h15.8v1.2h-15.8zM166.3 603.4h15.8v2.2h-15.8z"/>
<path fill="#c5b8f5" d="M181.9 541.2h15.8v1.2h-15.8zM135.2 563.2h15.8v2.7h-15.8z"/>
<path fill="#f2381a" d="M57.5 542.2h15.8v1.7h-15.8zM73 560.2h15.8v1.7h-15.8zM104.1 569.9h15.8v1.7h-15.8zM150.8 637h15.8v1.2h-15.8zM135.2 640h15.8v1.7h-15.8zM150.8 641.5h15.8v2.2h-15.8zM166.3 643.5h15.8v2.2h-15.8z"/>
<path fill="#f67d67" d="M73 542.2h15.8v1.7h-15.8zM73 544.7h15.8v2.7h-15.8zM88.6 544.7h15.8v2.7h-15.8zM57.5 554.2h15.8v1.7h-15.8zM57.5 555.7h15.8v2.2h-15.8zM104.1 567.4h15.8v1.7h-15.8z"/>
<path fill="#f89e8c" d="M88.6 542.2h15.8v1.7h-15.8z"/>
<path fill="#f7eaee" d="M104.1 542.2h15.8v1.7h-15.8zM166.3 636h15.8v1.2h-15.8z"/>
<path fill="#f8b0a3" d="M150.8 542.2h15.8v1.7h-15.8zM150.8 565.9h15.8v1.7h-15.8zM166.3 569.9h15.8v1.7h-15.8zM166.3 586.9h15.8v2.7h-15.8z"/>
<path fill="#cabcf5" d="M181.9 542.2h15.8v1.7h-15.8z"/>
<path fill="#f89b89" d="M88.6 543.7h15.8v1.2h-15.8z"/>
<path fill="#f8bdb3" d="M104.1 543.7h15.8v1.2h-15.8z"/>
<path fill="#f8ac9e" d="M181.9 543.7h15.8v1.2h-15.8zM73 555.7h15.8v2.2h-15.8zM166.3 599.9h15.8v1.2h-15.8z"/>
<path fill="#f67c65" d="M57.5 544.7h15.8v2.7h-15.8z"/>
<path fill="#af9ef5" d="M119.7 544.7h15.8v2.7h-15.8z"/>
<path fill="#a08ef5" d="M135.2 544.7h15.8v2.7h-15.8zM57.5 581.9h15.8v1.7h-15.8zM88.6 637h15.8v1.2h-15.8zM88.6 648.5h15.8v2.7h-15.8z"/>
<path fill="#bbacf5" d="M181.9 544.7h15.8v2.7h-15.8zM88.6 569.9h15.8v1.7h-15.8zM88.6 620.5h15.8v1.7h-15.8z"/>
<path fill="#f5735c" d="M57.5 547.2h15.8v1.2h-15.8z"/>
<path fill="#f67f69" d="M73 547.2h15.8v1.2h-15.8z"/>
<path fill="#5b4ff3" d="M104.1 547.2h15.8v1.2h-15.8zM73 646.5h15.8v2.2h-15.8z"/>
<path fill="#c5b7f5" d="M181.9 547.2h15.8v1.2h-15.8z"/>
<path fill="#f78874" d="M104.1 548.2h15.8v1.7h-15.8z"/>
<path fill="#e5dbf5" d="M135.2 548.2h15.8v1.7h-15.8z"/>
<path fill="#f7d5d4" d="M150.8 548.2h15.8v1.7h-15.8z"/>
<path fill="#f8b7ac" d="M181.9 548.2h15.8v1.7h-15.8zM166.3 620.4h15.8v0.3h-15.8z"/>
<path fill="#f8c0b7" d="M104.1 549.7h15.8v2.2h-15.8z"/>
<path fill="#a695f5" d="M119.7 549.7h15.8v2.2h-15.8zM119.7 646.5h15.8v2.2h-15.8z"/>
<path fill="#d8ccf5" d="M135.2 549.7h15.8v2.2h-15.8zM181.9 605.4h15.8v2.7h-15.8zM135.2 654h15.8v2.4h-15.8z"/>
<path fill="#f8a899" d="M150.8 549.7h15.8v2.2h-15.8zM119.7 578.4h15.8v2.2h-15.8zM166.3 645.5h15.8v1.2h-15.8z"/>
<path fill="#9a88f5" d="M166.3 549.7h15.8v2.2h-15.8z"/>
<path fill="#f79380" d="M57.5 551.7h15.8v2.7h-15.8z"/>
<path fill="#f68670" d="M73 551.7h15.8v2.7h-15.8z"/>
<path fill="#f46046" d="M88.6 551.7h15.8v2.7h-15.8z"/>
<path fill="#6d5ff4" d="M119.7 551.7h15.8v2.7h-15.8zM73 581.9h15.8v1.7h-15.8z"/>
<path fill="#ebe1f5" d="M150.8 551.7h15.8v2.7h-15.8zM166.3 628.5h15.8v2.2h-15.8z"/>
<path fill="#7466f4" d="M166.3 551.7h15.8v2.7h-15.8zM57.5 622h15.8v2.7h-15.8z"/>
<path fill="#f8a797" d="M88.6 554.2h15.8v1.7h-15.8zM150.8 584.9h15.8v1.2h-15.8zM119.7 585.9h15.8v1.2h-15.8zM119.7 589.4h15.8v2.2h-15.8zM181.9 654h15.8v2.4h-15.8z"/>
<path fill="#3027f2" d="M104.1 554.2h15.8v1.7h-15.8z"/>
<path fill="#8070f4" d="M119.7 554.2h15.8v1.7h-15.8zM88.6 609.4h15.8v2.7h-15.8zM73 651h15.8v1.7h-15.8z"/>
<path fill="#8e7ef5" d="M119.7 555.7h15.8v2.2h-15.8z"/>
<path fill="#f8bab0" d="M150.8 555.7h15.8v2.2h-15.8zM104.1 612.9h15.8v2.7h-15.8z"/>
<path fill="#e0d5f5" d="M181.9 555.7h15.8v2.2h-15.8zM104.1 563.2h15.8v2.7h-15.8zM135.2 584.9h15.8v1.2h-15.8zM166.3 609.4h15.8v2.7h-15.8zM119.7 628.5h15.8v2.2h-15.8z"/>
<path fill="#f68570" d="M73 557.7h15.8v2.7h-15.8zM181.9 652.5h15.8v1.7h-15.8z"/>
<path fill="#d1c4f5" d="M88.6 557.7h15.8v2.7h-15.8zM104.1 636h15.8v1.2h-15.8z"/>
<path fill="#907ff5" d="M104.1 557.7h15.8v2.7h-15.8z"/>
<path fill="#3d33f3" d="M119.7 557.7h15.8v2.7h-15.8z"/>
<path fill="#f7c8c3" d="M150.8 557.7h15.8v2.7h-15.8z"/>
<path fill="#a795f5" d="M119.7 560.2h15.8v1.7h-15.8zM135.2 575.9h15.8v1.2h-15.8z"/>
<path fill="#bfb1f5" d="M135.2 560.2h15.8v1.7h-15.8z"/>
<path fill="#f6816b" d="M57.5 561.7h15.8v1.7h-15.8z"/>
<path fill="#cdc0f5" d="M104.1 561.7h15.8v1.7h-15.8zM135.2 615.4h15.8v1.7h-15.8zM119.7 631.5h15.8v2.2h-15.8zM181.9 631.5h15.8v2.2h-15.8z"/>
<path fill="#d6caf5" d="M119.7 561.7h15.8v1.7h-15.8zM150.8 607.9h15.8v1.7h-15.8zM73 640h15.8v1.7h-15.8zM119.7 645.5h15.8v1.2h-15.8z"/>
<path fill="#a493f5" d="M135.2 561.7h15.8v1.7h-15.8zM73 584.9h15.8v1.2h-15.8z"/>
<path fill="#f2eaf5" d="M150.8 561.7h15.8v1.7h-15.8z"/>
<path fill="#f89c89" d="M73 563.2h15.8v2.7h-15.8z"/>
<path fill="#f6816c" d="M88.6 563.2h15.8v2.7h-15.8zM166.3 627.5h15.8v1.2h-15.8z"/>
<path fill="#6356f4" d="M119.7 563.2h15.8v2.7h-15.8z"/>
<path fill="#f6846e" d="M181.9 563.2h15.8v2.7h-15.8z"/>
<path fill="#f34529" d="M57.5 565.7h15.8v0.4h-15.8z"/>
<path fill="#7567f4" d="M119.7 565.7h15.8v0.4h-15.8zM88.6 620.4h15.8v0.3h-15.8z"/>
<path fill="#f7d7d5" d="M135.2 565.7h15.8v0.4h-15.8z"/>
<path fill="#f7ebf0" d="M150.8 565.7h15.8v0.4h-15.8zM166.3 624.5h15.8v2.2h-15.8zM119.7 633.5h15.8v1.7h-15.8z"/>
<path fill="#c7b9f5" d="M181.9 565.7h15.8v0.4h-15.8zM88.6 618.9h15.8v1.7h-15.8zM119.7 652.5h15.8v1.7h-15.8z"/>
<path fill="#c1b2f5" d="M73 565.9h15.8v1.7h-15.8z"/>
<path fill="#f79683" d="M104.1 565.9h15.8v1.7h-15.8zM119.7 575.9h15.8v1.2h-15.8zM104.1 593.4h15.8v2.7h-15.8z"/>
<path fill="#dcd0f5" d="M181.9 565.9h15.8v1.7h-15.8z"/>
<path fill="#f34d31" d="M119.7 567.4h15.8v1.7h-15.8z"/>
<path fill="#f7e3e6" d="M135.2 567.4h15.8v1.7h-15.8zM150.8 643.5h15.8v2.2h-15.8z"/>
<path fill="#f8ab9c" d="M181.9 567.4h15.8v1.7h-15.8zM135.2 636h15.8v1.2h-15.8z"/>
<path fill="#9b89f5" d="M57.5 568.9h15.8v1.2h-15.8z"/>
<path fill="#7d6ef4" d="M88.6 568.9h15.8v1.2h-15.8z"/>
<path fill="#f56e57" d="M104.1 568.9h15.8v1.2h-15.8z"/>
<path fill="#6053f4" d="M73 569.9h15.8v1.7h-15.8z"/>
<path fill="#f67b64" d="M119.7 571.4h15.8v2.7h-15.8z"/>
<path fill="#f7dedf" d="M181.9 571.4h15.8v2.7h-15.8zM166.3 573.9h15.8v1.2h-15.8z"/>
<path fill="#ac9cf5" d="M57.5 573.9h15.8v1.2h-15.8zM135.2 589.4h15.8v2.2h-15.8zM73 605.4h15.8v2.7h-15.8z"/>
<path fill="#4f44f3" d="M88.6 573.9h15.8v1.2h-15.8z"/>
<path fill="#f56a52" d="M104.1 573.9h15.8v1.2h-15.8z"/>
<path fill="#f6755e" d="M119.7 573.9h15.8v1.2h-15.8zM119.7 611.9h15.8v1.2h-15.8z"/>
<path fill="#f8c1b9" d="M181.9 573.9h15.8v1.2h-15.8zM135.2 651h15.8v1.7h-15.8z"/>
<path fill="#9887f5" d="M57.5 574.9h15.8v1.2h-15.8z"/>
<path fill="#c3b6f5" d="M73 574.9h15.8v1.2h-15.8zM150.8 581.9h15.8v1.7h-15.8z"/>
<path fill="#6f61f4" d="M88.6 574.9h15.8v1.2h-15.8z"/>
<path fill="#e9e0f5" d="M150.8 574.9h15.8v1.2h-15.8z"/>
<path fill="#f7dada" d="M181.9 574.9h15.8v1.2h-15.8z"/>
<path fill="#8171f4" d="M73 575.9h15.8v1.2h-15.8zM57.5 600.9h15.8v2.7h-15.8zM73 603.4h15.8v2.2h-15.8z"/>
<path fill="#f68671" d="M104.1 576.9h15.8v1.7h-15.8zM150.8 645.5h15.8v1.2h-15.8z"/>
<path fill="#8676f4" d="M135.2 576.9h15.8v1.7h-15.8zM73 618.9h15.8v1.7h-15.8zM104.1 630.5h15.8v1.2h-15.8zM88.6 651h15.8v1.7h-15.8z"/>
<path fill="#8373f4" d="M57.5 578.4h15.8v2.2h-15.8z"/>
<path fill="#7365f4" d="M73 578.4h15.8v2.2h-15.8z"/>
<path fill="#efe6f5" d="M150.8 578.4h15.8v2.2h-15.8zM119.7 624.5h15.8v2.2h-15.8z"/>
<path fill="#9c8bf5" d="M166.3 578.4h15.8v2.2h-15.8z"/>
<path fill="#f7cecb" d="M181.9 578.4h15.8v2.2h-15.8z"/>
<path fill="#c8baf5" d="M73 580.4h15.8v1.7h-15.8z"/>
<path fill="#7566f4" d="M88.6 580.4h15.8v1.7h-15.8zM57.5 628.5h15.8v2.2h-15.8z"/>
<path fill="#7364f4" d="M135.2 580.4h15.8v1.7h-15.8z"/>
<path fill="#8d7cf5" d="M88.6 581.9h15.8v1.7h-15.8z"/>
<path fill="#9281f5" d="M88.6 583.4h15.8v1.7h-15.8zM73 591.4h15.8v2.2h-15.8z"/>
<path fill="#f78b77" d="M119.7 583.4h15.8v1.7h-15.8zM135.2 630.5h15.8v1.2h-15.8z"/>
<path fill="#b09ff5" d="M135.2 583.4h15.8v1.7h-15.8zM135.2 593.4h15.8v2.7h-15.8z"/>
<path fill="#beaff5" d="M166.3 583.4h15.8v1.7h-15.8zM73 609.4h15.8v2.7h-15.8zM73 611.9h15.8v1.2h-15.8zM150.8 618.9h15.8v1.7h-15.8z"/>
<path fill="#d5c9f5" d="M166.3 584.9h15.8v1.2h-15.8z"/>
<path fill="#f7e2e4" d="M73 585.9h15.8v1.2h-15.8z"/>
<path fill="#bdaef5" d="M88.6 585.9h15.8v1.2h-15.8zM166.3 620.5h15.8v1.7h-15.8z"/>
<path fill="#f3462a" d="M104.1 585.9h15.8v1.2h-15.8z"/>
<path fill="#a694f5" d="M135.2 585.9h15.8v1.2h-15.8zM104.1 624.5h15.8v2.2h-15.8zM73 652.5h15.8v1.7h-15.8z"/>
<path fill="#f7e9ed" d="M150.8 585.9h15.8v1.2h-15.8zM73 638h15.8v2.2h-15.8z"/>
<path fill="#f7d9d8" d="M166.3 585.9h15.8v1.2h-15.8zM150.8 648.5h15.8v2.7h-15.8z"/>
<path fill="#f57159" d="M104.1 586.9h15.8v2.7h-15.8z"/>
<path fill="#3f35f3" d="M57.5 589.4h15.8v2.2h-15.8z"/>
<path fill="#7e6ef4" d="M73 589.4h15.8v2.2h-15.8zM181.9 589.4h15.8v2.2h-15.8z"/>
<path fill="#f79581" d="M104.1 589.4h15.8v2.2h-15.8z"/>
<path fill="#e1d6f5" d="M166.3 589.4h15.8v2.2h-15.8z"/>
<path fill="#7769f4" d="M57.5 591.4h15.8v2.2h-15.8z"/>
<path fill="#6e60f4" d="M88.6 591.4h15.8v2.2h-15.8z"/>
<path fill="#f8aea0" d="M150.8 591.4h15.8v2.2h-15.8z"/>
<path fill="#231bf2" d="M57.5 593.4h15.8v2.7h-15.8z"/>
<path fill="#bcadf5" d="M88.6 593.4h15.8v2.7h-15.8z"/>
<path fill="#f7e1e3" d="M150.8 593.4h15.8v2.7h-15.8zM166.3 612.9h15.8v2.7h-15.8z"/>
<path fill="#f1e9f5" d="M181.9 593.4h15.8v2.7h-15.8z"/>
<path fill="#241cf2" d="M57.5 595.9h15.8v2.7h-15.8z"/>
<path fill="#7263f4" d="M73 595.9h15.8v2.7h-15.8z"/>
<path fill="#6558f4" d="M135.2 595.9h15.8v2.7h-15.8zM57.5 638h15.8v2.2h-15.8z"/>
<path fill="#f8bbb1" d="M150.8 595.9h15.8v2.7h-15.8zM166.3 626.5h15.8v1.2h-15.8z"/>
<path fill="#f8b2a5" d="M166.3 595.9h15.8v2.7h-15.8zM166.3 618.9h15.8v1.7h-15.8zM181.9 630.5h15.8v1.2h-15.8z"/>
<path fill="#6c5ef4" d="M57.5 598.4h15.8v1.7h-15.8z"/>
<path fill="#ded4f5" d="M73 598.4h15.8v1.7h-15.8zM104.1 637h15.8v1.2h-15.8z"/>
<path fill="#f6836d" d="M104.1 598.4h15.8v1.7h-15.8zM135.2 620.5h15.8v1.7h-15.8zM135.2 641.5h15.8v2.2h-15.8z"/>
<path fill="#f7927f" d="M119.7 598.4h15.8v1.7h-15.8z"/>
<path fill="#594cf3" d="M166.3 598.4h15.8v1.7h-15.8z"/>
<path fill="#c6b8f5" d="M88.6 599.9h15.8v1.2h-15.8z"/>
<path fill="#f45237" d="M104.1 599.9h15.8v1.2h-15.8z"/>
<path fill="#f5664e" d="M119.7 599.9h15.8v1.2h-15.8z"/>
<path fill="#5448f3" d="M88.6 600.9h15.8v2.7h-15.8zM57.5 635h15.8v1.2h-15.8z"/>
<path fill="#f8b2a6" d="M104.1 600.9h15.8v2.7h-15.8zM104.1 615.4h15.8v1.7h-15.8zM119.7 643.5h15.8v2.2h-15.8z"/>
<path fill="#ece3f5" d="M181.9 600.9h15.8v2.7h-15.8z"/>
<path fill="#7d6df4" d="M57.5 603.4h15.8v2.2h-15.8z"/>
<path fill="#7264f4" d="M88.6 603.4h15.8v2.2h-15.8zM88.6 646.5h15.8v2.2h-15.8z"/>
<path fill="#c0b2f5" d="M135.2 603.4h15.8v2.2h-15.8z"/>
<path fill="#f8c7c1" d="M150.8 603.4h15.8v2.2h-15.8z"/>
<path fill="#f8b3a7" d="M119.7 605.4h15.8v2.7h-15.8z"/>
<path fill="#8c7cf5" d="M135.2 605.4h15.8v2.7h-15.8zM104.1 620.5h15.8v1.7h-15.8z"/>
<path fill="#695bf4" d="M57.5 607.9h15.8v1.7h-15.8z"/>
<path fill="#6053f3" d="M73 607.9h15.8v1.7h-15.8z"/>
<path fill="#4439f3" d="M88.6 607.9h15.8v1.7h-15.8z"/>
<path fill="#8f7ff5" d="M135.2 607.9h15.8v1.7h-15.8z"/>
<path fill="#f0e7f5" d="M181.9 607.9h15.8v1.7h-15.8zM119.7 626.5h15.8v1.2h-15.8z"/>
<path fill="#2018f2" d="M57.5 609.4h15.8v2.7h-15.8zM88.6 630.5h15.8v1.2h-15.8z"/>
<path fill="#f89885" d="M119.7 609.4h15.8v2.7h-15.8zM104.1 618.9h15.8v1.7h-15.8z"/>
<path fill="#3f34f3" d="M57.5 611.9h15.8v1.2h-15.8zM88.6 616.9h15.8v2.2h-15.8z"/>
<path fill="#f67962" d="M104.1 611.9h15.8v1.2h-15.8zM150.8 620.5h15.8v1.7h-15.8z"/>
<path fill="#7163f4" d="M135.2 611.9h15.8v1.2h-15.8z"/>
<path fill="#c6b9f5" d="M166.3 611.9h15.8v1.2h-15.8z"/>
<path fill="#2f26f2" d="M57.5 612.9h15.8v2.7h-15.8z"/>
<path fill="#f7ecf2" d="M135.2 612.9h15.8v2.7h-15.8z"/>
<path fill="#f8beb6" d="M181.9 612.9h15.8v2.7h-15.8z"/>
<path fill="#6456f4" d="M57.5 615.4h15.8v1.7h-15.8z"/>
<path fill="#f46249" d="M104.1 616.9h15.8v2.2h-15.8z"/>
<path fill="#f23d1f" d="M119.7 616.9h15.8v2.2h-15.8z"/>
<path fill="#f8baaf" d="M150.8 616.9h15.8v2.2h-15.8z"/>
<path fill="#f7ccc8" d="M181.9 616.9h15.8v2.2h-15.8z"/>
<path fill="#d7cbf5" d="M57.5 618.9h15.8v1.7h-15.8zM104.1 628.5h15.8v2.2h-15.8zM104.1 645.5h15.8v1.2h-15.8z"/>
<path fill="#5a4df3" d="M135.2 618.9h15.8v1.7h-15.8z"/>
<path fill="#6154f4" d="M57.5 620.4h15.8v0.3h-15.8zM73 622h15.8v2.7h-15.8zM88.6 645.5h15.8v1.2h-15.8z"/>
<path fill="#f89986" d="M119.7 620.4h15.8v0.3h-15.8z"/>
<path fill="#bcaef5" d="M135.2 620.4h15.8v0.3h-15.8z"/>
<path fill="#ece2f5" d="M181.9 620.4h15.8v0.3h-15.8z"/>
<path fill="#9988f5" d="M57.5 620.5h15.8v1.7h-15.8z"/>
<path fill="#f7dcdc" d="M119.7 620.5h15.8v1.7h-15.8z"/>
<path fill="#4e42f3" d="M88.6 622h15.8v2.7h-15.8z"/>
<path fill="#f78c78" d="M150.8 622h15.8v2.7h-15.8zM150.8 626.5h15.8v1.2h-15.8zM150.8 635h15.8v1.2h-15.8z"/>
<path fill="#c3b5f5" d="M166.3 622h15.8v2.7h-15.8z"/>
<path fill="#ede4f5" d="M181.9 622h15.8v2.7h-15.8z"/>
<path fill="#4035f3" d="M73 624.5h15.8v2.2h-15.8z"/>
<path fill="#564af3" d="M88.6 624.5h15.8v2.2h-15.8z"/>
<path fill="#f8c1b8" d="M181.9 624.5h15.8v2.2h-15.8z"/>
<path fill="#9a89f5" d="M73 626.5h15.8v1.2h-15.8z"/>
<path fill="#9684f5" d="M88.6 626.5h15.8v1.2h-15.8z"/>
<path fill="#7e6ff4" d="M104.1 626.5h15.8v1.2h-15.8z"/>
<path fill="#5c50f3" d="M57.5 627.5h15.8v1.2h-15.8z"/>
<path fill="#b4a5f5" d="M73 627.5h15.8v1.2h-15.8zM73 630.5h15.8v1.2h-15.8z"/>
<path fill="#9583f5" d="M104.1 627.5h15.8v1.2h-15.8z"/>
<path fill="#f4583e" d="M135.2 627.5h15.8v1.2h-15.8z"/>
<path fill="#f56a51" d="M135.2 628.5h15.8v2.2h-15.8z"/>
<path fill="#4b3ff3" d="M57.5 630.5h15.8v1.2h-15.8z"/>
<path fill="#453af3" d="M119.7 630.5h15.8v1.2h-15.8zM57.5 631.5h15.8v2.2h-15.8zM88.6 636h15.8v1.2h-15.8z"/>
<path fill="#f57058" d="M150.8 630.5h15.8v1.2h-15.8z"/>
<path fill="#796af4" d="M73 631.5h15.8v2.2h-15.8z"/>
<path fill="#a290f5" d="M88.6 631.5h15.8v2.2h-15.8zM119.7 651h15.8v1.7h-15.8z"/>
<path fill="#f24023" d="M135.2 631.5h15.8v2.2h-15.8z"/>
<path fill="#a391f5" d="M57.5 633.5h15.8v1.7h-15.8z"/>
<path fill="#f23a1d" d="M135.2 633.5h15.8v1.7h-15.8z"/>
<path fill="#f23d20" d="M150.8 633.5h15.8v1.7h-15.8z"/>
<path fill="#f8c2bb" d="M181.9 633.5h15.8v1.7h-15.8z"/>
<path fill="#7465f4" d="M73 635h15.8v1.2h-15.8z"/>
<path fill="#3329f2" d="M88.6 635h15.8v1.2h-15.8z"/>
<path fill="#5f52f3" d="M104.1 635h15.8v1.2h-15.8z"/>
<path fill="#f23f21" d="M135.2 635h15.8v1.2h-15.8z"/>
<path fill="#f7e1e2" d="M181.9 635h15.8v1.2h-15.8z"/>
<path fill="#372df3" d="M57.5 636h15.8v1.2h-15.8z"/>
<path fill="#f23b1d" d="M135.2 637h15.8v1.2h-15.8z"/>
<path fill="#c8bbf5" d="M166.3 638h15.8v2.2h-15.8z"/>
<path fill="#f7dcdd" d="M181.9 638h15.8v2.2h-15.8z"/>
<path fill="#5a4ef3" d="M57.5 640h15.8v1.7h-15.8z"/>
<path fill="#d9cef5" d="M88.6 640h15.8v1.7h-15.8z"/>
<path fill="#f34e32" d="M150.8 640h15.8v1.7h-15.8z"/>
<path fill="#f8b7ad" d="M166.3 640h15.8v1.7h-15.8z"/>
<path fill="#f7dbdb" d="M181.9 640h15.8v1.7h-15.8z"/>
<path fill="#4338f3" d="M57.5 641.5h15.8v2.2h-15.8z"/>
<path fill="#af9ff5" d="M73 641.5h15.8v2.2h-15.8z"/>
<path fill="#3a30f3" d="M88.6 641.5h15.8v2.2h-15.8z"/>
<path fill="#beb0f5" d="M104.1 641.5h15.8v2.2h-15.8z"/>
<path fill="#f8bcb2" d="M166.3 641.5h15.8v2.2h-15.8z"/>
<path fill="#8e7df5" d="M88.6 643.5h15.8v2.2h-15.8z"/>
<path fill="#bdaff5" d="M104.1 643.5h15.8v2.2h-15.8z"/>
<path fill="#f45d44" d="M181.9 643.5h15.8v2.2h-15.8z"/>
<path fill="#a492f5" d="M73 645.5h15.8v1.2h-15.8z"/>
<path fill="#f8b7ab" d="M181.9 645.5h15.8v1.2h-15.8z"/>
<path fill="#4f43f3" d="M57.5 646.5h15.8v2.2h-15.8z"/>
<path fill="#4d42f3" d="M104.1 646.5h15.8v2.2h-15.8z"/>
<path fill="#f56d55" d="M181.9 646.5h15.8v2.2h-15.8z"/>
<path fill="#3127f2" d="M73 648.5h15.8v2.7h-15.8z"/>
<path fill="#f8c7c0" d="M181.9 648.5h15.8v2.7h-15.8z"/>
<path fill="#6b5df4" d="M104.1 651h15.8v1.7h-15.8z"/>
<path fill="#7062f4" d="M57.5 652.5h15.8v1.7h-15.8z"/>
<path fill="#f8a695" d="M135.2 652.5h15.8v1.7h-15.8z"/>
<path fill="#f78a76" d="M166.3 652.5h15.8v1.7h-15.8z"/>
<path fill="#8a7af4" d="M57.5 654h15.8v2.4h-15.8z"/>
<path fill="#d1c5f5" d="M73 654h15.8v2.4h-15.8z"/>
<path fill="#5d50f3" d="M88.6 654h15.8v2.4h-15.8z"/>
<path fill="#ad9df5" d="M104.1 654h15.8v2.4h-15.8z"/>
<path fill="#3128f2" d="M119.7 654h15.8v2.4h-15.8z"/>
<rect x="57.5" y="474.2" width="46.63" height="91.7" fill="none" stroke="#000" stroke-width="1.5"/>
<rect x="104.13" y="565.9" width="31.09" height="55.6" fill="none" stroke="#000" stroke-width="1.5"/>
<rect x="135.22" y="621.5" width="31.09" height="22.4" fill="none" stroke="#000" stroke-width="1.5"/>
<rect x="166.31" y="643.9" width="31.09" height="12.3" fill="none" stroke="#000" stroke-width="1.5"/>
<rect x="48.5" y="474.2" width="8.5" height="91.7" fill="#1570c0"/>
<rect x="48.5" y="565.9" width="8.5" height="54.6" fill="#ffff00"/>
<rect x="48.5" y="620.5" width="8.5" height="23" fill="#cd5c5c"/>
<rect x="48.5" y="643.5" width="8.5" height="12.7" fill="#8c8c8c"/>
<line x1="63.77" y1="657.5" x2="66.77" y2="657.5" stroke="#bbbbbb" stroke-width="0.8" />
<line x1="79.32" y1="657.5" x2="82.32" y2="657.5" stroke="#bbbbbb" stroke-width="0.8" />
<line x1="94.86" y1="657.5" x2="97.86" y2="657.5" stroke="#bbbbbb" stroke-width="0.8" />
<line x1="110.41" y1="657.5" x2="113.41" y2="657.5" stroke="#bbbbbb" stroke-width="0.8" />
<line x1="125.95" y1="657.5" x2="128.95" y2="657.5" stroke="#bbbbbb" stroke-width="0.8" />
<line x1="141.49" y1="657.5" x2="144.49" y2="657.5" stroke="#bbbbbb" stroke-width="0.8" />
<line x1="157.04" y1="657.5" x2="160.04" y2="657.5" stroke="#bbbbbb" stroke-width="0.8" />
<line x1="172.58" y1="657.5" x2="175.58" y2="657.5" stroke="#bbbbbb" stroke-width="0.8" />
<line x1="188.13" y1="657.5" x2="191.13" y2="657.5" stroke="#bbbbbb" stroke-width="0.8" />
<text x="46" y="527.4" font-size="12.7" text-anchor="middle" stroke="#000" stroke-width="0.25" transform="rotate(-90 46 527.4)">AR</text>
<text x="46" y="593.2" font-size="12.7" text-anchor="middle" stroke="#000" stroke-width="0.25" transform="rotate(-90 46 593.2)">SCL</text>
<text x="45.5" y="631.2" font-size="12.7" text-anchor="middle" stroke="#000" stroke-width="0.25" transform="rotate(-90 45.5 631.2)">NE</text>
<text x="33" y="650.6" font-size="12.7" text-anchor="middle" stroke="#000" stroke-width="0.25" transform="rotate(-90 33 650.6)">WNT</text>
<line x1="35.5" y1="650.6" x2="42" y2="650.6" stroke="#000" stroke-width="1.4" />
<polygon points="48.3,650.6 41.5,646.6 41.5,654.6" fill="#000" />
<text x="66" y="472.3" font-size="10.1" fill="#1f78c8" stroke="#1f78c8" stroke-width="0.25" transform="rotate(-55 66 472.3)">AR markers</text>
<text x="82.16" y="472.3" font-size="10.1" fill="#1f78c8" stroke="#1f78c8" stroke-width="0.25" transform="rotate(-55 82.16 472.3)">LNCaP-SEs</text>
<text x="98.32" y="472.3" font-size="10.1" fill="#1f78c8" stroke="#1f78c8" stroke-width="0.25" transform="rotate(-55 98.32 472.3)">201.1-SEs</text>
<text x="114.48" y="472.3" font-size="10.1" fill="#f5b400" stroke="#f5b400" stroke-width="0.25" transform="rotate(-55 114.48 472.3)">SCL markers</text>
<text x="130.64" y="472.3" font-size="10.1" fill="#f5b400" stroke="#f5b400" stroke-width="0.25" transform="rotate(-55 130.64 472.3)">PC-3-SEs</text>
<text x="146.8" y="472.3" font-size="10.1" fill="#8b4513" stroke="#8b4513" stroke-width="0.25" transform="rotate(-55 146.8 472.3)">NE markers</text>
<text x="162.96" y="472.3" font-size="10.1" fill="#8b4513" stroke="#8b4513" stroke-width="0.25" transform="rotate(-55 162.96 472.3)">H660-SEs</text>
<text x="179.12" y="472.3" font-size="10.1" stroke="#000" stroke-width="0.25" transform="rotate(-55 179.12 472.3)">WNT markers</text>
<text x="195.28" y="472.3" font-size="10.1" stroke="#000" stroke-width="0.25" transform="rotate(-55 195.28 472.3)">201.2-SEs</text>
<rect x="342.8" y="531.2" width="305.4" height="7.5" fill="#f8f8f8"/>
<rect x="342.8" y="447" width="305.4" height="84.2" fill="#f6f6f6"/>
<line x1="342.8" y1="447" x2="342.8" y2="531.2" stroke="#bdbdbd" stroke-width="0.8" />
<line x1="342.8" y1="460.6" x2="648.2" y2="460.6" stroke="#c8c8c8" stroke-width="0.6" />
<text x="344.8" y="451.3" font-size="2.6" fill="#555">[0 - 1.00]</text>
<line x1="342.8" y1="473.9" x2="648.2" y2="473.9" stroke="#c8c8c8" stroke-width="0.6" />
<text x="344.8" y="464.9" font-size="2.6" fill="#555">[0 - 1.00]</text>
<line x1="342.8" y1="487.4" x2="648.2" y2="487.4" stroke="#c8c8c8" stroke-width="0.6" />
<text x="344.8" y="478.2" font-size="2.6" fill="#555">[0 - 1.00]</text>
<line x1="342.8" y1="501.2" x2="648.2" y2="501.2" stroke="#c8c8c8" stroke-width="0.6" />
<text x="344.8" y="491.7" font-size="2.6" fill="#555">[0 - 1.00]</text>
<line x1="342.8" y1="514.8" x2="648.2" y2="514.8" stroke="#c8c8c8" stroke-width="0.6" />
<text x="344.8" y="505.5" font-size="2.6" fill="#555">[0 - 1.00]</text>
<line x1="342.8" y1="528.1" x2="648.2" y2="528.1" stroke="#c8c8c8" stroke-width="0.6" />
<text x="344.8" y="519.1" font-size="2.6" fill="#555">[0 - 1.00]</text>
<polygon points="344.8,460.6 345.6,459.5 345.9,459.3 346.2,459.5 347,460.6" fill="#2b2bb0" />
<polygon points="347.1,460.6 347.9,459.3 348.2,459.1 348.5,459.3 349.3,460.6" fill="#2b2bb0" />
<polygon points="349,460.6 349.8,459.3 350.1,459.1 350.4,459.3 351.2,460.6" fill="#2b2bb0" />
<polygon points="349.9,460.6 350.7,459.8 351,459.6 351.3,459.8 352.1,460.6" fill="#2b2bb0" />
<polygon points="353.3,460.6 354.1,459.6 354.4,459.4 354.7,459.6 355.5,460.6" fill="#2b2bb0" />
<polygon points="355.3,460.6 356.1,460.1 356.4,460.1 356.7,460.1 357.5,460.6" fill="#2b2bb0" />
<polygon points="356.6,460.6 357.4,460 357.7,459.9 358,460 358.8,460.6" fill="#2b2bb0" />
<polygon points="358.7,460.6 359.5,459.7 359.8,459.5 360.1,459.7 360.9,460.6" fill="#2b2bb0" />
<polygon points="359.9,460.6 360.7,460 361,459.9 361.3,460 362.1,460.6" fill="#2b2bb0" />
<polygon points="362.3,460.6 363.1,459.3 363.4,459.1 363.7,459.3 364.5,460.6" fill="#2b2bb0" />
<polygon points="365,460.6 365.8,460.1 366.1,460 366.4,460.1 367.2,460.6" fill="#2b2bb0" />
<polygon points="367.1,460.6 367.9,460.1 368.2,460 368.5,460.1 369.3,460.6" fill="#2b2bb0" />
<polygon points="368.8,460.6 369.6,460.1 369.9,460 370.2,460.1 371,460.6" fill="#2b2bb0" />
<polygon points="369.9,460.6 370.7,459.4 371,459.2 371.3,459.4 372.1,460.6" fill="#2b2bb0" />
<polygon points="372.2,460.6 373,460 373.3,459.9 373.6,460 374.4,460.6" fill="#2b2bb0" />
<polygon points="375.4,460.6 376.2,459.4 376.5,459.2 376.8,459.4 377.6,460.6" fill="#2b2bb0" />
<polygon points="376.3,460.6 377.1,459.3 377.4,459 377.7,459.3 378.5,460.6" fill="#2b2bb0" />
<polygon points="378.7,460.6 379.5,459.6 379.8,459.4 380.1,459.6 380.9,460.6" fill="#2b2bb0" />
<polygon points="380.2,460.6 381,459.3 381.3,459.1 381.6,459.3 382.4,460.6" fill="#2b2bb0" />
<polygon points="382.9,460.6 383.7,459.3 384,459 384.3,459.3 385.1,460.6" fill="#2b2bb0" />
<polygon points="385.2,460.6 386,460 386.3,459.8 386.6,460 387.4,460.6" fill="#2b2bb0" />
<polygon points="386.4,460.6 387.2,460.1 387.5,460 387.8,460.1 388.6,460.6" fill="#2b2bb0" />
<polygon points="388.1,460.6 388.9,460.2 389.2,460.1 389.5,460.2 390.3,460.6" fill="#2b2bb0" />
<polygon points="390.4,460.6 391.2,459.6 391.5,459.5 391.8,459.6 392.6,460.6" fill="#2b2bb0" />
<polygon points="391.9,460.6 392.7,459.6 393,459.4 393.3,459.6 394.1,460.6" fill="#2b2bb0" />
<polygon points="394.4,460.6 395.2,459.9 395.5,459.8 395.8,459.9 396.6,460.6" fill="#2b2bb0" />
<polygon points="397.1,460.6 397.9,459.8 398.2,459.6 398.5,459.8 399.3,460.6" fill="#2b2bb0" />
<polygon points="398.4,460.6 399.2,459.8 399.5,459.6 399.8,459.8 400.6,460.6" fill="#2b2bb0" />
<polygon points="401,460.6 401.8,460.2 402.1,460.1 402.4,460.2 403.2,460.6" fill="#2b2bb0" />
<polygon points="403.4,460.6 404.2,460.2 404.5,460.2 404.8,460.2 405.6,460.6" fill="#2b2bb0" />
<polygon points="405,460.6 405.8,459.4 406.1,459.2 406.4,459.4 407.2,460.6" fill="#2b2bb0" />
<polygon points="405.9,460.6 406.7,459.5 407,459.3 407.3,459.5 408.1,460.6" fill="#2b2bb0" />
<polygon points="408.4,460.6 409.2,459.7 409.5,459.5 409.8,459.7 410.6,460.6" fill="#2b2bb0" />
<polygon points="409.9,460.6 410.7,460.2 411,460.1 411.3,460.2 412.1,460.6" fill="#2b2bb0" />
<polygon points="412.2,460.6 413,459.3 413.3,459.1 413.6,459.3 414.4,460.6" fill="#2b2bb0" />
<polygon points="414.2,460.6 415,459.5 415.3,459.3 415.6,459.5 416.4,460.6" fill="#2b2bb0" />
<polygon points="417.3,460.6 418.1,459.3 418.4,459.1 418.7,459.3 419.5,460.6" fill="#2b2bb0" />
<polygon points="418.4,460.6 419.2,459.9 419.5,459.8 419.8,459.9 420.6,460.6" fill="#2b2bb0" />
<polygon points="420.7,460.6 421.5,459.5 421.8,459.3 422.1,459.5 422.9,460.6" fill="#2b2bb0" />
<polygon points="422.1,460.6 422.9,459.5 423.2,459.3 423.5,459.5 424.3,460.6" fill="#2b2bb0" />
<polygon points="425.1,460.6 425.9,459.4 426.2,459.2 426.5,459.4 427.3,460.6" fill="#2b2bb0" />
<polygon points="426,460.6 426.8,459.3 427.1,459.1 427.4,459.3 428.2,460.6" fill="#2b2bb0" />
<polygon points="428,460.6 428.8,459.9 429.1,459.8 429.4,459.9 430.2,460.6" fill="#2b2bb0" />
<polygon points="430.8,460.6 431.6,459.3 431.9,459.1 432.2,459.3 433,460.6" fill="#2b2bb0" />
<polygon points="432.4,460.6 433.2,459.3 433.5,459.1 433.8,459.3 434.6,460.6" fill="#2b2bb0" />
<polygon points="434.7,460.6 435.5,459.9 435.8,459.8 436.1,459.9 436.9,460.6" fill="#2b2bb0" />
<polygon points="436.4,460.6 437.2,460.1 437.5,460 437.8,460.1 438.6,460.6" fill="#2b2bb0" />
<polygon points="438,460.6 438.8,460.1 439.1,460 439.4,460.1 440.2,460.6" fill="#2b2bb0" />
<polygon points="440.9,460.6 441.7,459.2 442,459 442.3,459.2 443.1,460.6" fill="#2b2bb0" />
<polygon points="442.1,460.6 442.9,460.2 443.2,460.1 443.5,460.2 444.3,460.6" fill="#2b2bb0" />
<polygon points="445.4,460.6 446.2,459.7 446.5,459.6 446.8,459.7 447.6,460.6" fill="#2b2bb0" />
<polygon points="446.5,460.6 447.3,460 447.6,459.9 447.9,460 448.7,460.6" fill="#2b2bb0" />
<polygon points="448.8,460.6 449.6,459.4 449.9,459.2 450.2,459.4 451,460.6" fill="#2b2bb0" />
<polygon points="450.6,460.6 451.4,459.8 451.7,459.7 452,459.8 452.8,460.6" fill="#2b2bb0" />
<polygon points="452,460.6 452.8,459.3 453.1,459.1 453.4,459.3 454.2,460.6" fill="#2b2bb0" />
<polygon points="453.9,460.6 454.7,459.8 455,459.6 455.3,459.8 456.1,460.6" fill="#2b2bb0" />
<polygon points="457.2,460.6 458,460.1 458.3,460 458.6,460.1 459.4,460.6" fill="#2b2bb0" />
<polygon points="459,460.6 459.8,459.3 460.1,459.1 460.4,459.3 461.2,460.6" fill="#2b2bb0" />
<polygon points="460.8,460.6 461.6,459.5 461.9,459.3 462.2,459.5 463,460.6" fill="#2b2bb0" />
<polygon points="462.1,460.6 462.9,459.8 463.2,459.7 463.5,459.8 464.3,460.6" fill="#2b2bb0" />
<polygon points="464.1,460.6 464.9,459.4 465.2,459.2 465.5,459.4 466.3,460.6" fill="#2b2bb0" />
<polygon points="466.3,460.6 467.1,459.8 467.4,459.7 467.7,459.8 468.5,460.6" fill="#2b2bb0" />
<polygon points="469.4,460.6 470.2,459.4 470.5,459.2 470.8,459.4 471.6,460.6" fill="#2b2bb0" />
<polygon points="471.4,460.6 472.2,459.8 472.5,459.7 472.8,459.8 473.6,460.6" fill="#2b2bb0" />
<polygon points="472.6,460.6 473.4,459.5 473.7,459.3 474,459.5 474.8,460.6" fill="#2b2bb0" />
<polygon points="474.6,460.6 475.4,460 475.7,459.9 476,460 476.8,460.6" fill="#2b2bb0" />
<polygon points="476.5,460.6 477.3,460.1 477.6,460 477.9,460.1 478.7,460.6" fill="#2b2bb0" />
<polygon points="478.5,460.6 479.3,459.3 479.6,459 479.9,459.3 480.7,460.6" fill="#2b2bb0" />
<polygon points="481.3,460.6 482.1,459.6 482.4,459.4 482.7,459.6 483.5,460.6" fill="#2b2bb0" />
<polygon points="482.6,460.6 483.4,459.9 483.7,459.8 484,459.9 484.8,460.6" fill="#2b2bb0" />
<polygon points="484,460.6 484.8,460 485.1,459.9 485.4,460 486.2,460.6" fill="#2b2bb0" />
<polygon points="487.1,460.6 487.9,459.4 488.2,459.2 488.5,459.4 489.3,460.6" fill="#2b2bb0" />
<polygon points="488.4,460.6 489.2,459.5 489.5,459.3 489.8,459.5 490.6,460.6" fill="#2b2bb0" />
<polygon points="491.1,460.6 491.9,459.6 492.2,459.4 492.5,459.6 493.3,460.6" fill="#2b2bb0" />
<polygon points="492.9,460.6 493.7,459.5 494,459.3 494.3,459.5 495.1,460.6" fill="#2b2bb0" />
<polygon points="494.4,460.6 495.2,459.5 495.5,459.4 495.8,459.5 496.6,460.6" fill="#2b2bb0" />
<polygon points="496.3,460.6 497.1,459.8 497.4,459.6 497.7,459.8 498.5,460.6" fill="#2b2bb0" />
<polygon points="499.1,460.6 499.9,459.6 500.2,459.4 500.5,459.6 501.3,460.6" fill="#2b2bb0" />
<polygon points="500.3,460.6 501.1,459.3 501.4,459.1 501.7,459.3 502.5,460.6" fill="#2b2bb0" />
<polygon points="502.9,460.6 503.7,459.7 504,459.5 504.3,459.7 505.1,460.6" fill="#2b2bb0" />
<polygon points="503.9,460.6 504.7,459.7 505,459.5 505.3,459.7 506.1,460.6" fill="#2b2bb0" />
<polygon points="506.3,460.6 507.1,459.6 507.4,459.4 507.7,459.6 508.5,460.6" fill="#2b2bb0" />
<polygon points="508.6,460.6 509.4,459.4 509.7,459.2 510,459.4 510.8,460.6" fill="#2b2bb0" />
<polygon points="510.9,460.6 511.7,459.4 512,459.2 512.3,459.4 513.1,460.6" fill="#2b2bb0" />
<polygon points="512.4,460.6 513.2,459.6 513.5,459.4 513.8,459.6 514.6,460.6" fill="#2b2bb0" />
<polygon points="515,460.6 515.8,459.4 516.1,459.2 516.4,459.4 517.2,460.6" fill="#2b2bb0" />
<polygon points="516.4,460.6 517.2,459.4 517.5,459.2 517.8,459.4 518.6,460.6" fill="#2b2bb0" />
<polygon points="519.2,460.6 520,459.6 520.3,459.4 520.6,459.6 521.4,460.6" fill="#2b2bb0" />
<polygon points="521.4,460.6 522.2,459.3 522.5,459.1 522.8,459.3 523.6,460.6" fill="#2b2bb0" />
<polygon points="522.7,460.6 523.5,459.7 523.8,459.6 524.1,459.7 524.9,460.6" fill="#2b2bb0" />
<polygon points="524.1,460.6 524.9,459.4 525.2,459.2 525.5,459.4 526.3,460.6" fill="#2b2bb0" />
<polygon points="527.3,460.6 528.1,459.8 528.4,459.6 528.7,459.8 529.5,460.6" fill="#2b2bb0" />
<polygon points="528.9,460.6 529.7,459.5 530,459.3 530.3,459.5 531.1,460.6" fill="#2b2bb0" />
<polygon points="531,460.6 531.8,460.1 532.1,460 532.4,460.1 533.2,460.6" fill="#2b2bb0" />
<polygon points="533.1,460.6 533.9,459.7 534.2,459.5 534.5,459.7 535.3,460.6" fill="#2b2bb0" />
<polygon points="534.9,460.6 535.7,459.8 536,459.7 536.3,459.8 537.1,460.6" fill="#2b2bb0" />
<polygon points="536.8,460.6 537.6,459.5 537.9,459.3 538.2,459.5 539,460.6" fill="#2b2bb0" />
<polygon points="538.9,460.6 539.7,459.5 540,459.3 540.3,459.5 541.1,460.6" fill="#2b2bb0" />
<polygon points="539.9,460.6 540.7,460.1 541,460 541.3,460.1 542.1,460.6" fill="#2b2bb0" />
<polygon points="542.6,460.6 543.4,459.6 543.7,459.4 544,459.6 544.8,460.6" fill="#2b2bb0" />
<polygon points="544.2,460.6 545,459.6 545.3,459.4 545.6,459.6 546.4,460.6" fill="#2b2bb0" />
<polygon points="546.8,460.6 547.6,460.2 547.9,460.1 548.2,460.2 549,460.6" fill="#2b2bb0" />
<polygon points="548.6,460.6 549.4,460 549.7,459.9 550,460 550.8,460.6" fill="#2b2bb0" />
<polygon points="550,460.6 550.8,460.1 551.1,460 551.4,460.1 552.2,460.6" fill="#2b2bb0" />
<polygon points="552.4,460.6 553.2,460.1 553.5,460 553.8,460.1 554.6,460.6" fill="#2b2bb0" />
<polygon points="554.2,460.6 555,460.2 555.3,460.2 555.6,460.2 556.4,460.6" fill="#2b2bb0" />
<polygon points="556.6,460.6 557.4,459.9 557.7,459.7 558,459.9 558.8,460.6" fill="#2b2bb0" />
<polygon points="558.8,460.6 559.6,459.7 559.9,459.5 560.2,459.7 561,460.6" fill="#2b2bb0" />
<polygon points="560.3,460.6 561.1,459.3 561.4,459.1 561.7,459.3 562.5,460.6" fill="#2b2bb0" />
<polygon points="561.9,460.6 562.7,459.8 563,459.7 563.3,459.8 564.1,460.6" fill="#2b2bb0" />
<polygon points="564.3,460.6 565.1,459.8 565.4,459.7 565.7,459.8 566.5,460.6" fill="#2b2bb0" />
<polygon points="566.1,460.6 566.9,459.4 567.2,459.2 567.5,459.4 568.3,460.6" fill="#2b2bb0" />
<polygon points="568.5,460.6 569.3,460.2 569.6,460.2 569.9,460.2 570.7,460.6" fill="#2b2bb0" />
<polygon points="570.8,460.6 571.6,460.2 571.9,460.1 572.2,460.2 573,460.6" fill="#2b2bb0" />
<polygon points="572.7,460.6 573.5,459.9 573.8,459.8 574.1,459.9 574.9,460.6" fill="#2b2bb0" />
<polygon points="574.8,460.6 575.6,459.3 575.9,459.1 576.2,459.3 577,460.6" fill="#2b2bb0" />
<polygon points="577.1,460.6 577.9,459.8 578.2,459.7 578.5,459.8 579.3,460.6" fill="#2b2bb0" />
<polygon points="579.1,460.6 579.9,459.6 580.2,459.4 580.5,459.6 581.3,460.6" fill="#2b2bb0" />
<polygon points="580.5,460.6 581.3,460.1 581.6,460 581.9,460.1 582.7,460.6" fill="#2b2bb0" />
<polygon points="582.8,460.6 583.6,459.7 583.9,459.5 584.2,459.7 585,460.6" fill="#2b2bb0" />
<polygon points="585.3,460.6 586.1,459.3 586.4,459 586.7,459.3 587.5,460.6" fill="#2b2bb0" />
<polygon points="586.8,460.6 587.6,459.9 587.9,459.8 588.2,459.9 589,460.6" fill="#2b2bb0" />
<polygon points="589.2,460.6 590,460.3 590.3,460.2 590.6,460.3 591.4,460.6" fill="#2b2bb0" />
<polygon points="590.1,460.6 590.9,459.7 591.2,459.5 591.5,459.7 592.3,460.6" fill="#2b2bb0" />
<polygon points="592.8,460.6 593.6,460.1 593.9,460 594.2,460.1 595,460.6" fill="#2b2bb0" />
<polygon points="594.8,460.6 595.6,459.4 595.9,459.1 596.2,459.4 597,460.6" fill="#2b2bb0" />
<polygon points="596.5,460.6 597.3,459.8 597.6,459.7 597.9,459.8 598.7,460.6" fill="#2b2bb0" />
<polygon points="598.2,460.6 599,460 599.3,459.9 599.6,460 600.4,460.6" fill="#2b2bb0" />
<polygon points="601.4,460.6 602.2,459.9 602.5,459.7 602.8,459.9 603.6,460.6" fill="#2b2bb0" />
<polygon points="603.3,460.6 604.1,459.3 604.4,459.1 604.7,459.3 605.5,460.6" fill="#2b2bb0" />
<polygon points="604.8,460.6 605.6,460 605.9,459.9 606.2,460 607,460.6" fill="#2b2bb0" />
<polygon points="607.4,460.6 608.2,459.8 608.5,459.6 608.8,459.8 609.6,460.6" fill="#2b2bb0" />
<polygon points="608.5,460.6 609.3,459.9 609.6,459.8 609.9,459.9 610.7,460.6" fill="#2b2bb0" />
<polygon points="611.4,460.6 612.2,459.8 612.5,459.6 612.8,459.8 613.6,460.6" fill="#2b2bb0" />
<polygon points="612.3,460.6 613.1,459.8 613.4,459.6 613.7,459.8 614.5,460.6" fill="#2b2bb0" />
<polygon points="614.1,460.6 614.9,459.6 615.2,459.5 615.5,459.6 616.3,460.6" fill="#2b2bb0" />
<polygon points="616.6,460.6 617.4,460 617.7,459.8 618,460 618.8,460.6" fill="#2b2bb0" />
<polygon points="619.1,460.6 619.9,459.4 620.2,459.2 620.5,459.4 621.3,460.6" fill="#2b2bb0" />
<polygon points="619.9,460.6 620.7,459.7 621,459.6 621.3,459.7 622.1,460.6" fill="#2b2bb0" />
<polygon points="622.3,460.6 623.1,459.3 623.4,459.1 623.7,459.3 624.5,460.6" fill="#2b2bb0" />
<polygon points="625.1,460.6 625.9,460 626.2,459.9 626.5,460 627.3,460.6" fill="#2b2bb0" />
<polygon points="626.3,460.6 627.1,460.1 627.4,460 627.7,460.1 628.5,460.6" fill="#2b2bb0" />
<polygon points="629.4,460.6 630.2,460 630.5,459.8 630.8,460 631.6,460.6" fill="#2b2bb0" />
<polygon points="630.8,460.6 631.6,459.8 631.9,459.6 632.2,459.8 633,460.6" fill="#2b2bb0" />
<polygon points="632.9,460.6 633.7,459.6 634,459.5 634.3,459.6 635.1,460.6" fill="#2b2bb0" />
<polygon points="635,460.6 635.8,460.1 636.1,460.1 636.4,460.1 637.2,460.6" fill="#2b2bb0" />
<polygon points="637,460.6 637.8,460 638.1,459.8 638.4,460 639.2,460.6" fill="#2b2bb0" />
<polygon points="638.7,460.6 639.5,459.9 639.8,459.8 640.1,459.9 640.9,460.6" fill="#2b2bb0" />
<polygon points="640.3,460.6 641.1,459.7 641.4,459.6 641.7,459.7 642.5,460.6" fill="#2b2bb0" />
<polygon points="642.6,460.6 643.4,459.9 643.7,459.8 644,459.9 644.8,460.6" fill="#2b2bb0" />
<polygon points="645,460.6 645.8,459.7 646.1,459.5 646.4,459.7 647.2,460.6" fill="#2b2bb0" />
<polygon points="646,460.6 646.8,460 647.1,459.9 647.4,460 648.2,460.6" fill="#2b2bb0" />
<polygon points="420.8,460.6 420.8,460.5 421.3,460.4 421.8,460 422.4,459.4 422.9,458.6 423.5,457.9 424,457.6 424.5,457.9 425.1,458.6 425.6,459.4 426.2,460 426.7,460.4 427.2,460.5 427.2,460.6" fill="#2b2bb0" />
<polygon points="454.8,460.6 454.8,460.5 455.3,460.4 455.8,460.1 456.4,459.6 456.9,458.9 457.5,458.3 458,458.1 458.5,458.3 459.1,458.9 459.6,459.6 460.2,460.1 460.7,460.4 461.2,460.5 461.2,460.6" fill="#2b2bb0" />
<polygon points="606.2,460.6 606.2,460.5 606.8,460.3 607.3,459.8 607.9,459 608.4,458 609,457 609.5,456.6 610,457 610.6,458 611.1,459 611.7,459.8 612.2,460.3 612.8,460.5 612.8,460.6" fill="#2b2bb0" />
<polygon points="621,460.6 621,460.3 621.6,459.8 622.1,458.6 622.7,456.5 623.2,453.7 623.8,451.1 624.3,450.1 624.8,451.1 625.4,453.7 625.9,456.5 626.5,458.6 627,459.8 627.5,460.3 627.5,460.6" fill="#2b2bb0" />
<polygon points="593.8,460.6 595.4,459.3 596,459.1 596.6,459.3 598.2,460.6" fill="#2b2bb0" />
<polygon points="448.1,473.9 448.1,473.8 448.8,473.6 449.4,473.1 450.1,472.3 450.7,471.3 451.4,470.3 452,469.9 452.6,470.3 453.3,471.3 453.9,472.3 454.6,473.1 455.2,473.6 455.9,473.8 455.9,473.9" fill="#c040c8" />
<polygon points="462.7,473.9 465.1,472.6 466,472.4 466.9,472.6 469.3,473.9" fill="#c040c8" />
<polygon points="499.9,473.9 501.9,472.6 502.7,472.4 503.4,472.6 505.4,473.9" fill="#c040c8" />
<polygon points="606,473.9 606,473.7 606.7,473.4 607.5,472.7 608.2,471.3 609,469.6 609.7,468 610.5,467.4 611.3,468 612,469.6 612.8,471.3 613.5,472.7 614.3,473.4 615,473.7 615,473.9" fill="#c040c8" />
<polygon points="622.7,473.9 625.1,472.9 626,472.7 626.9,472.9 629.3,473.9" fill="#c040c8" />
<polygon points="342.6,473.9 345.8,473.2 347,473.1 348.2,473.2 351.4,473.9" fill="#c040c8" />
<polygon points="449.8,487.4 451.4,486.4 452,486.2 452.6,486.4 454.2,487.4" fill="#c040c8" />
<polygon points="463.8,487.4 465.4,486.5 466,486.4 466.6,486.5 468.2,487.4" fill="#c040c8" />
<polygon points="500.5,487.4 502.1,486.7 502.7,486.6 503.3,486.7 504.9,487.4" fill="#c040c8" />
<polygon points="607.2,487.4 609.6,486.1 610.5,485.9 611.4,486.1 613.8,487.4" fill="#c040c8" />
<polygon points="623.8,487.4 625.4,486.7 626,486.6 626.6,486.7 628.2,487.4" fill="#c040c8" />
<polygon points="447.1,501.2 447.1,501 447.9,500.5 448.7,499.5 449.4,497.6 450.2,495.2 450.9,493.1 451.7,492.2 452.5,493.1 453.2,495.2 454,497.6 454.7,499.5 455.5,500.5 456.2,501 456.2,501.2" fill="#7ee61e" />
<polygon points="462.1,501.2 462.1,501 463,500.6 463.8,499.6 464.7,497.8 465.6,495.6 466.4,493.5 467.3,492.7 468.2,493.5 469,495.6 469.9,497.8 470.8,499.6 471.6,500.6 472.5,501 472.5,501.2" fill="#7ee61e" />
<polygon points="363.7,501.2 366.1,499.9 367,499.7 367.9,499.9 370.3,501.2" fill="#7ee61e" />
<polygon points="382.7,501.2 385.1,499.9 386,499.7 386.9,499.9 389.3,501.2" fill="#7ee61e" />
<polygon points="416.7,501.2 419.1,500.2 420,500 420.9,500.2 423.3,501.2" fill="#7ee61e" />
<polygon points="343.2,501.2 345.2,499.9 346,499.7 346.8,499.9 348.8,501.2" fill="#7ee61e" />
<polygon points="499.4,501.2 501.8,499.5 502.7,499.2 503.6,499.5 506,501.2" fill="#7ee61e" />
<polygon points="536.7,501.2 539.1,500.3 540,500.2 540.9,500.3 543.3,501.2" fill="#7ee61e" />
<polygon points="606.5,501.2 606.5,501.1 607.2,500.9 608,500.3 608.7,499.4 609.5,498.2 610.2,497.1 611,496.7 611.8,497.1 612.5,498.2 613.3,499.4 614,500.3 614.8,500.9 615.5,501.1 615.5,501.2" fill="#7ee61e" />
<polygon points="623,501.2 623,501.1 623.7,501 624.5,500.6 625.2,500 626,499.2 626.7,498.5 627.5,498.2 628.3,498.5 629,499.2 629.8,500 630.5,500.6 631.3,501 632,501.1 632,501.2" fill="#7ee61e" />
<polygon points="594.8,501.2 596.4,500.3 597,500.2 597.6,500.3 599.2,501.2" fill="#7ee61e" />
<polygon points="477.8,501.2 479.4,500.5 480,500.4 480.6,500.5 482.2,501.2" fill="#7ee61e" />
<polygon points="345,501.2 346,500.6 346.4,500.5 346.7,500.6 347.7,501.2" fill="#7ee61e" />
<polygon points="351.3,501.2 352.3,500.8 352.7,500.7 353,500.8 354,501.2" fill="#7ee61e" />
<polygon points="353.7,501.2 354.7,500.6 355,500.5 355.4,500.6 356.4,501.2" fill="#7ee61e" />
<polygon points="360,501.2 360.9,500.7 361.3,500.7 361.6,500.7 362.6,501.2" fill="#7ee61e" />
<polygon points="365.8,501.2 366.8,500.7 367.1,500.6 367.5,500.7 368.4,501.2" fill="#7ee61e" />
<polygon points="370.1,501.2 371.1,500.6 371.4,500.5 371.8,500.6 372.8,501.2" fill="#7ee61e" />
<polygon points="374.8,501.2 375.8,500.8 376.2,500.8 376.5,500.8 377.5,501.2" fill="#7ee61e" />
<polygon points="381.2,501.2 382.2,500.9 382.6,500.9 382.9,500.9 383.9,501.2" fill="#7ee61e" />
<polygon points="384.6,501.2 385.5,500.6 385.9,500.5 386.2,500.6 387.2,501.2" fill="#7ee61e" />
<polygon points="388.9,501.2 389.8,500.6 390.2,500.5 390.6,500.6 391.5,501.2" fill="#7ee61e" />
<polygon points="395.8,501.2 396.7,500.8 397.1,500.7 397.4,500.8 398.4,501.2" fill="#7ee61e" />
<polygon points="399.5,501.2 400.5,500.6 400.9,500.5 401.2,500.6 402.2,501.2" fill="#7ee61e" />
<polygon points="406.4,501.2 407.4,501 407.7,500.9 408.1,501 409.1,501.2" fill="#7ee61e" />
<polygon points="410.1,501.2 411.1,500.7 411.4,500.7 411.8,500.7 412.8,501.2" fill="#7ee61e" />
<polygon points="415.2,501.2 416.1,500.9 416.5,500.8 416.9,500.9 417.8,501.2" fill="#7ee61e" />
<polygon points="419.1,501.2 420.1,500.7 420.5,500.6 420.8,500.7 421.8,501.2" fill="#7ee61e" />
<polygon points="426.1,501.2 427.1,501 427.4,501 427.8,501 428.8,501.2" fill="#7ee61e" />
<polygon points="429.4,501.2 430.3,500.6 430.7,500.5 431.1,500.6 432,501.2" fill="#7ee61e" />
<polygon points="436.1,501.2 437,500.7 437.4,500.6 437.7,500.7 438.7,501.2" fill="#7ee61e" />
<polygon points="438.8,501.2 439.7,500.7 440.1,500.6 440.4,500.7 441.4,501.2" fill="#7ee61e" />
<polygon points="446.6,501.2 447.6,500.5 447.9,500.4 448.3,500.5 449.3,501.2" fill="#7ee61e" />
<polygon points="450.8,501.2 451.7,501 452.1,501 452.5,501 453.4,501.2" fill="#7ee61e" />
<polygon points="456.2,501.2 457.2,500.9 457.5,500.9 457.9,500.9 458.8,501.2" fill="#7ee61e" />
<polygon points="460.6,501.2 461.6,500.5 461.9,500.4 462.3,500.5 463.3,501.2" fill="#7ee61e" />
<polygon points="465.8,501.2 466.8,501 467.1,500.9 467.5,501 468.5,501.2" fill="#7ee61e" />
<polygon points="469.6,501.2 470.5,500.6 470.9,500.4 471.2,500.6 472.2,501.2" fill="#7ee61e" />
<polygon points="474.1,501.2 475.1,500.7 475.4,500.6 475.8,500.7 476.8,501.2" fill="#7ee61e" />
<polygon points="479.9,501.2 480.9,500.9 481.2,500.9 481.6,500.9 482.6,501.2" fill="#7ee61e" />
<polygon points="485.5,501.2 486.5,501 486.9,501 487.2,501 488.2,501.2" fill="#7ee61e" />
<polygon points="489,501.2 490,500.8 490.3,500.8 490.7,500.8 491.6,501.2" fill="#7ee61e" />
<polygon points="493.9,501.2 494.9,501 495.2,501 495.6,501 496.5,501.2" fill="#7ee61e" />
<polygon points="500.4,501.2 501.4,500.7 501.7,500.6 502.1,500.7 503,501.2" fill="#7ee61e" />
<polygon points="506.3,501.2 507.3,501 507.6,500.9 508,501 509,501.2" fill="#7ee61e" />
<polygon points="510,501.2 510.9,500.9 511.3,500.8 511.7,500.9 512.6,501.2" fill="#7ee61e" />
<polygon points="515.5,501.2 516.4,500.8 516.8,500.7 517.2,500.8 518.1,501.2" fill="#7ee61e" />
<polygon points="521.5,501.2 522.5,500.8 522.8,500.8 523.2,500.8 524.1,501.2" fill="#7ee61e" />
<polygon points="523.8,501.2 524.8,500.7 525.2,500.6 525.5,500.7 526.5,501.2" fill="#7ee61e" />
<polygon points="529.1,501.2 530.1,500.7 530.5,500.6 530.8,500.7 531.8,501.2" fill="#7ee61e" />
<polygon points="535.2,501.2 536.2,500.6 536.5,500.5 536.9,500.6 537.8,501.2" fill="#7ee61e" />
<polygon points="540.3,501.2 541.3,500.7 541.7,500.6 542,500.7 543,501.2" fill="#7ee61e" />
<polygon points="544.5,501.2 545.4,500.7 545.8,500.7 546.1,500.7 547.1,501.2" fill="#7ee61e" />
<polygon points="549.4,501.2 550.4,500.6 550.8,500.5 551.1,500.6 552.1,501.2" fill="#7ee61e" />
<polygon points="555.2,501.2 556.2,501 556.6,500.9 556.9,501 557.9,501.2" fill="#7ee61e" />
<polygon points="559.4,501.2 560.3,500.8 560.7,500.8 561.1,500.8 562,501.2" fill="#7ee61e" />
<polygon points="565.9,501.2 566.9,500.9 567.2,500.9 567.6,500.9 568.5,501.2" fill="#7ee61e" />
<polygon points="570.8,501.2 571.8,500.7 572.1,500.6 572.5,500.7 573.5,501.2" fill="#7ee61e" />
<polygon points="573.9,501.2 574.9,500.7 575.3,500.6 575.6,500.7 576.6,501.2" fill="#7ee61e" />
<polygon points="579,501.2 579.9,501 580.3,500.9 580.6,501 581.6,501.2" fill="#7ee61e" />
<polygon points="585.5,501.2 586.4,500.9 586.8,500.9 587.1,500.9 588.1,501.2" fill="#7ee61e" />
<polygon points="591.3,501.2 592.3,500.8 592.6,500.7 593,500.8 594,501.2" fill="#7ee61e" />
<polygon points="594.6,501.2 595.6,500.6 596,500.5 596.3,500.6 597.3,501.2" fill="#7ee61e" />
<polygon points="598.8,501.2 599.7,500.7 600.1,500.6 600.4,500.7 601.4,501.2" fill="#7ee61e" />
<polygon points="603.8,501.2 604.8,501 605.2,500.9 605.5,501 606.5,501.2" fill="#7ee61e" />
<polygon points="611.5,501.2 612.5,500.7 612.9,500.6 613.2,500.7 614.2,501.2" fill="#7ee61e" />
<polygon points="614.3,501.2 615.3,501 615.7,500.9 616,501 617,501.2" fill="#7ee61e" />
<polygon points="621.6,501.2 622.6,500.7 622.9,500.6 623.3,500.7 624.2,501.2" fill="#7ee61e" />
<polygon points="626.1,501.2 627.1,501 627.5,500.9 627.8,501 628.8,501.2" fill="#7ee61e" />
<polygon points="630.6,501.2 631.5,500.8 631.9,500.8 632.2,500.8 633.2,501.2" fill="#7ee61e" />
<polygon points="634.4,501.2 635.3,500.9 635.7,500.8 636.1,500.9 637,501.2" fill="#7ee61e" />
<polygon points="640.5,501.2 641.5,500.9 641.8,500.8 642.2,500.9 643.2,501.2" fill="#7ee61e" />
<polygon points="644.8,501.2 645.8,501 646.2,500.9 646.5,501 647.5,501.2" fill="#7ee61e" />
<rect x="367.6" y="511.8" width="7" height="3" fill="#7ee61e"/>
<rect x="379.3" y="512.8" width="4.7" height="2" fill="#7ee61e"/>
<rect x="430.7" y="509.3" width="2.8" height="5.5" fill="#7ee61e"/>
<rect x="420.6" y="513.3" width="1.5" height="1.5" fill="#7ee61e"/>
<rect x="452" y="513.3" width="3" height="1.5" fill="#7ee61e"/>
<rect x="461.5" y="513.3" width="2" height="1.5" fill="#7ee61e"/>
<rect x="468" y="513.3" width="2" height="1.5" fill="#7ee61e"/>
<rect x="472.7" y="513.3" width="2" height="1.5" fill="#7ee61e"/>
<rect x="511.9" y="513.3" width="8" height="1.5" fill="#7ee61e"/>
<rect x="542" y="513.8" width="2" height="1" fill="#7ee61e"/>
<rect x="555" y="513.8" width="2" height="1" fill="#7ee61e"/>
<rect x="571.7" y="513.3" width="4" height="1.5" fill="#7ee61e"/>
<rect x="599.6" y="513.3" width="4" height="1.5" fill="#7ee61e"/>
<rect x="612" y="513.6" width="3" height="1.2" fill="#7ee61e"/>
<rect x="620" y="513.6" width="3" height="1.2" fill="#7ee61e"/>
<rect x="627" y="513.8" width="2" height="1" fill="#7ee61e"/>
<rect x="644" y="513.8" width="2" height="1" fill="#7ee61e"/>
<rect x="345" y="513.8" width="4" height="1" fill="#7ee61e"/>
<line x1="342.8" y1="460.27" x2="648.2" y2="460.27" stroke="#2b2bb0" stroke-width="1.0" />
<line x1="342.8" y1="529.3" x2="648.2" y2="529.3" stroke="#b4b4b4" stroke-width="0.9" />
<line x1="342.8" y1="531.1" x2="648.2" y2="531.1" stroke="#b4b4b4" stroke-width="0.9" />
<text x="341.2" y="456.9" font-size="10.15" text-anchor="end" stroke="#000" stroke-width="0.25">FOXA2</text>
<text x="341.2" y="470.7" font-size="10.15" text-anchor="end" stroke="#000" stroke-width="0.25">JUN (siNTC)</text>
<text x="341.2" y="484.2" font-size="10.15" text-anchor="end" stroke="#000" stroke-width="0.25">JUN (siFOXA2)</text>
<text x="341.2" y="498" font-size="10.15" text-anchor="end" stroke="#000" stroke-width="0.25">FOSL1 (siNTC)</text>
<text x="341.2" y="511.5" font-size="10.15" text-anchor="end" stroke="#000" stroke-width="0.25">FOSL1 (siFOXA2)</text>
<text x="341.2" y="525" font-size="10.15" text-anchor="end" stroke="#000" stroke-width="0.25">H3K27ac</text>
<polygon points="342.8,528.1 343,525.8 350,526.2 360,526.4 380,526.5 395,526.4 402,525.3 408,523.5 414.8,521.4 418.3,520.9 421,522.5 424.6,525.6 428.8,522 431,523.5 433.5,526 438.1,522.5 442.8,525 446.3,523 449.8,522.5 453.3,525 456,520.5 459.2,517.1 461.5,519 463.8,522 465.5,528.1 470,527.6 488,527.4 492,526 497,525.2 502,525.4 507,526 512,527.3 520,527.7 560,527.5 575,527 585,526 592,525 598,523.5 602,522.5 605,521.5 608,523 611,522 614,523.5 617,521 620,522.5 623,521 627,522.5 630,522 633,523.5 638,525 643,526 648.2,526.5 648.2,528.1" fill="#a50f0f" />
<line x1="351.7" y1="535.3" x2="466.2" y2="535.3" stroke="#2d2dcc" stroke-width="0.9" />
<rect x="343" y="533.5" width="8.5" height="3.6" fill="#2d2dcc"/>
<rect x="358.2" y="534" width="9.5" height="2.6" fill="#2d2dcc"/>
<rect x="367.6" y="533.1" width="5.2" height="4.4" fill="#2d2dcc"/>
<polyline points="375,534 376.5,535.3 375,536.6" fill="none" stroke="#2d2dcc" stroke-width="0.6" stroke-linejoin="round" />
<polyline points="384,534 385.5,535.3 384,536.6" fill="none" stroke="#2d2dcc" stroke-width="0.6" stroke-linejoin="round" />
<polyline points="393,534 394.5,535.3 393,536.6" fill="none" stroke="#2d2dcc" stroke-width="0.6" stroke-linejoin="round" />
<polyline points="402,534 403.5,535.3 402,536.6" fill="none" stroke="#2d2dcc" stroke-width="0.6" stroke-linejoin="round" />
<polyline points="411,534 412.5,535.3 411,536.6" fill="none" stroke="#2d2dcc" stroke-width="0.6" stroke-linejoin="round" />
<polyline points="420,534 421.5,535.3 420,536.6" fill="none" stroke="#2d2dcc" stroke-width="0.6" stroke-linejoin="round" />
<polyline points="429,534 430.5,535.3 429,536.6" fill="none" stroke="#2d2dcc" stroke-width="0.6" stroke-linejoin="round" />
<polyline points="438,534 439.5,535.3 438,536.6" fill="none" stroke="#2d2dcc" stroke-width="0.6" stroke-linejoin="round" />
<polyline points="447,534 448.5,535.3 447,536.6" fill="none" stroke="#2d2dcc" stroke-width="0.6" stroke-linejoin="round" />
<polyline points="456,534 457.5,535.3 456,536.6" fill="none" stroke="#2d2dcc" stroke-width="0.6" stroke-linejoin="round" />
<polygon points="462,533 467,535.3 462,537.6" fill="#2d2dcc" />
<line x1="342.8" y1="533.1" x2="342.8" y2="537.5" stroke="#2d2dcc" stroke-width="0.6" />
<text x="414" y="546.8" font-size="12.7" stroke="#000" stroke-width="0.25" font-style="italic">FOSL1</text>
<rect x="599.6" y="440.4" width="33.9" height="98.5" fill="#ffc121" fill-opacity="0.47"/>
<text x="614.5" y="547.1" font-size="13.4" text-anchor="middle" stroke="#000" stroke-width="0.25">SE</text>
<rect x="342.3" y="651.4" width="305" height="6.6" fill="#f8f8f8"/>
<rect x="342.3" y="567.5" width="305" height="83.9" fill="#f6f6f6"/>
<line x1="342.3" y1="567.5" x2="342.3" y2="651.4" stroke="#bdbdbd" stroke-width="0.8" />
<line x1="342.3" y1="580.3" x2="647.3" y2="580.3" stroke="#c8c8c8" stroke-width="0.6" />
<text x="344.3" y="571.8" font-size="2.6" fill="#555">[0 - 1.00]</text>
<line x1="342.3" y1="593.9" x2="647.3" y2="593.9" stroke="#c8c8c8" stroke-width="0.6" />
<text x="344.3" y="584.6" font-size="2.6" fill="#555">[0 - 1.00]</text>
<line x1="342.3" y1="607.4" x2="647.3" y2="607.4" stroke="#c8c8c8" stroke-width="0.6" />
<text x="344.3" y="598.2" font-size="2.6" fill="#555">[0 - 1.00]</text>
<line x1="342.3" y1="621.2" x2="647.3" y2="621.2" stroke="#c8c8c8" stroke-width="0.6" />
<text x="344.3" y="611.7" font-size="2.6" fill="#555">[0 - 1.00]</text>
<line x1="342.3" y1="634.8" x2="647.3" y2="634.8" stroke="#c8c8c8" stroke-width="0.6" />
<text x="344.3" y="625.5" font-size="2.6" fill="#555">[0 - 1.00]</text>
<line x1="342.3" y1="648.3" x2="647.3" y2="648.3" stroke="#c8c8c8" stroke-width="0.6" />
<text x="344.3" y="639.1" font-size="2.6" fill="#555">[0 - 1.00]</text>
<polygon points="403.4,580.3 404.2,579.8 404.5,579.7 404.8,579.8 405.6,580.3" fill="#2b2bb0" />
<polygon points="409.3,580.3 410.1,579.9 410.4,579.8 410.7,579.9 411.5,580.3" fill="#2b2bb0" />
<polygon points="415.5,580.3 416.3,579.9 416.6,579.8 416.9,579.9 417.7,580.3" fill="#2b2bb0" />
<polygon points="420.7,580.3 421.5,579.8 421.8,579.8 422.1,579.8 422.9,580.3" fill="#2b2bb0" />
<polygon points="427.1,580.3 427.9,579.9 428.2,579.9 428.5,579.9 429.3,580.3" fill="#2b2bb0" />
<polygon points="431.2,580.3 432,580.1 432.3,580.1 432.6,580.1 433.4,580.3" fill="#2b2bb0" />
<polygon points="437.5,580.3 438.3,580.1 438.6,580.1 438.9,580.1 439.7,580.3" fill="#2b2bb0" />
<polygon points="445.6,580.3 446.4,579.9 446.7,579.8 447,579.9 447.8,580.3" fill="#2b2bb0" />
<polygon points="451.2,580.3 452,580.1 452.3,580.1 452.6,580.1 453.4,580.3" fill="#2b2bb0" />
<polygon points="456.3,580.3 457.1,579.7 457.4,579.6 457.7,579.7 458.5,580.3" fill="#2b2bb0" />
<polygon points="462.8,580.3 463.6,579.9 463.9,579.8 464.2,579.9 465,580.3" fill="#2b2bb0" />
<polygon points="468.3,580.3 469.1,580.1 469.4,580 469.7,580.1 470.5,580.3" fill="#2b2bb0" />
<polygon points="473.4,580.3 474.2,580 474.5,580 474.8,580 475.6,580.3" fill="#2b2bb0" />
<polygon points="480,580.3 480.8,579.9 481.1,579.9 481.4,579.9 482.2,580.3" fill="#2b2bb0" />
<polygon points="487.5,580.3 488.3,580.1 488.6,580 488.9,580.1 489.7,580.3" fill="#2b2bb0" />
<polygon points="491.7,580.3 492.5,580 492.8,579.9 493.1,580 493.9,580.3" fill="#2b2bb0" />
<polygon points="497.4,580.3 498.2,580 498.5,579.9 498.8,580 499.6,580.3" fill="#2b2bb0" />
<polygon points="503.6,580.3 504.4,579.9 504.7,579.8 505,579.9 505.8,580.3" fill="#2b2bb0" />
<polygon points="509,580.3 509.8,579.7 510.1,579.5 510.4,579.7 511.2,580.3" fill="#2b2bb0" />
<polygon points="516,580.3 516.8,579.7 517.1,579.5 517.4,579.7 518.2,580.3" fill="#2b2bb0" />
<polygon points="523,580.3 523.8,579.8 524.1,579.7 524.4,579.8 525.2,580.3" fill="#2b2bb0" />
<polygon points="528.3,580.3 529.1,579.6 529.4,579.5 529.7,579.6 530.5,580.3" fill="#2b2bb0" />
<polygon points="533.3,580.3 534.1,579.8 534.4,579.7 534.7,579.8 535.5,580.3" fill="#2b2bb0" />
<polygon points="539.8,580.3 540.6,579.8 540.9,579.7 541.2,579.8 542,580.3" fill="#2b2bb0" />
<polygon points="547.1,580.3 547.9,580 548.2,580 548.5,580 549.3,580.3" fill="#2b2bb0" />
<polygon points="551.5,580.3 552.3,580.1 552.6,580.1 552.9,580.1 553.7,580.3" fill="#2b2bb0" />
<polygon points="557.6,580.3 558.4,580.1 558.7,580.1 559,580.1 559.8,580.3" fill="#2b2bb0" />
<polygon points="564.1,580.3 564.9,579.6 565.2,579.5 565.5,579.6 566.3,580.3" fill="#2b2bb0" />
<polygon points="570,580.3 570.8,580 571.1,579.9 571.4,580 572.2,580.3" fill="#2b2bb0" />
<polygon points="576.3,580.3 577.1,580 577.4,579.9 577.7,580 578.5,580.3" fill="#2b2bb0" />
<polygon points="583.1,580.3 583.9,579.8 584.2,579.7 584.5,579.8 585.3,580.3" fill="#2b2bb0" />
<polygon points="587.4,580.3 588.2,580 588.5,580 588.8,580 589.6,580.3" fill="#2b2bb0" />
<polygon points="594.9,580.3 595.7,579.7 596,579.5 596.3,579.7 597.1,580.3" fill="#2b2bb0" />
<polygon points="600.8,580.3 601.6,579.9 601.9,579.8 602.2,579.9 603,580.3" fill="#2b2bb0" />
<polygon points="607.8,580.3 608.6,580.1 608.9,580.1 609.2,580.1 610,580.3" fill="#2b2bb0" />
<polygon points="611.1,580.3 611.9,579.7 612.2,579.6 612.5,579.7 613.3,580.3" fill="#2b2bb0" />
<polygon points="618.1,580.3 618.9,580.1 619.2,580.1 619.5,580.1 620.3,580.3" fill="#2b2bb0" />
<polygon points="624.5,580.3 625.3,579.6 625.6,579.5 625.9,579.6 626.7,580.3" fill="#2b2bb0" />
<polygon points="630.5,580.3 631.3,580 631.6,579.9 631.9,580 632.7,580.3" fill="#2b2bb0" />
<polygon points="635.2,580.3 636,580.1 636.3,580.1 636.6,580.1 637.4,580.3" fill="#2b2bb0" />
<polygon points="643.6,580.3 644.4,579.9 644.7,579.8 645,579.9 645.8,580.3" fill="#2b2bb0" />
<polygon points="469.3,580.3 470.9,579 471.5,578.8 472.1,579 473.7,580.3" fill="#2b2bb0" />
<polygon points="547.2,580.3 548.8,579 549.4,578.8 550,579 551.6,580.3" fill="#2b2bb0" />
<polygon points="612.7,580.3 612.7,580 613,579.5 613.4,578.2 613.8,576 614.2,573 614.6,570.4 615,569.3 615.4,570.4 615.8,573 616.2,576 616.6,578.2 617,579.5 617.3,580 617.3,580.3" fill="#2b2bb0" />
<polygon points="619.7,580.3 619.7,580.2 620,580.1 620.4,579.8 620.8,579.3 621.2,578.6 621.6,578 622,577.8 622.4,578 622.8,578.6 623.2,579.3 623.6,579.8 624,580.1 624.3,580.2 624.3,580.3" fill="#2b2bb0" />
<polygon points="409.8,580.3 411.4,579.6 412,579.5 412.6,579.6 414.2,580.3" fill="#2b2bb0" />
<polygon points="415,593.9 415,593.8 415.4,593.6 415.9,593.2 416.3,592.5 416.7,591.6 417.2,590.7 417.6,590.4 418,590.7 418.5,591.6 418.9,592.5 419.3,593.2 419.8,593.6 420.2,593.8 420.2,593.9" fill="#c040c8" />
<polygon points="469.4,593.9 469.4,593.8 469.8,593.6 470.3,593 470.7,592.1 471.1,590.9 471.6,589.8 472,589.4 472.4,589.8 472.9,590.9 473.3,592.1 473.7,593 474.2,593.6 474.6,593.8 474.6,593.9" fill="#c040c8" />
<polygon points="547.2,593.9 548.8,592.6 549.4,592.4 550,592.6 551.6,593.9" fill="#c040c8" />
<polygon points="613.3,593.9 613.3,593.8 613.7,593.6 614,593 614.4,592.1 614.7,590.9 615.1,589.8 615.4,589.4 615.7,589.8 616.1,590.9 616.4,592.1 616.8,593 617.1,593.6 617.5,593.8 617.5,593.9" fill="#c040c8" />
<polygon points="619.7,593.9 619.7,593.6 620,593 620.4,591.6 620.8,589.2 621.2,586 621.6,583.1 622,581.9 622.4,583.1 622.8,586 623.2,589.2 623.6,591.6 624,593 624.3,593.6 624.3,593.9" fill="#c040c8" />
<polygon points="422.8,593.9 424.4,593.2 425,593.1 425.6,593.2 427.2,593.9" fill="#c040c8" />
<polygon points="427.8,593.9 429.4,593.4 430,593.3 430.6,593.4 432.2,593.9" fill="#c040c8" />
<polygon points="443.8,593.9 445.4,593.4 446,593.3 446.6,593.4 448.2,593.9" fill="#c040c8" />
<polygon points="527.8,593.9 529.4,593.4 530,593.3 530.6,593.4 532.2,593.9" fill="#c040c8" />
<polygon points="638.8,593.9 640.4,593.2 641,593.1 641.6,593.2 643.2,593.9" fill="#c040c8" />
<polygon points="642.8,593.9 644.4,593.4 645,593.3 645.6,593.4 647.2,593.9" fill="#c040c8" />
<polygon points="415.8,607.4 417.1,606.1 417.6,605.9 418.1,606.1 419.4,607.4" fill="#c040c8" />
<polygon points="547.6,607.4 548.9,606.1 549.4,605.9 549.9,606.1 551.2,607.4" fill="#c040c8" />
<polygon points="619.9,607.4 619.9,607.3 620.3,607 620.6,606.5 621,605.5 621.3,604.2 621.7,603.1 622,602.6 622.3,603.1 622.7,604.2 623,605.5 623.4,606.5 623.7,607 624.1,607.3 624.1,607.4" fill="#c040c8" />
<polygon points="427.8,607.4 429.4,607 430,606.9 430.6,607 432.2,607.4" fill="#c040c8" />
<polygon points="438.8,607.4 440.4,607 441,606.9 441.6,607 443.2,607.4" fill="#c040c8" />
<polygon points="467.8,607.4 469.4,607 470,606.9 470.6,607 472.2,607.4" fill="#c040c8" />
<polygon points="497.8,607.4 499.4,607 500,606.9 500.6,607 502.2,607.4" fill="#c040c8" />
<polygon points="597.8,607.4 599.4,607 600,606.9 600.6,607 602.2,607.4" fill="#c040c8" />
<polygon points="637.8,607.4 639.4,607 640,606.9 640.6,607 642.2,607.4" fill="#c040c8" />
<polygon points="343.8,621.2 344.2,620.6 344.4,620.4 344.5,620.6 344.9,621.2" fill="#7ee61e" />
<polygon points="344,634.8 344.4,634.4 344.6,634.4 344.7,634.4 345.1,634.8" fill="#7ee61e" />
<polygon points="345.9,621.2 346.3,621 346.5,620.9 346.6,621 347,621.2" fill="#7ee61e" />
<polygon points="345.4,634.8 345.4,634.7 345.5,634.6 345.6,634.4 345.7,633.9 345.8,633.3 345.9,632.7 346.1,632.5 346.2,632.7 346.3,633.3 346.4,633.9 346.5,634.4 346.6,634.6 346.7,634.7 346.7,634.8" fill="#7ee61e" />
<polygon points="348.1,621.2 348.5,621 348.6,621 348.8,621 349.2,621.2" fill="#7ee61e" />
<polygon points="347.6,634.8 348,634 348.1,633.8 348.3,634 348.7,634.8" fill="#7ee61e" />
<polygon points="350.8,621.2 351.2,621.1 351.4,621 351.5,621.1 351.9,621.2" fill="#7ee61e" />
<polygon points="350.7,634.8 351.1,634.2 351.3,634 351.4,634.2 351.8,634.8" fill="#7ee61e" />
<polygon points="352.2,621.2 352.6,621.1 352.7,621.1 352.9,621.1 353.3,621.2" fill="#7ee61e" />
<polygon points="352,634.8 352.4,633.4 352.6,633.2 352.7,633.4 353.1,634.8" fill="#7ee61e" />
<polygon points="354.1,634.8 354.5,633.1 354.7,632.8 354.8,633.1 355.2,634.8" fill="#7ee61e" />
<polygon points="355.9,621.2 356.3,621 356.5,620.9 356.6,621 357,621.2" fill="#7ee61e" />
<polygon points="356.6,634.8 357,633.1 357.2,632.8 357.3,633.1 357.7,634.8" fill="#7ee61e" />
<polygon points="357.6,621.2 358,620.9 358.1,620.9 358.3,620.9 358.7,621.2" fill="#7ee61e" />
<polygon points="357.6,634.8 358,633.8 358.1,633.6 358.3,633.8 358.7,634.8" fill="#7ee61e" />
<polygon points="359.5,621.2 359.9,620.8 360.1,620.7 360.2,620.8 360.6,621.2" fill="#7ee61e" />
<polygon points="361.9,621.2 362.3,621.1 362.4,621.1 362.6,621.1 363,621.2" fill="#7ee61e" />
<polygon points="361.6,634.8 362,633.8 362.1,633.6 362.3,633.8 362.7,634.8" fill="#7ee61e" />
<polygon points="364.8,634.8 365.2,633.4 365.3,633.1 365.5,633.4 365.9,634.8" fill="#7ee61e" />
<polygon points="366.1,621.2 366.5,620.7 366.7,620.6 366.8,620.7 367.2,621.2" fill="#7ee61e" />
<polygon points="370.7,621.2 371.1,620.7 371.2,620.6 371.4,620.7 371.8,621.2" fill="#7ee61e" />
<polygon points="369.6,634.8 370,634.4 370.2,634.4 370.3,634.4 370.7,634.8" fill="#7ee61e" />
<polygon points="372.5,621.2 372.9,621 373,621 373.2,621 373.6,621.2" fill="#7ee61e" />
<polygon points="371.5,634.8 371.9,633.2 372.1,632.9 372.2,633.2 372.6,634.8" fill="#7ee61e" />
<polygon points="373.5,621.2 373.9,620.8 374.1,620.7 374.2,620.8 374.6,621.2" fill="#7ee61e" />
<polygon points="374,634.8 374.4,633 374.5,632.7 374.7,633 375.1,634.8" fill="#7ee61e" />
<polygon points="375.8,621.2 376.2,620.6 376.3,620.4 376.5,620.6 376.9,621.2" fill="#7ee61e" />
<polygon points="376,634.8 376.4,634 376.5,633.8 376.7,634 377.1,634.8" fill="#7ee61e" />
<polygon points="378.7,621.2 379.1,621.1 379.2,621.1 379.4,621.1 379.8,621.2" fill="#7ee61e" />
<polygon points="379.7,621.2 380.1,621.1 380.3,621 380.4,621.1 380.8,621.2" fill="#7ee61e" />
<polygon points="384.8,621.2 385.2,621 385.4,621 385.5,621 385.9,621.2" fill="#7ee61e" />
<polygon points="384.1,634.8 384.5,633.8 384.7,633.6 384.8,633.8 385.2,634.8" fill="#7ee61e" />
<polygon points="386.9,634.8 387.3,633.5 387.5,633.2 387.6,633.5 388,634.8" fill="#7ee61e" />
<polygon points="387.4,634.8 387.4,634.7 387.5,634.6 387.6,634.3 387.8,633.9 387.9,633.2 388,632.7 388.1,632.4 388.2,632.7 388.3,633.2 388.4,633.9 388.5,634.3 388.6,634.6 388.7,634.7 388.7,634.8" fill="#7ee61e" />
<polygon points="390.2,621.2 390.6,621.1 390.7,621.1 390.9,621.1 391.3,621.2" fill="#7ee61e" />
<polygon points="391.9,621.2 392.3,620.9 392.4,620.8 392.6,620.9 393,621.2" fill="#7ee61e" />
<polygon points="392.3,634.8 392.7,633.9 392.8,633.8 393,633.9 393.4,634.8" fill="#7ee61e" />
<polygon points="394,621.2 394.4,620.7 394.5,620.6 394.7,620.7 395.1,621.2" fill="#7ee61e" />
<polygon points="394.9,634.8 395.3,633 395.5,632.7 395.6,633 396,634.8" fill="#7ee61e" />
<polygon points="396.1,621.2 396.5,620.6 396.6,620.5 396.8,620.6 397.2,621.2" fill="#7ee61e" />
<polygon points="396.7,634.8 397.1,633.7 397.2,633.5 397.4,633.7 397.8,634.8" fill="#7ee61e" />
<polygon points="397.6,621.2 398,621.1 398.1,621.1 398.3,621.1 398.7,621.2" fill="#7ee61e" />
<polygon points="400.6,621.2 401,620.6 401.2,620.5 401.3,620.6 401.7,621.2" fill="#7ee61e" />
<polygon points="400.5,634.8 400.9,633 401,632.7 401.2,633 401.6,634.8" fill="#7ee61e" />
<polygon points="401.5,634.8 401.9,633.6 402,633.4 402.2,633.6 402.6,634.8" fill="#7ee61e" />
<polygon points="404,621.2 404.4,620 404.6,619.8 404.7,620 405.1,621.2" fill="#7ee61e" />
<polygon points="403.5,634.8 403.9,634 404,633.8 404.2,634 404.6,634.8" fill="#7ee61e" />
<polygon points="406.5,621.2 406.9,620.3 407.1,620.2 407.2,620.3 407.6,621.2" fill="#7ee61e" />
<polygon points="406.9,634.8 407.3,633.1 407.5,632.8 407.6,633.1 408,634.8" fill="#7ee61e" />
<polygon points="408.5,621.2 408.9,619.5 409,619.1 409.2,619.5 409.6,621.2" fill="#7ee61e" />
<polygon points="408.6,634.8 409,633.9 409.2,633.7 409.3,633.9 409.7,634.8" fill="#7ee61e" />
<polygon points="410.2,621.2 410.6,620 410.8,619.8 410.9,620 411.3,621.2" fill="#7ee61e" />
<polygon points="409.6,634.8 410,634.4 410.1,634.3 410.3,634.4 410.7,634.8" fill="#7ee61e" />
<polygon points="412.6,621.2 413,620.4 413.1,620.2 413.3,620.4 413.7,621.2" fill="#7ee61e" />
<polygon points="414.5,634.8 414.9,634.4 415.1,634.3 415.2,634.4 415.6,634.8" fill="#7ee61e" />
<polygon points="416.9,621.2 417.3,619.7 417.4,619.5 417.6,619.7 418,621.2" fill="#7ee61e" />
<polygon points="420.2,621.2 420.6,620 420.8,619.7 420.9,620 421.3,621.2" fill="#7ee61e" />
<polygon points="422,634.8 422.4,634.5 422.6,634.5 422.7,634.5 423.1,634.8" fill="#7ee61e" />
<polygon points="424.4,621.2 424.8,620.3 425,620.2 425.1,620.3 425.5,621.2" fill="#7ee61e" />
<polygon points="426,621.2 426.4,619.5 426.6,619.2 426.7,619.5 427.1,621.2" fill="#7ee61e" />
<polygon points="426.5,634.8 426.9,633.6 427,633.3 427.2,633.6 427.6,634.8" fill="#7ee61e" />
<polygon points="428.8,621.2 429.2,619.8 429.3,619.5 429.5,619.8 429.9,621.2" fill="#7ee61e" />
<polygon points="427.9,634.8 428.3,634.1 428.5,633.9 428.6,634.1 429,634.8" fill="#7ee61e" />
<polygon points="430.4,634.8 430.8,633.2 430.9,632.9 431.1,633.2 431.5,634.8" fill="#7ee61e" />
<polygon points="432.3,621.2 432.7,620.6 432.8,620.5 433,620.6 433.4,621.2" fill="#7ee61e" />
<polygon points="434.1,634.8 434.5,633.6 434.6,633.4 434.8,633.6 435.2,634.8" fill="#7ee61e" />
<polygon points="435.9,621.2 436.3,619.5 436.4,619.2 436.6,619.5 437,621.2" fill="#7ee61e" />
<polygon points="437.5,621.2 437.9,619.4 438,619.1 438.2,619.4 438.6,621.2" fill="#7ee61e" />
<polygon points="438.3,634.8 438.7,633.5 438.8,633.2 439,633.5 439.4,634.8" fill="#7ee61e" />
<polygon points="440.3,621.2 440.7,620.6 440.9,620.6 441,620.6 441.4,621.2" fill="#7ee61e" />
<polygon points="442.2,634.8 442.6,633.1 442.7,632.7 442.9,633.1 443.3,634.8" fill="#7ee61e" />
<polygon points="444.7,621.2 445.1,619.4 445.3,619.1 445.4,619.4 445.8,621.2" fill="#7ee61e" />
<polygon points="446.5,621.2 446.9,619.4 447,619.1 447.2,619.4 447.6,621.2" fill="#7ee61e" />
<polygon points="447.7,621.2 448.1,620.2 448.3,620 448.4,620.2 448.8,621.2" fill="#7ee61e" />
<polygon points="447.6,634.8 448,634.3 448.1,634.2 448.3,634.3 448.7,634.8" fill="#7ee61e" />
<polygon points="450.6,621.2 451,620 451.1,619.7 451.3,620 451.7,621.2" fill="#7ee61e" />
<polygon points="455.6,621.2 456,619.4 456.2,619.1 456.3,619.4 456.7,621.2" fill="#7ee61e" />
<polygon points="455.8,634.8 456.2,633.9 456.3,633.7 456.5,633.9 456.9,634.8" fill="#7ee61e" />
<polygon points="458.6,621.2 459,620.2 459.1,620 459.3,620.2 459.7,621.2" fill="#7ee61e" />
<polygon points="458.1,634.8 458.5,633.6 458.6,633.4 458.8,633.6 459.2,634.8" fill="#7ee61e" />
<polygon points="460.3,621.2 460.7,620.3 460.9,620.2 461,620.3 461.4,621.2" fill="#7ee61e" />
<polygon points="460.5,634.8 460.9,633.7 461,633.5 461.2,633.7 461.6,634.8" fill="#7ee61e" />
<polygon points="462.6,634.8 463,633.3 463.1,633 463.3,633.3 463.7,634.8" fill="#7ee61e" />
<polygon points="464.2,621.2 464.6,620.5 464.7,620.3 464.9,620.5 465.3,621.2" fill="#7ee61e" />
<polygon points="464.5,634.8 464.5,634.7 464.6,634.6 464.7,634.4 464.8,633.9 464.9,633.3 465,632.8 465.1,632.6 465.2,632.8 465.3,633.3 465.4,633.9 465.5,634.4 465.6,634.6 465.8,634.7 465.8,634.8" fill="#7ee61e" />
<polygon points="466.2,621.2 466.6,620.3 466.7,620.2 466.9,620.3 467.3,621.2" fill="#7ee61e" />
<polygon points="467.9,621.2 468.3,619.7 468.4,619.4 468.6,619.7 469,621.2" fill="#7ee61e" />
<polygon points="468.7,634.8 469.1,633.6 469.3,633.4 469.4,633.6 469.8,634.8" fill="#7ee61e" />
<polygon points="469.8,621.2 470.2,620.9 470.4,620.8 470.5,620.9 470.9,621.2" fill="#7ee61e" />
<polygon points="471.6,621.2 472,620.8 472.1,620.8 472.3,620.8 472.7,621.2" fill="#7ee61e" />
<polygon points="472.9,634.8 473.3,633.6 473.5,633.4 473.6,633.6 474,634.8" fill="#7ee61e" />
<polygon points="474,634.8 474.4,633.1 474.5,632.8 474.7,633.1 475.1,634.8" fill="#7ee61e" />
<polygon points="475.5,634.8 475.9,634.1 476,634 476.2,634.1 476.6,634.8" fill="#7ee61e" />
<polygon points="478.2,621.2 478.6,620.2 478.8,620 478.9,620.2 479.3,621.2" fill="#7ee61e" />
<polygon points="477.7,634.8 477.7,634.7 477.8,634.6 477.9,634.4 478,633.9 478.1,633.2 478.2,632.7 478.3,632.5 478.4,632.7 478.5,633.2 478.7,633.9 478.8,634.4 478.9,634.6 479,634.7 479,634.8" fill="#7ee61e" />
<polygon points="479.6,621.2 480,620.2 480.1,620.1 480.3,620.2 480.7,621.2" fill="#7ee61e" />
<polygon points="480.9,634.8 481.3,633.3 481.4,633.1 481.6,633.3 482,634.8" fill="#7ee61e" />
<polygon points="482,621.2 482.4,620.1 482.6,619.9 482.7,620.1 483.1,621.2" fill="#7ee61e" />
<polygon points="484.8,621.2 485.2,620.2 485.4,620.1 485.5,620.2 485.9,621.2" fill="#7ee61e" />
<polygon points="485.5,621.2 485.9,619.9 486,619.7 486.2,619.9 486.6,621.2" fill="#7ee61e" />
<polygon points="490.9,621.2 491.3,619.5 491.5,619.2 491.6,619.5 492,621.2" fill="#7ee61e" />
<polygon points="492.6,621.2 493,619.5 493.2,619.2 493.3,619.5 493.7,621.2" fill="#7ee61e" />
<polygon points="492.8,634.8 492.8,634.7 492.9,634.6 493,634.3 493.1,633.9 493.2,633.2 493.3,632.6 493.5,632.4 493.6,632.6 493.7,633.2 493.8,633.9 493.9,634.3 494,634.6 494.1,634.7 494.1,634.8" fill="#7ee61e" />
<polygon points="493.9,621.2 494.3,620.6 494.4,620.5 494.6,620.6 495,621.2" fill="#7ee61e" />
<polygon points="493.9,634.8 494.3,633.4 494.4,633.1 494.6,633.4 495,634.8" fill="#7ee61e" />
<polygon points="496.1,621.2 496.5,620.7 496.7,620.7 496.8,620.7 497.2,621.2" fill="#7ee61e" />
<polygon points="496,634.8 496.4,632.9 496.6,632.6 496.7,632.9 497.1,634.8" fill="#7ee61e" />
<polygon points="497.5,621.2 497.9,619.5 498,619.2 498.2,619.5 498.6,621.2" fill="#7ee61e" />
<polygon points="499.7,621.2 500.1,619.4 500.2,619.1 500.4,619.4 500.8,621.2" fill="#7ee61e" />
<polygon points="500.7,634.8 500.7,634.7 500.8,634.6 500.9,634.4 501.1,633.9 501.2,633.3 501.3,632.8 501.4,632.5 501.5,632.8 501.6,633.3 501.7,633.9 501.8,634.4 501.9,634.6 502,634.7 502,634.8" fill="#7ee61e" />
<polygon points="502.1,621.2 502.5,620.9 502.6,620.8 502.8,620.9 503.2,621.2" fill="#7ee61e" />
<polygon points="502.6,634.8 503,633.9 503.1,633.7 503.3,633.9 503.7,634.8" fill="#7ee61e" />
<polygon points="504.2,621.2 504.6,619.7 504.8,619.4 504.9,619.7 505.3,621.2" fill="#7ee61e" />
<polygon points="505.6,621.2 506,619.8 506.2,619.6 506.3,619.8 506.7,621.2" fill="#7ee61e" />
<polygon points="508.2,621.2 508.6,620.3 508.7,620.2 508.9,620.3 509.3,621.2" fill="#7ee61e" />
<polygon points="508.9,634.8 509.3,634.1 509.4,634 509.6,634.1 510,634.8" fill="#7ee61e" />
<polygon points="510.3,621.2 510.7,620 510.8,619.8 511,620 511.4,621.2" fill="#7ee61e" />
<polygon points="512.5,621.2 512.9,620.7 513.1,620.6 513.2,620.7 513.6,621.2" fill="#7ee61e" />
<polygon points="512.6,634.8 513,633.8 513.2,633.6 513.3,633.8 513.7,634.8" fill="#7ee61e" />
<polygon points="514.6,621.2 515,620.1 515.2,619.9 515.3,620.1 515.7,621.2" fill="#7ee61e" />
<polygon points="514.2,634.8 514.6,634.5 514.8,634.4 514.9,634.5 515.3,634.8" fill="#7ee61e" />
<polygon points="515.5,621.2 515.9,620.3 516,620.2 516.2,620.3 516.6,621.2" fill="#7ee61e" />
<polygon points="516.1,634.8 516.5,633.4 516.7,633.1 516.8,633.4 517.2,634.8" fill="#7ee61e" />
<polygon points="518.2,621.2 518.6,619.5 518.8,619.1 518.9,619.5 519.3,621.2" fill="#7ee61e" />
<polygon points="522.8,621.2 523.2,620.5 523.4,620.3 523.5,620.5 523.9,621.2" fill="#7ee61e" />
<polygon points="522.1,634.8 522.5,633.2 522.7,633 522.8,633.2 523.2,634.8" fill="#7ee61e" />
<polygon points="524.8,621.2 525.2,620.1 525.4,619.9 525.5,620.1 525.9,621.2" fill="#7ee61e" />
<polygon points="524.3,634.8 524.7,633.1 524.8,632.8 525,633.1 525.4,634.8" fill="#7ee61e" />
<polygon points="526.2,621.2 526.6,620.7 526.7,620.6 526.9,620.7 527.3,621.2" fill="#7ee61e" />
<polygon points="525.8,634.8 526.2,633.7 526.3,633.5 526.5,633.7 526.9,634.8" fill="#7ee61e" />
<polygon points="528,621.2 528.4,620.8 528.5,620.8 528.7,620.8 529.1,621.2" fill="#7ee61e" />
<polygon points="528.9,634.8 529.3,634.1 529.5,633.9 529.6,634.1 530,634.8" fill="#7ee61e" />
<polygon points="533.8,621.2 534.2,620.3 534.4,620.2 534.5,620.3 534.9,621.2" fill="#7ee61e" />
<polygon points="534.8,634.8 535.2,633.8 535.3,633.6 535.5,633.8 535.9,634.8" fill="#7ee61e" />
<polygon points="535.7,621.2 536.1,619.5 536.2,619.2 536.4,619.5 536.8,621.2" fill="#7ee61e" />
<polygon points="536.6,634.8 537,633.5 537.1,633.3 537.3,633.5 537.7,634.8" fill="#7ee61e" />
<polygon points="538.7,621.2 539.1,620.9 539.2,620.9 539.4,620.9 539.8,621.2" fill="#7ee61e" />
<polygon points="538.8,634.8 539.2,634.5 539.3,634.4 539.5,634.5 539.9,634.8" fill="#7ee61e" />
<polygon points="540.5,621.2 540.9,620 541.1,619.8 541.2,620 541.6,621.2" fill="#7ee61e" />
<polygon points="542.9,621.2 543.3,620 543.4,619.7 543.6,620 544,621.2" fill="#7ee61e" />
<polygon points="541.5,634.8 541.9,633.3 542.1,633.1 542.2,633.3 542.6,634.8" fill="#7ee61e" />
<polygon points="544.1,621.2 544.5,620.8 544.7,620.7 544.8,620.8 545.2,621.2" fill="#7ee61e" />
<polygon points="546.4,634.8 546.8,633 547,632.7 547.1,633 547.5,634.8" fill="#7ee61e" />
<polygon points="547.9,634.8 548.3,634.5 548.4,634.5 548.6,634.5 549,634.8" fill="#7ee61e" />
<polygon points="550.8,621.2 551.2,619.7 551.4,619.5 551.5,619.7 551.9,621.2" fill="#7ee61e" />
<polygon points="549.7,634.8 550.1,634.2 550.2,634 550.4,634.2 550.8,634.8" fill="#7ee61e" />
<polygon points="551.6,634.8 552,633.9 552.1,633.8 552.3,633.9 552.7,634.8" fill="#7ee61e" />
<polygon points="554.4,621.2 554.8,620.8 554.9,620.7 555.1,620.8 555.5,621.2" fill="#7ee61e" />
<polygon points="556.2,621.2 556.6,620.7 556.7,620.6 556.9,620.7 557.3,621.2" fill="#7ee61e" />
<polygon points="558.8,621.2 559.2,620.2 559.4,620.1 559.5,620.2 559.9,621.2" fill="#7ee61e" />
<polygon points="557.9,634.8 558.3,633.7 558.4,633.5 558.6,633.7 559,634.8" fill="#7ee61e" />
<polygon points="560.4,634.8 560.8,633.8 561,633.6 561.1,633.8 561.5,634.8" fill="#7ee61e" />
<polygon points="561.6,634.8 562,634.1 562.2,634 562.3,634.1 562.7,634.8" fill="#7ee61e" />
<polygon points="564.4,634.8 564.8,633.4 564.9,633.2 565.1,633.4 565.5,634.8" fill="#7ee61e" />
<polygon points="566.6,621.2 567,619.4 567.2,619.1 567.3,619.4 567.7,621.2" fill="#7ee61e" />
<polygon points="565.6,634.8 566,633.4 566.2,633.2 566.3,633.4 566.7,634.8" fill="#7ee61e" />
<polygon points="567.5,621.2 567.9,619.6 568.1,619.3 568.2,619.6 568.6,621.2" fill="#7ee61e" />
<polygon points="570.5,621.2 570.9,620.3 571.1,620.2 571.2,620.3 571.6,621.2" fill="#7ee61e" />
<polygon points="570.1,634.8 570.5,634 570.6,633.8 570.8,634 571.2,634.8" fill="#7ee61e" />
<polygon points="572.5,621.2 572.9,620.8 573.1,620.7 573.2,620.8 573.6,621.2" fill="#7ee61e" />
<polygon points="572.8,634.8 573.2,634.4 573.3,634.4 573.5,634.4 573.9,634.8" fill="#7ee61e" />
<polygon points="574.9,621.2 575.3,620.5 575.4,620.3 575.6,620.5 576,621.2" fill="#7ee61e" />
<polygon points="575.6,621.2 576,619.5 576.2,619.2 576.3,619.5 576.7,621.2" fill="#7ee61e" />
<polygon points="575.8,634.8 576.2,634.5 576.3,634.4 576.5,634.5 576.9,634.8" fill="#7ee61e" />
<polygon points="577.6,621.2 578,620 578.2,619.8 578.3,620 578.7,621.2" fill="#7ee61e" />
<polygon points="578.7,634.8 578.7,634.7 578.9,634.6 579,634.4 579.1,633.9 579.2,633.3 579.3,632.7 579.4,632.5 579.5,632.7 579.6,633.3 579.7,633.9 579.8,634.4 579.9,634.6 580,634.7 580,634.8" fill="#7ee61e" />
<polygon points="580.6,621.2 581,620.2 581.2,620 581.3,620.2 581.7,621.2" fill="#7ee61e" />
<polygon points="580.3,634.8 580.7,634.4 580.8,634.3 581,634.4 581.4,634.8" fill="#7ee61e" />
<polygon points="582.1,621.2 582.5,619.4 582.7,619 582.8,619.4 583.2,621.2" fill="#7ee61e" />
<polygon points="582.2,634.8 582.2,634.7 582.3,634.6 582.4,634.4 582.5,633.9 582.6,633.2 582.7,632.7 582.8,632.5 582.9,632.7 583,633.2 583.2,633.9 583.3,634.4 583.4,634.6 583.5,634.7 583.5,634.8" fill="#7ee61e" />
<polygon points="584.2,621.2 584.6,620.3 584.8,620.1 584.9,620.3 585.3,621.2" fill="#7ee61e" />
<polygon points="586.8,621.2 587.2,620.3 587.4,620.2 587.5,620.3 587.9,621.2" fill="#7ee61e" />
<polygon points="586.7,634.8 587.1,633.6 587.2,633.4 587.4,633.6 587.8,634.8" fill="#7ee61e" />
<polygon points="588.9,621.2 589.3,620.7 589.4,620.6 589.6,620.7 590,621.2" fill="#7ee61e" />
<polygon points="588,634.8 588,634.7 588.1,634.6 588.2,634.4 588.3,633.9 588.4,633.3 588.6,632.8 588.7,632.6 588.8,632.8 588.9,633.3 589,633.9 589.1,634.4 589.2,634.6 589.3,634.7 589.3,634.8" fill="#7ee61e" />
<polygon points="589.9,621.2 590.3,620 590.4,619.8 590.6,620 591,621.2" fill="#7ee61e" />
<polygon points="592.6,621.2 593,620.5 593.1,620.4 593.3,620.5 593.7,621.2" fill="#7ee61e" />
<polygon points="594.5,621.2 594.9,620.7 595,620.6 595.2,620.7 595.6,621.2" fill="#7ee61e" />
<polygon points="595.7,634.8 596.1,634.4 596.3,634.3 596.4,634.4 596.8,634.8" fill="#7ee61e" />
<polygon points="598.7,621.2 599.1,620.2 599.3,620.1 599.4,620.2 599.8,621.2" fill="#7ee61e" />
<polygon points="598.5,634.8 598.9,634.4 599,634.3 599.2,634.4 599.6,634.8" fill="#7ee61e" />
<polygon points="600,621.2 600.4,620 600.5,619.8 600.7,620 601.1,621.2" fill="#7ee61e" />
<polygon points="600.5,634.8 600.9,634.3 601.1,634.2 601.2,634.3 601.6,634.8" fill="#7ee61e" />
<polygon points="602.3,621.2 602.7,619.7 602.9,619.4 603,619.7 603.4,621.2" fill="#7ee61e" />
<polygon points="606.8,621.2 607.2,620.5 607.3,620.4 607.5,620.5 607.9,621.2" fill="#7ee61e" />
<polygon points="606.1,634.8 606.5,633.8 606.6,633.6 606.8,633.8 607.2,634.8" fill="#7ee61e" />
<polygon points="608.4,621.2 608.8,619.4 609,619 609.1,619.4 609.5,621.2" fill="#7ee61e" />
<polygon points="610.9,621.2 611.3,619.8 611.4,619.5 611.6,619.8 612,621.2" fill="#7ee61e" />
<polygon points="610.7,634.8 611.1,633.4 611.3,633.1 611.4,633.4 611.8,634.8" fill="#7ee61e" />
<polygon points="614.5,634.8 614.9,633.4 615.1,633.2 615.2,633.4 615.6,634.8" fill="#7ee61e" />
<polygon points="616.2,621.2 616.6,619.7 616.7,619.4 616.9,619.7 617.3,621.2" fill="#7ee61e" />
<polygon points="616.6,634.8 617,633.2 617.2,632.9 617.3,633.2 617.7,634.8" fill="#7ee61e" />
<polygon points="618.3,621.2 618.7,619.6 618.8,619.3 619,619.6 619.4,621.2" fill="#7ee61e" />
<polygon points="617.6,634.8 618,634.2 618.2,634.1 618.3,634.2 618.7,634.8" fill="#7ee61e" />
<polygon points="620.7,634.8 621.1,633.4 621.2,633.1 621.4,633.4 621.8,634.8" fill="#7ee61e" />
<polygon points="621.8,621.2 622.2,620.3 622.3,620.2 622.5,620.3 622.9,621.2" fill="#7ee61e" />
<polygon points="621.5,634.8 621.9,633.4 622,633.1 622.2,633.4 622.6,634.8" fill="#7ee61e" />
<polygon points="624.1,634.8 624.5,634 624.7,633.9 624.8,634 625.2,634.8" fill="#7ee61e" />
<polygon points="626.3,621.2 626.7,619.8 626.9,619.5 627,619.8 627.4,621.2" fill="#7ee61e" />
<polygon points="627.5,621.2 627.9,620.2 628.1,620.1 628.2,620.2 628.6,621.2" fill="#7ee61e" />
<polygon points="628.7,634.8 629.1,634.3 629.3,634.2 629.4,634.3 629.8,634.8" fill="#7ee61e" />
<polygon points="630.6,621.2 631,620.9 631.1,620.8 631.3,620.9 631.7,621.2" fill="#7ee61e" />
<polygon points="630.1,634.8 630.5,633.8 630.7,633.6 630.8,633.8 631.2,634.8" fill="#7ee61e" />
<polygon points="632.2,621.2 632.6,619.6 632.8,619.4 632.9,619.6 633.3,621.2" fill="#7ee61e" />
<polygon points="632.6,634.8 633,633.2 633.2,632.9 633.3,633.2 633.7,634.8" fill="#7ee61e" />
<polygon points="640,621.2 640.4,620.6 640.5,620.5 640.7,620.6 641.1,621.2" fill="#7ee61e" />
<polygon points="640,634.8 640.4,634.4 640.6,634.3 640.7,634.4 641.1,634.8" fill="#7ee61e" />
<polygon points="642.1,621.2 642.5,620.6 642.6,620.5 642.8,620.6 643.2,621.2" fill="#7ee61e" />
<polygon points="642.5,634.8 642.9,633.9 643.1,633.7 643.2,633.9 643.6,634.8" fill="#7ee61e" />
<polygon points="646.1,621.2 646.5,619.8 646.6,619.6 646.8,619.8 647.2,621.2" fill="#7ee61e" />
<polygon points="646.1,634.8 646.5,634.5 646.6,634.4 646.8,634.5 647.2,634.8" fill="#7ee61e" />
<polygon points="415.8,621.2 415.8,621.1 416.1,620.8 416.4,620.1 416.7,618.9 417,617.4 417.3,616.1 417.6,615.5 417.9,616.1 418.2,617.4 418.5,618.9 418.8,620.1 419.1,620.8 419.4,621.1 419.4,621.2" fill="#7ee61e" />
<polygon points="412.7,621.2 412.7,621.1 413,620.9 413.3,620.4 413.5,619.5 413.8,618.4 414,617.4 414.3,617 414.6,617.4 414.8,618.4 415.1,619.5 415.3,620.4 415.6,620.9 415.9,621.1 415.9,621.2" fill="#7ee61e" />
<polygon points="547.8,621.2 547.8,621 548.1,620.4 548.4,619.3 548.6,617.3 548.9,614.6 549.1,612.2 549.4,611.2 549.7,612.2 549.9,614.6 550.2,617.3 550.4,619.3 550.7,620.4 551,621 551,621.2" fill="#7ee61e" />
<polygon points="620.2,621.2 620.2,621 620.5,620.6 620.8,619.7 621.1,618 621.4,615.9 621.7,614 622,613.2 622.3,614 622.6,615.9 622.9,618 623.2,619.7 623.5,620.6 623.8,621 623.8,621.2" fill="#7ee61e" />
<polygon points="405.7,621.2 406.6,619.5 407,619.2 407.4,619.5 408.3,621.2" fill="#7ee61e" />
<polygon points="509.4,634.8 509.4,634.7 509.7,634.5 510,634.1 510.2,633.4 510.5,632.5 510.7,631.6 511,631.3 511.3,631.6 511.5,632.5 511.8,633.4 512,634.1 512.3,634.5 512.6,634.7 512.6,634.8" fill="#7ee61e" />
<polygon points="407.4,634.8 407.4,634.7 407.7,634.6 408,634.2 408.2,633.6 408.5,632.8 408.7,632.1 409,631.8 409.3,632.1 409.5,632.8 409.8,633.6 410,634.2 410.3,634.6 410.6,634.7 410.6,634.8" fill="#7ee61e" />
<polygon points="423.7,634.8 424.6,633.1 425,632.8 425.4,633.1 426.3,634.8" fill="#7ee61e" />
<polygon points="613.4,634.8 613.4,634.7 613.7,634.6 614,634.3 614.2,633.8 614.5,633.1 614.7,632.5 615,632.3 615.3,632.5 615.5,633.1 615.8,633.8 616,634.3 616.3,634.6 616.6,634.7 616.6,634.8" fill="#7ee61e" />
<polygon points="644.4,634.8 644.4,634.7 644.7,634.6 645,634.3 645.2,633.8 645.5,633.1 645.7,632.5 646,632.3 646.3,632.5 646.5,633.1 646.8,633.8 647,634.3 647.3,634.6 647.6,634.7 647.6,634.8" fill="#7ee61e" />
<polygon points="344.7,634.8 345.6,633.1 346,632.8 346.4,633.1 347.3,634.8" fill="#7ee61e" />
<line x1="342.3" y1="580.03" x2="647.3" y2="580.03" stroke="#2b2bb0" stroke-width="0.8" />
<line x1="342.3" y1="649.5" x2="647.3" y2="649.5" stroke="#b4b4b4" stroke-width="0.9" />
<line x1="342.3" y1="651.3" x2="647.3" y2="651.3" stroke="#b4b4b4" stroke-width="0.9" />
<text x="341.2" y="578.3" font-size="10.15" text-anchor="end" stroke="#000" stroke-width="0.25">FOXA2</text>
<text x="341.2" y="591.7" font-size="10.15" text-anchor="end" stroke="#000" stroke-width="0.25">JUN (siNTC)</text>
<text x="341.2" y="605.2" font-size="10.15" text-anchor="end" stroke="#000" stroke-width="0.25">JUN (siFOXA2)</text>
<text x="341.2" y="619" font-size="10.15" text-anchor="end" stroke="#000" stroke-width="0.25">FOSL1 (siNTC)</text>
<text x="341.2" y="632.5" font-size="10.15" text-anchor="end" stroke="#000" stroke-width="0.25">FOSL1 (siFOXA2)</text>
<text x="341.2" y="645.7" font-size="10.15" text-anchor="end" stroke="#000" stroke-width="0.25">H3K27ac</text>
<polygon points="342.3,648.3 412,648.3 413,647.3 418,647.2 423.6,646.8 424.5,643.5 425,641.2 426.3,640.8 427.6,643 428.9,640.3 430.5,636.8 431.5,642.5 432.8,645.1 435,647.6 435.5,648.3 446,648.3 447,646.5 448.2,645.8 449.5,646.5 450.5,648.3 471,648.3 473,645.5 475,648.3 611,648.3 612,645.5 613,647 614.5,643 615.5,646 616.5,642 617.5,645 618.5,640 619.5,638.7 620.5,644 621.5,641.5 622.5,645 623.5,643.5 624.5,646.5 626,645.5 627,648.3 634,648.3 637.4,646.5 640,648.3" fill="#a50f0f" />
<line x1="385.6" y1="655.3" x2="435.8" y2="655.3" stroke="#2d2dcc" stroke-width="0.9" />
<polygon points="385.6,655.3 389,653 389,657.6" fill="#2d2dcc" />
<rect x="404.3" y="653.1" width="1.6" height="4.4" fill="#2d2dcc"/>
<rect x="426.4" y="653.1" width="1.4" height="4.4" fill="#2d2dcc"/>
<polyline points="394,654 392.5,655.3 394,656.6" fill="none" stroke="#2d2dcc" stroke-width="0.6" stroke-linejoin="round" />
<polyline points="401,654 399.5,655.3 401,656.6" fill="none" stroke="#2d2dcc" stroke-width="0.6" stroke-linejoin="round" />
<polyline points="408,654 406.5,655.3 408,656.6" fill="none" stroke="#2d2dcc" stroke-width="0.6" stroke-linejoin="round" />
<polyline points="415,654 413.5,655.3 415,656.6" fill="none" stroke="#2d2dcc" stroke-width="0.6" stroke-linejoin="round" />
<polyline points="422,654 420.5,655.3 422,656.6" fill="none" stroke="#2d2dcc" stroke-width="0.6" stroke-linejoin="round" />
<polyline points="429,654 427.5,655.3 429,656.6" fill="none" stroke="#2d2dcc" stroke-width="0.6" stroke-linejoin="round" />
<polyline points="436,654 434.5,655.3 436,656.6" fill="none" stroke="#2d2dcc" stroke-width="0.6" stroke-linejoin="round" />
<line x1="435.8" y1="653.3" x2="435.8" y2="657.3" stroke="#2d2dcc" stroke-width="0.6" />
<text x="389.4" y="669.5" font-size="12.7" stroke="#000" stroke-width="0.25" font-style="italic">PTHLH</text>
<rect x="606.8" y="556.6" width="24.7" height="100.8" fill="#ffc121" fill-opacity="0.47"/>
<text x="620.3" y="669.8" font-size="13.4" text-anchor="middle" stroke="#000" stroke-width="0.25">SE</text>
<line x1="62" y1="745.6" x2="62" y2="830" stroke="#333" stroke-width="0.9" />
<rect x="46.8" y="774.6" width="30.4" height="22.6" fill="#f8a9a3" stroke="#444" stroke-width="0.8"/>
<line x1="46.8" y1="783.3" x2="77.2" y2="783.3" stroke="#333" stroke-width="1.6" />
<path fill="#111" d="M52.1 799.5h1v1h-1zM57.4 790.3h1v1h-1zM60.9 783.3h1v1h-1zM66.3 762.9h1v1h-1zM63.6 758.2h1v1h-1zM54.7 795.3h1v1h-1zM62.2 769.4h1v1h-1zM56.1 776.8h1v1h-1zM57.7 780h1v1h-1zM56.6 774.9h1v1h-1zM66.3 781.9h1v1h-1zM64.6 795.7h1v1h-1zM53.5 809.3h1v1h-1zM64.2 787.9h1v1h-1zM66.5 769.4h1v1h-1zM66.8 796.9h1v1h-1zM53.8 778.4h1v1h-1zM63.1 773h1v1h-1zM68.8 756.1h1v1h-1zM55.6 776.9h1v1h-1zM60 765.6h1v1h-1zM70.4 800h1v1h-1zM68 804h1v1h-1zM70 784.6h1v1h-1zM63.2 773h1v1h-1zM58.1 782.4h1v1h-1zM55.6 778.9h1v1h-1zM63.2 771.6h1v1h-1zM63.3 786h1v1h-1zM62.8 768h1v1h-1zM59.1 781.4h1v1h-1zM68.6 782.6h1v1h-1zM70.1 760.3h1v1h-1zM52.7 781.1h1v1h-1zM52 780.7h1v1h-1zM56.2 768h1v1h-1zM68.5 768.5h1v1h-1zM58.7 783.7h1v1h-1zM69.9 787.8h1v1h-1zM70.6 769.9h1v1h-1zM54.1 802.8h1v1h-1zM58.4 815.1h1v1h-1zM52.4 799.4h1v1h-1zM52.1 773.7h1v1h-1zM70.3 823.5h1v1h-1zM58.5 780.7h1v1h-1zM52.9 776.1h1v1h-1zM63.4 812.3h1v1h-1zM66.4 790.3h1v1h-1zM56.5 793.7h1v1h-1zM63.4 813.4h1v1h-1zM64.2 781.5h1v1h-1zM52.8 786.3h1v1h-1zM63.4 804.1h1v1h-1zM62.3 774.1h1v1h-1zM58.7 776.9h1v1h-1zM64.2 790.8h1v1h-1zM65.2 774.2h1v1h-1zM52.6 816.9h1v1h-1zM62.2 816.1h1v1h-1zM54.5 804.8h1v1h-1zM65.4 766.8h1v1h-1zM61.1 779.8h1v1h-1zM68.9 786h1v1h-1zM65.4 781.9h1v1h-1zM54.7 778.5h1v1h-1zM65.4 789.5h1v1h-1zM53.6 774.8h1v1h-1zM53.9 769.1h1v1h-1zM57.6 776.7h1v1h-1zM52.5 783.6h1v1h-1zM67.3 786.7h1v1h-1zM52.3 808.6h1v1h-1zM56.2 779.3h1v1h-1zM59.8 800.4h1v1h-1zM57 796.1h1v1h-1zM68.3 782.9h1v1h-1zM66.5 776.9h1v1h-1zM65.2 812.9h1v1h-1zM62 772.5h1v1h-1zM58.8 790.1h1v1h-1zM53.1 778.5h1v1h-1zM63.5 801.5h1v1h-1zM58.4 779.1h1v1h-1zM53.2 787.1h1v1h-1zM70.5 766.5h1v1h-1zM54.9 782.7h1v1h-1zM56.6 762.2h1v1h-1zM60.6 772.8h1v1h-1zM60.5 777.3h1v1h-1zM69.2 779.7h1v1h-1zM52.3 821h1v1h-1zM64.7 767.8h1v1h-1zM56.5 781.9h1v1h-1zM64.9 771.6h1v1h-1zM58 766.3h1v1h-1zM68.5 820.1h1v1h-1zM65.6 778.8h1v1h-1zM69.1 770.7h1v1h-1zM54.2 780.9h1v1h-1zM63.3 772.5h1v1h-1zM56.5 784.7h1v1h-1zM64.4 765.1h1v1h-1zM65.2 779.5h1v1h-1zM64.8 770.4h1v1h-1zM70.1 786.7h1v1h-1zM65.8 782.2h1v1h-1zM59.1 790.9h1v1h-1zM63.7 792.1h1v1h-1zM68.3 771.2h1v1h-1zM62 776.1h1v1h-1zM67.9 766.3h1v1h-1zM55 771.3h1v1h-1zM67.8 803.1h1v1h-1zM69 794.2h1v1h-1zM64.2 775.7h1v1h-1zM68.1 781h1v1h-1zM52.9 782.9h1v1h-1zM60.8 774.8h1v1h-1zM66.2 784.2h1v1h-1zM66.6 800.9h1v1h-1zM65.5 756.9h1v1h-1zM55 770.4h1v1h-1zM70.7 774h1v1h-1zM60.1 793.1h1v1h-1zM70.2 779.4h1v1h-1zM58.9 822.8h1v1h-1zM52.8 779.9h1v1h-1zM64.3 800.3h1v1h-1zM67.5 792.7h1v1h-1zM67.8 769.8h1v1h-1zM54.2 800.8h1v1h-1zM61.8 771.8h1v1h-1zM68.6 759.9h1v1h-1zM56.4 782.8h1v1h-1zM70.9 784.2h1v1h-1zM53.3 776.7h1v1h-1zM59.4 798.3h1v1h-1zM52.6 783.3h1v1h-1zM54.1 806.9h1v1h-1zM66.7 788.1h1v1h-1zM56.4 786.7h1v1h-1zM61.4 799.6h1v1h-1zM63.8 762.2h1v1h-1zM52.8 781.3h1v1h-1zM60.1 780h1v1h-1zM53.1 781.1h1v1h-1zM65.3 778h1v1h-1zM59.7 791.7h1v1h-1zM56.7 783.9h1v1h-1zM61.4 777.6h1v1h-1zM63.9 776.7h1v1h-1zM62.5 784.5h1v1h-1zM66.6 813.8h1v1h-1zM57.2 753.7h1v1h-1zM52.6 773.8h1v1h-1zM63.5 771.4h1v1h-1zM64 781.9h1v1h-1zM56.3 797.7h1v1h-1zM55.4 823.3h1v1h-1zM70.6 771.3h1v1h-1zM69 795.1h1v1h-1zM58.3 809.2h1v1h-1zM56.1 788.1h1v1h-1zM67.4 768.3h1v1h-1zM69.1 760.5h1v1h-1zM59.9 782.7h1v1h-1zM65.6 816.7h1v1h-1zM62.5 781.5h1v1h-1zM54.7 785.1h1v1h-1zM67.4 776.3h1v1h-1zM68.5 806.8h1v1h-1zM69.3 770.3h1v1h-1zM59.6 820.8h1v1h-1zM52.9 767.3h1v1h-1zM64.3 765.6h1v1h-1zM54.7 812.2h1v1h-1zM52.9 784.4h1v1h-1zM65.5 803.6h1v1h-1zM66.4 752.4h1v1h-1zM60.3 784h1v1h-1zM70.9 795.6h1v1h-1zM66.5 806.9h1v1h-1zM54.9 787.5h1v1h-1zM61.8 792.7h1v1h-1zM61.4 823.3h1v1h-1zM62.2 802.5h1v1h-1zM63.3 775.3h1v1h-1zM53 771.8h1v1h-1zM70 768.1h1v1h-1zM54.1 777.8h1v1h-1zM62.5 785h1v1h-1zM67.2 769.2h1v1h-1zM69.9 796h1v1h-1zM63.4 773.1h1v1h-1zM62.5 763.4h1v1h-1zM70.4 775.4h1v1h-1zM66.5 795.6h1v1h-1zM67.2 780.6h1v1h-1zM58.1 779.4h1v1h-1zM66.4 774.3h1v1h-1zM55.9 799.1h1v1h-1zM66.2 778.1h1v1h-1zM56.2 780.9h1v1h-1zM61.6 787.3h1v1h-1zM52.1 773.1h1v1h-1zM55.8 782.7h1v1h-1zM59.9 789.2h1v1h-1zM54.3 805.4h1v1h-1zM58.5 786.3h1v1h-1zM59.4 804.2h1v1h-1zM60.1 790.1h1v1h-1zM69.2 777h1v1h-1zM56.1 779.9h1v1h-1zM67.7 815.9h1v1h-1zM60.3 784.6h1v1h-1zM56.5 809.9h1v1h-1zM52.8 781.2h1v1h-1zM69.5 778.5h1v1h-1zM57.1 763h1v1h-1zM61.2 824.7h1v1h-1zM58.7 782.7h1v1h-1zM61.7 792.5h1v1h-1zM68.1 810.5h1v1h-1zM62 794.4h1v1h-1zM53 806.1h1v1h-1z"/>
<circle cx="62.00" cy="830.00" r="1.3" fill="none" stroke="#555" stroke-width="0.6"/>
<line x1="102.5" y1="752.3" x2="102.5" y2="846.6" stroke="#333" stroke-width="0.9" />
<rect x="87.3" y="786.6" width="30.4" height="22.3" fill="#77dede" stroke="#444" stroke-width="0.8"/>
<line x1="87.3" y1="797.2" x2="117.7" y2="797.2" stroke="#333" stroke-width="1.6" />
<path fill="#111" d="M109.5 822.5h1v1h-1zM101.7 800.5h1v1h-1zM99 827.4h1v1h-1zM99.1 826.6h1v1h-1zM105 795.8h1v1h-1zM101.6 811.5h1v1h-1zM105.7 784.5h1v1h-1zM97.9 777.9h1v1h-1zM98.6 798.3h1v1h-1zM103.1 793.8h1v1h-1zM111 823.6h1v1h-1zM93 782.3h1v1h-1zM103.1 780.1h1v1h-1zM104.2 821.1h1v1h-1zM96.3 826.5h1v1h-1zM93.6 795.7h1v1h-1zM98.9 767.3h1v1h-1zM108.9 790.2h1v1h-1zM97.2 798.2h1v1h-1zM94 801.9h1v1h-1zM100.8 789.1h1v1h-1zM108.7 773.7h1v1h-1zM100.2 795.8h1v1h-1zM95.8 793.5h1v1h-1zM98 797.2h1v1h-1zM105.7 810.1h1v1h-1zM103.1 810.2h1v1h-1zM102.9 796.1h1v1h-1zM99.4 779.3h1v1h-1zM102.9 799.8h1v1h-1zM92.8 801.4h1v1h-1zM97.5 789.6h1v1h-1zM102.6 792.5h1v1h-1zM100.5 790.4h1v1h-1zM107.6 812.5h1v1h-1zM110 819.5h1v1h-1zM102.4 775.3h1v1h-1zM111.3 789.8h1v1h-1zM102.7 789.5h1v1h-1zM103.4 810.2h1v1h-1zM106.1 810.3h1v1h-1zM107.9 801.6h1v1h-1zM100.2 787.6h1v1h-1zM109 801.9h1v1h-1zM98.7 787.7h1v1h-1zM103.1 785.7h1v1h-1zM109.5 792.9h1v1h-1zM94.1 798.2h1v1h-1zM99.1 794.3h1v1h-1zM99.4 783.1h1v1h-1zM99.1 805.9h1v1h-1zM95.2 798.3h1v1h-1zM98.4 799.2h1v1h-1zM106 798.2h1v1h-1zM107.1 826.6h1v1h-1zM95.6 806h1v1h-1zM110.8 785.6h1v1h-1zM92.6 794.8h1v1h-1zM107.6 788.7h1v1h-1zM96.3 798.3h1v1h-1zM111 805.3h1v1h-1zM92.5 799.8h1v1h-1zM98 784.1h1v1h-1zM109.9 779.4h1v1h-1zM93.1 779.3h1v1h-1zM102.3 787h1v1h-1zM93.7 803.2h1v1h-1zM111.1 814.8h1v1h-1zM99.7 801.3h1v1h-1zM96.5 784h1v1h-1zM99.7 810h1v1h-1zM96.9 809.4h1v1h-1zM110.8 803.4h1v1h-1zM105.8 771.3h1v1h-1zM107.4 787.3h1v1h-1zM102.7 788.5h1v1h-1zM99.7 776.4h1v1h-1zM103.6 770.3h1v1h-1zM106.2 791.3h1v1h-1zM97.6 812h1v1h-1zM97.5 777.5h1v1h-1zM108 772.1h1v1h-1zM103.5 785.7h1v1h-1zM111.4 766h1v1h-1zM110.2 796.6h1v1h-1zM94.1 763h1v1h-1zM105.6 811.8h1v1h-1zM109.5 837.2h1v1h-1zM94.3 802.8h1v1h-1zM109.7 826.5h1v1h-1zM93.4 821.8h1v1h-1zM107.3 805.9h1v1h-1zM93.3 792.8h1v1h-1zM101.1 791.2h1v1h-1zM109.6 786.7h1v1h-1zM107.4 784.2h1v1h-1zM105.3 779.9h1v1h-1zM98.4 815.6h1v1h-1zM94.4 825.6h1v1h-1zM108.8 796.7h1v1h-1zM93.7 794.9h1v1h-1zM100.8 842.3h1v1h-1zM97.5 802.4h1v1h-1zM102.5 801.2h1v1h-1zM102.4 784.1h1v1h-1zM100.5 828.1h1v1h-1zM102.3 804h1v1h-1zM100.4 801.4h1v1h-1zM105 833.5h1v1h-1zM94.2 805.7h1v1h-1zM102.3 797.8h1v1h-1zM99 778.2h1v1h-1zM104.4 824.5h1v1h-1zM95.2 810.9h1v1h-1zM104.7 809h1v1h-1zM98.5 775.8h1v1h-1zM95.9 768.1h1v1h-1zM111.3 823.5h1v1h-1zM104.4 782.5h1v1h-1zM105.7 794.6h1v1h-1zM108.5 768.1h1v1h-1zM98.2 784.1h1v1h-1zM93.4 799.5h1v1h-1zM102.8 816.4h1v1h-1zM106.1 813.2h1v1h-1zM100.9 820h1v1h-1zM105.3 757.7h1v1h-1zM104.4 806.1h1v1h-1zM93.6 764.5h1v1h-1zM102.4 807.3h1v1h-1zM103.6 789.9h1v1h-1zM108.2 771h1v1h-1zM107.1 804.9h1v1h-1zM95.2 817.6h1v1h-1zM97 801.3h1v1h-1zM104.8 793h1v1h-1zM102.6 801.3h1v1h-1zM101.6 785.2h1v1h-1zM110.5 796.1h1v1h-1zM98.8 827.3h1v1h-1zM101.2 816.2h1v1h-1zM101.5 796.6h1v1h-1zM106.4 798.9h1v1h-1zM99.5 780.5h1v1h-1zM92.5 780.1h1v1h-1zM106.7 827.6h1v1h-1zM93.9 766h1v1h-1zM106.8 818.1h1v1h-1zM96.2 786.3h1v1h-1zM110.8 801.6h1v1h-1zM97.6 802.9h1v1h-1zM94.7 794.6h1v1h-1zM103 774.5h1v1h-1zM100.3 805h1v1h-1zM97.2 806.1h1v1h-1zM110.2 834h1v1h-1zM107.8 791.4h1v1h-1zM92.7 834.7h1v1h-1zM99.9 815h1v1h-1zM94.4 810.2h1v1h-1zM103.4 791.5h1v1h-1zM111 803.4h1v1h-1zM99.7 793.5h1v1h-1zM106.9 797.9h1v1h-1zM110.2 797.1h1v1h-1zM96.8 817h1v1h-1zM96 774.8h1v1h-1zM106.6 804.8h1v1h-1zM104.1 784.9h1v1h-1zM106 798.4h1v1h-1zM106.2 778.3h1v1h-1zM103.6 782.7h1v1h-1zM95.6 783.2h1v1h-1zM100.6 812.7h1v1h-1zM109.6 775.9h1v1h-1zM103 807.2h1v1h-1zM100.8 796.8h1v1h-1zM97.4 794.1h1v1h-1zM107.3 779.5h1v1h-1zM108.1 791.9h1v1h-1zM106.4 793.3h1v1h-1zM98 790.3h1v1h-1zM93.5 815.6h1v1h-1zM96.6 781.3h1v1h-1zM95.6 806.6h1v1h-1zM92.5 801.9h1v1h-1zM96.6 816.3h1v1h-1zM106.9 803.9h1v1h-1zM109.5 786h1v1h-1zM104 783.4h1v1h-1zM97 798h1v1h-1zM107.5 808.6h1v1h-1zM101 803.4h1v1h-1zM109.9 805.1h1v1h-1zM94.5 802.6h1v1h-1zM101.3 767h1v1h-1zM110 792.7h1v1h-1zM109.3 792h1v1h-1zM94.5 771.9h1v1h-1zM108.4 804.2h1v1h-1zM107.9 800.1h1v1h-1zM94.9 793.1h1v1h-1zM111 819.6h1v1h-1zM110.9 817.7h1v1h-1zM110.8 797.2h1v1h-1zM98.4 803h1v1h-1zM100.7 807.4h1v1h-1zM100.2 815.8h1v1h-1zM103.8 815.7h1v1h-1zM96.6 809.1h1v1h-1zM97.3 801.6h1v1h-1zM109 817.8h1v1h-1zM97.7 807h1v1h-1zM105.8 809h1v1h-1zM93.9 802.6h1v1h-1zM105.2 809.4h1v1h-1zM102 784.5h1v1h-1zM104.8 814.2h1v1h-1zM109.9 793.1h1v1h-1zM99.2 789.7h1v1h-1zM108 779.9h1v1h-1zM105 797.1h1v1h-1zM103.1 765.7h1v1h-1zM100.6 817.2h1v1h-1zM94.8 815.2h1v1h-1zM92.9 799.3h1v1h-1zM108.6 787.3h1v1h-1zM102.1 796.6h1v1h-1zM106.1 815.5h1v1h-1z"/>
<circle cx="102.50" cy="721.00" r="1.3" fill="none" stroke="#555" stroke-width="0.6"/>
<circle cx="103.50" cy="731.00" r="1.3" fill="none" stroke="#555" stroke-width="0.6"/>
<circle cx="101.50" cy="734.00" r="1.3" fill="none" stroke="#555" stroke-width="0.6"/>
<circle cx="102.50" cy="740.00" r="1.3" fill="none" stroke="#555" stroke-width="0.6"/>
<circle cx="100.50" cy="741.00" r="1.3" fill="none" stroke="#555" stroke-width="0.6"/>
<circle cx="102.50" cy="846.00" r="1.3" fill="none" stroke="#555" stroke-width="0.6"/>
<line x1="38.5" y1="708.6" x2="38.5" y2="852.3" stroke="#222" stroke-width="0.9" />
<line x1="38.5" y1="852.3" x2="126.6" y2="852.3" stroke="#222" stroke-width="0.9" />
<line x1="36.5" y1="718.5" x2="38.5" y2="718.5" stroke="#222" stroke-width="0.8" />
<text x="32.2" y="723" font-size="12.7" text-anchor="end" stroke="#000" stroke-width="0.25">4</text>
<line x1="36.5" y1="758.3" x2="38.5" y2="758.3" stroke="#222" stroke-width="0.8" />
<text x="32.2" y="762.8" font-size="12.7" text-anchor="end" stroke="#000" stroke-width="0.25">2</text>
<line x1="36.5" y1="798.2" x2="38.5" y2="798.2" stroke="#222" stroke-width="0.8" />
<text x="32.2" y="802.7" font-size="12.7" text-anchor="end" stroke="#000" stroke-width="0.25">0</text>
<line x1="36.5" y1="838" x2="38.5" y2="838" stroke="#222" stroke-width="0.8" />
<text x="32.2" y="842.5" font-size="12.7" text-anchor="end" stroke="#000" stroke-width="0.25">-2</text>
<line x1="62" y1="852.3" x2="62" y2="854.5" stroke="#222" stroke-width="0.8" />
<line x1="102.5" y1="852.3" x2="102.5" y2="854.5" stroke="#222" stroke-width="0.8" />
<text x="62" y="866.5" font-size="12.7" text-anchor="middle" stroke="#000" stroke-width="0.25">siNTC</text>
<text x="108.7" y="866.5" font-size="12.7" text-anchor="middle" stroke="#000" stroke-width="0.25">siJUN</text>
<text x="84.4" y="704.7" font-size="12.7" text-anchor="middle" stroke="#000" stroke-width="0.25">SEs (PC-3)</text>
<polyline points="62,718.3 62,715 102.5,715 102.5,718.3" fill="none" stroke="#555" stroke-width="0.7" stroke-linejoin="round" />
<text x="82.25" y="713.2" font-size="7.5" text-anchor="middle" fill="#222">2.1e-08</text>
<line x1="178.6" y1="723.3" x2="178.6" y2="833.7" stroke="#333" stroke-width="0.9" />
<rect x="163.4" y="753.8" width="30.4" height="54.6" fill="#f8a9a3" stroke="#444" stroke-width="0.8"/>
<line x1="163.4" y1="766.7" x2="193.8" y2="766.7" stroke="#333" stroke-width="1.6" />
<path fill="#111" d="M176.6 774h1v1h-1zM173 738.8h1v1h-1zM176.9 743.7h1v1h-1zM178.6 776.1h1v1h-1zM173 762h1v1h-1zM184.2 739.9h1v1h-1zM178.5 769.3h1v1h-1zM171.8 803.6h1v1h-1zM177.5 753.7h1v1h-1zM170.2 759.7h1v1h-1zM173.8 736.9h1v1h-1zM184.2 765.6h1v1h-1zM184.9 765.4h1v1h-1zM184.4 785h1v1h-1zM174 768.5h1v1h-1zM172.6 760.9h1v1h-1zM171.8 793.7h1v1h-1zM173.4 761.2h1v1h-1zM186.3 776.7h1v1h-1zM174.8 753.9h1v1h-1zM174.6 758.9h1v1h-1zM184.3 756.1h1v1h-1zM175.5 812.3h1v1h-1zM170.6 766h1v1h-1zM178.5 787h1v1h-1zM179.3 823.4h1v1h-1zM179 759.6h1v1h-1zM175.5 795.6h1v1h-1zM179.6 737.2h1v1h-1zM186.1 780.9h1v1h-1zM171.4 725.1h1v1h-1zM184.3 799h1v1h-1zM181.1 760.5h1v1h-1zM180.7 816.9h1v1h-1zM185.6 762h1v1h-1zM179.1 793.5h1v1h-1zM171.9 794.9h1v1h-1zM175.5 776.5h1v1h-1zM180.6 769.9h1v1h-1zM170 740.7h1v1h-1zM171.3 784.1h1v1h-1zM169.8 756h1v1h-1zM170.6 761.7h1v1h-1zM178 738.1h1v1h-1zM169.7 726.6h1v1h-1zM183.1 798h1v1h-1zM170.2 785.1h1v1h-1zM178.8 833h1v1h-1zM182.9 769h1v1h-1zM173.6 743.7h1v1h-1zM179.9 755.3h1v1h-1zM170.8 747.5h1v1h-1zM173.6 740.7h1v1h-1zM179 790.8h1v1h-1zM185.6 830.1h1v1h-1zM180.6 774.1h1v1h-1zM181.4 727.5h1v1h-1zM178.3 764.7h1v1h-1zM179.2 738.6h1v1h-1zM172.2 747.8h1v1h-1zM172.8 770.9h1v1h-1zM182.8 747.2h1v1h-1zM177.2 751.9h1v1h-1zM173.9 748h1v1h-1zM185.9 818.5h1v1h-1zM178 755.5h1v1h-1zM183.9 754h1v1h-1zM184.5 757.2h1v1h-1zM176.7 786.8h1v1h-1zM177.5 749h1v1h-1zM179 792.8h1v1h-1zM186.2 779.2h1v1h-1zM182.2 749.2h1v1h-1zM185.5 754.1h1v1h-1zM181.2 759.7h1v1h-1zM173 757.8h1v1h-1zM172.9 756.8h1v1h-1zM181.5 824.5h1v1h-1zM181.4 756h1v1h-1zM173 785.7h1v1h-1zM186 751.6h1v1h-1zM174.7 763h1v1h-1zM182.6 774h1v1h-1zM170.9 757.5h1v1h-1zM170.4 785.2h1v1h-1zM181.1 749.7h1v1h-1zM171.7 758.2h1v1h-1zM175.1 761h1v1h-1zM182.4 761.1h1v1h-1zM180.9 752.2h1v1h-1zM175.5 740.7h1v1h-1zM185.2 816.7h1v1h-1zM184.1 765.4h1v1h-1zM180.3 750.5h1v1h-1zM185.1 830.2h1v1h-1zM178.8 743.5h1v1h-1zM185.3 748.7h1v1h-1zM179.9 736.2h1v1h-1zM175.3 761.5h1v1h-1zM172.4 792.7h1v1h-1zM176.1 734.9h1v1h-1zM177 801h1v1h-1zM178.8 760.7h1v1h-1zM175.9 802h1v1h-1zM183.7 756.2h1v1h-1zM180.9 792.1h1v1h-1zM173.8 774.6h1v1h-1zM179.5 782.7h1v1h-1zM185.7 764.4h1v1h-1zM170.7 766.8h1v1h-1zM183.2 804.5h1v1h-1zM183.4 747.2h1v1h-1zM178.4 760h1v1h-1zM173.1 748.6h1v1h-1zM175.8 765.9h1v1h-1zM184.9 779.3h1v1h-1zM175.4 764.9h1v1h-1zM177 759.5h1v1h-1zM183.8 743.6h1v1h-1zM172.9 762.9h1v1h-1zM169.9 748.6h1v1h-1zM172.2 744.8h1v1h-1zM184.2 829.3h1v1h-1zM184.6 824.1h1v1h-1zM180.1 807.3h1v1h-1zM180.9 745.7h1v1h-1zM171.9 759.6h1v1h-1zM185.9 757.2h1v1h-1zM173.2 817.6h1v1h-1zM170.6 759.5h1v1h-1zM178.4 767.8h1v1h-1zM186.4 746.6h1v1h-1zM177.7 753.6h1v1h-1zM171.8 738.7h1v1h-1zM182.7 738.4h1v1h-1zM184.2 772.9h1v1h-1zM170.4 732.9h1v1h-1zM170.7 821.8h1v1h-1zM185.1 798.6h1v1h-1zM181.9 786.2h1v1h-1zM171.4 806.5h1v1h-1zM178.7 803.1h1v1h-1zM183.8 752.5h1v1h-1zM176.1 808.8h1v1h-1zM181.6 787.1h1v1h-1zM173.1 761h1v1h-1zM179.6 828.7h1v1h-1zM169.7 742.1h1v1h-1zM179.1 809.9h1v1h-1zM173.6 809.2h1v1h-1zM182.7 761.3h1v1h-1zM176.6 810.9h1v1h-1zM172.5 825.1h1v1h-1zM180.3 749.7h1v1h-1zM186.5 766.5h1v1h-1zM171.9 821.1h1v1h-1zM179.5 765.7h1v1h-1zM180.7 797.6h1v1h-1zM179.8 760.1h1v1h-1zM172.8 741.3h1v1h-1zM186.3 765.2h1v1h-1zM171.2 799.2h1v1h-1zM184.2 801.6h1v1h-1zM177 750.9h1v1h-1zM182.8 755.1h1v1h-1zM170.1 794.4h1v1h-1zM172.1 751.4h1v1h-1zM177.7 754.2h1v1h-1zM180.1 758.2h1v1h-1zM171.6 831.2h1v1h-1zM185.1 746.5h1v1h-1zM185.5 778.7h1v1h-1zM177.4 763.8h1v1h-1zM175 824.4h1v1h-1zM172.6 753.5h1v1h-1zM184.3 823.9h1v1h-1zM176.7 734.3h1v1h-1zM172.7 775.7h1v1h-1zM179.2 764.4h1v1h-1zM171.2 756.9h1v1h-1zM170.6 754.4h1v1h-1zM184 758.7h1v1h-1zM175.5 767.4h1v1h-1zM176.4 738.6h1v1h-1zM181.2 753.7h1v1h-1zM171.4 760.6h1v1h-1zM178.2 794.1h1v1h-1zM179.7 810.8h1v1h-1zM176.9 760h1v1h-1zM184.4 742h1v1h-1zM173.3 744.5h1v1h-1zM182.2 762.3h1v1h-1zM180.9 801h1v1h-1zM178.3 765.7h1v1h-1zM174.7 759.1h1v1h-1zM185.4 748.6h1v1h-1zM169.7 741.8h1v1h-1zM171.2 825.1h1v1h-1zM182.3 813.8h1v1h-1zM179.9 743.1h1v1h-1zM178.4 805.8h1v1h-1zM179.3 826.2h1v1h-1zM181.5 833.2h1v1h-1zM180.8 764.1h1v1h-1zM184.4 724.4h1v1h-1zM180.7 758.3h1v1h-1zM172.8 762.5h1v1h-1zM173.1 751.5h1v1h-1zM176.7 734.2h1v1h-1zM172.3 731h1v1h-1zM175.8 729.7h1v1h-1zM186.2 780.6h1v1h-1zM171.3 733.3h1v1h-1zM175.2 741.4h1v1h-1zM173.1 807.3h1v1h-1zM182.7 748.5h1v1h-1zM181.7 736.4h1v1h-1zM179.7 760.4h1v1h-1zM184.8 761.3h1v1h-1zM181.6 832.8h1v1h-1zM186 756h1v1h-1zM174.9 747.4h1v1h-1zM170.7 759.4h1v1h-1zM184.9 733.3h1v1h-1zM170.4 756.5h1v1h-1zM180.1 749.2h1v1h-1zM172.3 820.1h1v1h-1zM170.5 749.4h1v1h-1zM182 781.8h1v1h-1zM181 784h1v1h-1zM173.3 793.9h1v1h-1zM175.1 739.3h1v1h-1zM183.3 792.2h1v1h-1zM170.9 761.7h1v1h-1zM181 764.5h1v1h-1zM174.2 746.8h1v1h-1zM173 749.6h1v1h-1zM177 762.1h1v1h-1zM182.1 752.4h1v1h-1zM173.5 828.3h1v1h-1zM182 831.7h1v1h-1zM185.2 739.4h1v1h-1zM172.7 755.5h1v1h-1zM172.9 778h1v1h-1zM184 757.6h1v1h-1zM173.5 742h1v1h-1zM184.6 780.4h1v1h-1zM184.3 779.2h1v1h-1zM182.6 760.1h1v1h-1zM173.8 758.2h1v1h-1zM179 789.9h1v1h-1zM178.1 759.5h1v1h-1zM175.8 765.3h1v1h-1zM175.7 786.3h1v1h-1zM186.4 769.1h1v1h-1zM179.9 765.7h1v1h-1zM185.9 749.8h1v1h-1zM183.5 759.8h1v1h-1zM181.2 768.1h1v1h-1zM186 820.3h1v1h-1zM182.7 734.9h1v1h-1zM173.6 766.8h1v1h-1zM176.9 781.6h1v1h-1zM174.2 761.7h1v1h-1zM177.6 758h1v1h-1zM171.3 754h1v1h-1zM183.4 727.3h1v1h-1zM175.5 740.8h1v1h-1zM177.2 737.8h1v1h-1zM171.7 790.8h1v1h-1zM184.2 759.9h1v1h-1zM182 760.7h1v1h-1zM175.1 800.7h1v1h-1zM175.2 808.1h1v1h-1zM179.9 804.6h1v1h-1zM177.2 752.3h1v1h-1zM185.1 759.7h1v1h-1z"/>
<line x1="218.3" y1="724.5" x2="218.3" y2="846.1" stroke="#333" stroke-width="0.9" />
<rect x="203.1" y="758.8" width="30.4" height="54.5" fill="#77dede" stroke="#444" stroke-width="0.8"/>
<line x1="203.1" y1="780.6" x2="233.5" y2="780.6" stroke="#333" stroke-width="1.6" />
<path fill="#111" d="M212.9 820.4h1v1h-1zM219.4 789.7h1v1h-1zM218.5 838h1v1h-1zM210.2 771.8h1v1h-1zM212.7 773.8h1v1h-1zM220 765.7h1v1h-1zM213.3 763.7h1v1h-1zM210.7 773.9h1v1h-1zM216.8 739.8h1v1h-1zM225.3 772.1h1v1h-1zM222.4 811h1v1h-1zM223.7 783.2h1v1h-1zM214.8 776.3h1v1h-1zM218.7 796.4h1v1h-1zM214.8 792.1h1v1h-1zM212.3 775h1v1h-1zM222.6 806.7h1v1h-1zM215 815h1v1h-1zM225.7 819h1v1h-1zM216.6 785.4h1v1h-1zM215.3 788.4h1v1h-1zM215.4 759.2h1v1h-1zM221.8 763.6h1v1h-1zM221.4 772.9h1v1h-1zM214.5 734.8h1v1h-1zM214.4 782.9h1v1h-1zM218.9 804h1v1h-1zM215.8 790.8h1v1h-1zM215.8 790.6h1v1h-1zM212.7 733.5h1v1h-1zM221.4 825.2h1v1h-1zM225.8 756.3h1v1h-1zM216.2 795.8h1v1h-1zM211.6 729.2h1v1h-1zM219.9 782.6h1v1h-1zM216.4 823.6h1v1h-1zM216.2 786.8h1v1h-1zM212.2 828.2h1v1h-1zM223.3 775.1h1v1h-1zM219.9 767.1h1v1h-1zM218.6 775.7h1v1h-1zM209.4 830.9h1v1h-1zM215.3 757.8h1v1h-1zM225.3 788.3h1v1h-1zM211 822.5h1v1h-1zM223.2 796.1h1v1h-1zM222.2 748.4h1v1h-1zM223.5 788.3h1v1h-1zM211.5 753.4h1v1h-1zM221.4 740.4h1v1h-1zM214.3 783.2h1v1h-1zM224 812.4h1v1h-1zM226 825.7h1v1h-1zM220.9 777.2h1v1h-1zM216.7 773.8h1v1h-1zM218.3 819.3h1v1h-1zM226.2 817.3h1v1h-1zM225.7 726.9h1v1h-1zM224.3 760.4h1v1h-1zM225.3 815.5h1v1h-1zM218.7 747h1v1h-1zM222.3 820.2h1v1h-1zM214 778h1v1h-1zM212.3 739h1v1h-1zM215.9 763.5h1v1h-1zM212.7 808.4h1v1h-1zM219 761.8h1v1h-1zM209.4 772.3h1v1h-1zM212.3 780.9h1v1h-1zM216.4 830.3h1v1h-1zM223.4 726.2h1v1h-1zM221.1 814.3h1v1h-1zM211.1 811.9h1v1h-1zM225.6 757.5h1v1h-1zM216.6 783.6h1v1h-1zM224.2 782.6h1v1h-1zM213.4 832.9h1v1h-1zM212.9 771.9h1v1h-1zM212.5 794.2h1v1h-1zM217.3 747.1h1v1h-1zM225.6 767.9h1v1h-1zM221.6 769.9h1v1h-1zM213.8 764.6h1v1h-1zM215.5 826.6h1v1h-1zM215.8 755.7h1v1h-1zM212.1 792.8h1v1h-1zM209.9 767.2h1v1h-1zM216.2 760.4h1v1h-1zM224 759.1h1v1h-1zM218.9 806.2h1v1h-1zM214.3 762.3h1v1h-1zM224.2 779.6h1v1h-1zM213.8 815.1h1v1h-1zM213.1 834.1h1v1h-1zM214.7 745.5h1v1h-1zM220.2 774.6h1v1h-1zM214.2 774.9h1v1h-1zM225.4 792.7h1v1h-1zM217.9 770.2h1v1h-1zM217.9 823.7h1v1h-1zM213.7 805.8h1v1h-1zM223.7 748.6h1v1h-1zM210 773.6h1v1h-1zM217.1 815.9h1v1h-1zM220.5 839.9h1v1h-1zM209.6 766.3h1v1h-1zM216 793.1h1v1h-1zM215.7 757.9h1v1h-1zM222.9 799.4h1v1h-1zM222.1 746.7h1v1h-1zM212.4 820.3h1v1h-1zM210.2 822.8h1v1h-1zM219.3 823.1h1v1h-1zM217.8 734.7h1v1h-1zM210.6 784.8h1v1h-1zM212.1 737.2h1v1h-1zM214.6 773.7h1v1h-1zM216.1 818.8h1v1h-1zM215.3 797.2h1v1h-1zM217.7 763.2h1v1h-1zM216.7 758h1v1h-1zM215.9 767.8h1v1h-1zM224.3 773.1h1v1h-1zM214.8 762.4h1v1h-1zM220.2 817.2h1v1h-1zM212.7 767.4h1v1h-1zM226.3 769.8h1v1h-1zM222.6 769.3h1v1h-1zM220.2 778.5h1v1h-1zM223.9 793.7h1v1h-1zM209.4 790.6h1v1h-1zM211.8 760.8h1v1h-1zM209.9 804h1v1h-1zM226.1 833h1v1h-1zM222.6 768.5h1v1h-1zM215.1 738.9h1v1h-1zM222 779.4h1v1h-1zM218.5 790.1h1v1h-1zM212.9 799.9h1v1h-1zM220.7 782.9h1v1h-1zM219.7 731.1h1v1h-1zM209.5 737.9h1v1h-1zM217.3 761.8h1v1h-1zM222.3 776.3h1v1h-1zM215.9 830.6h1v1h-1zM224.7 767.7h1v1h-1zM224.9 798.9h1v1h-1zM223.2 733.7h1v1h-1zM221 776.7h1v1h-1zM215.5 838.7h1v1h-1zM211.7 747.8h1v1h-1zM225.2 766.4h1v1h-1zM224.1 778h1v1h-1zM213.3 779.7h1v1h-1zM210.6 794.2h1v1h-1zM224.7 826.4h1v1h-1zM220.1 772.8h1v1h-1zM224.8 778.5h1v1h-1zM210.5 796.5h1v1h-1zM222.3 817.2h1v1h-1zM217.5 823h1v1h-1zM218.1 800.2h1v1h-1zM219.7 754.2h1v1h-1zM211.1 759.2h1v1h-1zM216.7 741.9h1v1h-1zM225.5 828.3h1v1h-1zM219.2 747.7h1v1h-1zM219.5 783.3h1v1h-1zM209.4 830.6h1v1h-1zM224.6 791.5h1v1h-1zM221.4 822h1v1h-1zM215 769.9h1v1h-1zM215.6 773.3h1v1h-1zM221.1 747.4h1v1h-1zM218.2 799.1h1v1h-1zM218.6 759.6h1v1h-1zM210 745.6h1v1h-1zM215 766.1h1v1h-1zM211.6 729.6h1v1h-1zM213.7 768.9h1v1h-1zM221.6 779h1v1h-1zM215.4 770.3h1v1h-1zM219.7 799.8h1v1h-1zM217.5 830h1v1h-1zM217.3 842.8h1v1h-1zM221.5 758.1h1v1h-1zM223.4 806.4h1v1h-1zM215.2 770h1v1h-1zM221.4 753.7h1v1h-1zM218.2 782.9h1v1h-1zM216.6 833.8h1v1h-1zM211.4 790h1v1h-1zM224.3 744.9h1v1h-1zM212.1 803.8h1v1h-1zM217.5 748.7h1v1h-1zM215.3 801.6h1v1h-1zM219.8 832.1h1v1h-1zM219.9 805.7h1v1h-1zM218.1 803.6h1v1h-1zM210.7 789.4h1v1h-1zM220.6 816h1v1h-1zM216.7 735.5h1v1h-1zM213.1 770.9h1v1h-1zM211.9 791.8h1v1h-1zM221.3 800.6h1v1h-1zM214.7 781.7h1v1h-1zM217.1 767.7h1v1h-1zM221.2 798.8h1v1h-1zM223.6 754.6h1v1h-1zM212 774.7h1v1h-1zM209.7 842h1v1h-1zM218.2 817h1v1h-1zM218.4 821.2h1v1h-1zM218.6 787h1v1h-1zM226 730.3h1v1h-1zM221.3 764.2h1v1h-1zM212.6 770.2h1v1h-1zM209.6 840.1h1v1h-1zM223.8 771.5h1v1h-1zM223.5 768.4h1v1h-1zM213.8 776.3h1v1h-1zM225.8 751.1h1v1h-1zM220 767.8h1v1h-1zM223.8 726.3h1v1h-1zM211.1 760.9h1v1h-1zM219.7 784.6h1v1h-1zM209.9 829.4h1v1h-1zM221.2 797.9h1v1h-1zM214.7 752.2h1v1h-1zM226 795.7h1v1h-1zM224.9 787.7h1v1h-1zM214.9 810.8h1v1h-1zM212.6 802.4h1v1h-1zM223 759.2h1v1h-1zM225.2 768.7h1v1h-1zM225.6 757.3h1v1h-1zM210.5 758.3h1v1h-1zM221.9 769.5h1v1h-1zM210.3 762.5h1v1h-1zM225.9 836.4h1v1h-1zM212 725.7h1v1h-1zM210 769.3h1v1h-1zM209.4 835.4h1v1h-1zM209.4 811.5h1v1h-1zM225.5 767.3h1v1h-1zM222 823.4h1v1h-1zM217.4 734.5h1v1h-1zM217.4 749.1h1v1h-1zM217 778.1h1v1h-1zM221.8 815h1v1h-1zM215.3 779.3h1v1h-1zM216.4 775.8h1v1h-1zM215.6 825.4h1v1h-1zM218.2 780.6h1v1h-1zM214.5 824h1v1h-1zM212.6 828.3h1v1h-1zM224 762.4h1v1h-1zM221.9 779h1v1h-1zM225.8 805.4h1v1h-1zM220.2 797.2h1v1h-1zM219.5 798.4h1v1h-1zM218.8 781.6h1v1h-1zM221.6 775.6h1v1h-1zM223.6 778.7h1v1h-1zM209.6 740.4h1v1h-1zM224.2 765.8h1v1h-1zM218.5 796.3h1v1h-1zM226.2 757.4h1v1h-1zM222.7 770.5h1v1h-1zM218.6 792.5h1v1h-1zM220.9 764.7h1v1h-1zM212.1 749.5h1v1h-1zM215.5 805.1h1v1h-1zM219.9 763.7h1v1h-1zM215.6 753.4h1v1h-1zM225.5 836.4h1v1h-1zM212.5 798.7h1v1h-1zM222.7 788.9h1v1h-1zM212.6 817.1h1v1h-1zM214.7 768.4h1v1h-1zM222.7 781.2h1v1h-1zM216.2 825.2h1v1h-1zM218.5 756.4h1v1h-1zM223.5 746.4h1v1h-1zM214.7 806.1h1v1h-1zM225.1 752h1v1h-1zM216.1 810.7h1v1h-1zM219 763.8h1v1h-1zM220.4 752.5h1v1h-1zM211 838.6h1v1h-1z"/>
<line x1="154.7" y1="711.4" x2="154.7" y2="852.3" stroke="#222" stroke-width="0.9" />
<line x1="154.7" y1="852.3" x2="241.6" y2="852.3" stroke="#222" stroke-width="0.9" />
<line x1="152.7" y1="722" x2="154.7" y2="722" stroke="#222" stroke-width="0.8" />
<text x="148.4" y="726.5" font-size="12.7" text-anchor="end" stroke="#000" stroke-width="0.25">2</text>
<line x1="152.7" y1="755.5" x2="154.7" y2="755.5" stroke="#222" stroke-width="0.8" />
<text x="148.4" y="760" font-size="12.7" text-anchor="end" stroke="#000" stroke-width="0.25">1</text>
<line x1="152.7" y1="789" x2="154.7" y2="789" stroke="#222" stroke-width="0.8" />
<text x="148.4" y="793.5" font-size="12.7" text-anchor="end" stroke="#000" stroke-width="0.25">0</text>
<line x1="152.7" y1="822.5" x2="154.7" y2="822.5" stroke="#222" stroke-width="0.8" />
<text x="148.4" y="827" font-size="12.7" text-anchor="end" stroke="#000" stroke-width="0.25">-1</text>
<line x1="178.6" y1="852.3" x2="178.6" y2="854.5" stroke="#222" stroke-width="0.8" />
<line x1="218.3" y1="852.3" x2="218.3" y2="854.5" stroke="#222" stroke-width="0.8" />
<text x="178.6" y="866.5" font-size="12.7" text-anchor="middle" stroke="#000" stroke-width="0.25">siNTC</text>
<text x="224.5" y="866.5" font-size="12.7" text-anchor="middle" stroke="#000" stroke-width="0.25">siJUN</text>
<text x="202.5" y="704.7" font-size="12.7" text-anchor="middle" stroke="#000" stroke-width="0.25">SEs (H660)</text>
<polyline points="178.6,720.3 178.6,717 218.3,717 218.3,720.3" fill="none" stroke="#555" stroke-width="0.7" stroke-linejoin="round" />
<text x="198.45" y="715.2" font-size="7.5" text-anchor="middle" fill="#222">0.0038</text>
<text x="12.5" y="783" font-size="12.7" text-anchor="middle" transform="rotate(-90 12.5 783)" dy="4.5">Log<tspan font-size="8.5" dy="3">2</tspan><tspan dy="-3">(CPM)_scale</tspan></text>
<line x1="299.9" y1="707.2" x2="299.9" y2="830.4" stroke="#222" stroke-width="1.1" />
<line x1="298.2" y1="710.8" x2="299.9" y2="710.8" stroke="#222" stroke-width="0.8" />
<text x="298.3" y="715.4" font-size="12.8" text-anchor="end" stroke="#000" stroke-width="0.25">1.5</text>
<line x1="298.2" y1="749.9" x2="299.9" y2="749.9" stroke="#222" stroke-width="0.8" />
<text x="298.3" y="754.5" font-size="12.8" text-anchor="end" stroke="#000" stroke-width="0.25">1.0</text>
<line x1="298.2" y1="790.1" x2="299.9" y2="790.1" stroke="#222" stroke-width="0.8" />
<text x="298.3" y="794.7" font-size="12.8" text-anchor="end" stroke="#000" stroke-width="0.25">0.5</text>
<line x1="298.2" y1="830.1" x2="299.9" y2="830.1" stroke="#222" stroke-width="0.8" />
<text x="298.3" y="834.7" font-size="12.8" text-anchor="end" stroke="#000" stroke-width="0.25">0.0</text>
<rect x="305.1" y="748.9" width="10.3" height="81.5" fill="#7b8ff7" stroke="#3d5cf5" stroke-width="0.9"/>
<line x1="310.25" y1="745.4" x2="310.25" y2="752" stroke="#3d5cf5" stroke-width="0.9" />
<line x1="307.25" y1="745.4" x2="313.25" y2="745.4" stroke="#3d5cf5" stroke-width="0.9" />
<circle cx="310.25" cy="742.00" r="1.15" fill="#3d5cf5"/>
<circle cx="308.75" cy="752.00" r="1.15" fill="#3d5cf5"/>
<circle cx="311.25" cy="750.00" r="1.15" fill="#3d5cf5"/>
<line x1="310.25" y1="830.4" x2="310.25" y2="832.8" stroke="#222" stroke-width="0.8" />
<rect x="320.3" y="812.1" width="10.6" height="18.3" fill="#f9877f" stroke="#f04a40" stroke-width="0.9"/>
<circle cx="323.60" cy="812.30" r="1.15" fill="#f04a40"/>
<circle cx="325.60" cy="811.80" r="1.15" fill="#f04a40"/>
<circle cx="328.10" cy="812.10" r="1.15" fill="#f04a40"/>
<line x1="325.6" y1="830.4" x2="325.6" y2="832.8" stroke="#222" stroke-width="0.8" />
<rect x="335.4" y="800.2" width="10.6" height="30.2" fill="#86df86" stroke="#38c238" stroke-width="0.9"/>
<line x1="340.7" y1="797" x2="340.7" y2="803" stroke="#38c238" stroke-width="0.9" />
<line x1="337.7" y1="797" x2="343.7" y2="797" stroke="#38c238" stroke-width="0.9" />
<circle cx="338.70" cy="797.50" r="1.15" fill="#38c238"/>
<circle cx="343.20" cy="797.50" r="1.15" fill="#38c238"/>
<circle cx="340.70" cy="803.50" r="1.15" fill="#38c238"/>
<line x1="340.7" y1="830.4" x2="340.7" y2="832.8" stroke="#222" stroke-width="0.8" />
<rect x="351.3" y="829.3" width="9.7" height="1.1" fill="#333" stroke="#222" stroke-width="0.9"/>
<circle cx="353.15" cy="829.20" r="1.15" fill="#222"/>
<circle cx="356.15" cy="829.20" r="1.15" fill="#222"/>
<circle cx="359.15" cy="829.20" r="1.15" fill="#222"/>
<line x1="356.15" y1="830.4" x2="356.15" y2="832.8" stroke="#222" stroke-width="0.8" />
<line x1="299.9" y1="830.4" x2="366.7" y2="830.4" stroke="#222" stroke-width="1.1" />
<polyline points="309.7,709.5 309.7,705.2 356.5,705.2 356.5,709.5" fill="none" stroke="#333" stroke-width="0.9" stroke-linejoin="round" />
<text x="333.1" y="704.8" font-size="9.6" text-anchor="middle" font-weight="bold" stroke="#000" stroke-width="0.25">****</text>
<polyline points="309.7,723.8 309.7,719.5 341,719.5 341,723.8" fill="none" stroke="#333" stroke-width="0.9" stroke-linejoin="round" />
<text x="325.35" y="719.1" font-size="9.6" text-anchor="middle" font-weight="bold" stroke="#000" stroke-width="0.25">****</text>
<polyline points="309.7,737.5 309.7,733.2 325.8,733.2 325.8,737.5" fill="none" stroke="#333" stroke-width="0.9" stroke-linejoin="round" />
<text x="317.75" y="732.8" font-size="9.6" text-anchor="middle" font-weight="bold" stroke="#000" stroke-width="0.25">****</text>
<text x="320.6" y="692.5" font-size="12.7" stroke="#000" stroke-width="0.25" font-style="italic">FOSL1</text>
<text x="313.85" y="839" font-size="12.4" text-anchor="end" stroke="#000" stroke-width="0.25" transform="rotate(-47 313.85 839)">siNTC</text>
<text x="329.2" y="839" font-size="12.4" text-anchor="end" stroke="#000" stroke-width="0.25" transform="rotate(-47 329.2 839)">siFOXA2</text>
<text x="344.3" y="839" font-size="12.4" text-anchor="end" stroke="#000" stroke-width="0.25" transform="rotate(-47 344.3 839)">siJUN</text>
<text x="359.75" y="839" font-size="12.4" text-anchor="end" stroke="#000" stroke-width="0.25" transform="rotate(-47 359.75 839)">siFOSL1</text>
<rect x="378" y="749.9" width="11.1" height="80.5" fill="#7b8ff7" stroke="#3d5cf5" stroke-width="0.9"/>
<line x1="383.55" y1="746.5" x2="383.55" y2="752.5" stroke="#3d5cf5" stroke-width="0.9" />
<line x1="380.55" y1="746.5" x2="386.55" y2="746.5" stroke="#3d5cf5" stroke-width="0.9" />
<circle cx="383.55" cy="746.00" r="1.15" fill="#3d5cf5"/>
<circle cx="382.55" cy="752.00" r="1.15" fill="#3d5cf5"/>
<circle cx="385.05" cy="750.00" r="1.15" fill="#3d5cf5"/>
<line x1="383.55" y1="830.4" x2="383.55" y2="832.8" stroke="#222" stroke-width="0.8" />
<rect x="395" y="787.3" width="11.3" height="43.1" fill="#f9877f" stroke="#f04a40" stroke-width="0.9"/>
<line x1="400.65" y1="780.2" x2="400.65" y2="794" stroke="#f04a40" stroke-width="0.9" />
<line x1="397.65" y1="780.2" x2="403.65" y2="780.2" stroke="#f04a40" stroke-width="0.9" />
<circle cx="400.65" cy="773.60" r="1.15" fill="#f04a40"/>
<circle cx="399.15" cy="794.00" r="1.15" fill="#f04a40"/>
<circle cx="402.65" cy="793.00" r="1.15" fill="#f04a40"/>
<line x1="400.65" y1="830.4" x2="400.65" y2="832.8" stroke="#222" stroke-width="0.8" />
<rect x="412.2" y="819.8" width="11.2" height="10.6" fill="#86df86" stroke="#38c238" stroke-width="0.9"/>
<circle cx="415.30" cy="819.80" r="1.15" fill="#38c238"/>
<circle cx="417.80" cy="819.60" r="1.15" fill="#38c238"/>
<circle cx="420.30" cy="819.80" r="1.15" fill="#38c238"/>
<line x1="417.8" y1="830.4" x2="417.8" y2="832.8" stroke="#222" stroke-width="0.8" />
<rect x="429.3" y="801.7" width="10.8" height="28.7" fill="#ffca8f" stroke="#ffa030" stroke-width="0.9"/>
<circle cx="432.20" cy="801.80" r="1.15" fill="#ffa030"/>
<circle cx="434.70" cy="801.20" r="1.15" fill="#ffa030"/>
<circle cx="437.20" cy="801.80" r="1.15" fill="#ffa030"/>
<line x1="434.7" y1="830.4" x2="434.7" y2="832.8" stroke="#222" stroke-width="0.8" />
<line x1="374" y1="830.4" x2="445.7" y2="830.4" stroke="#222" stroke-width="1.1" />
<polyline points="383.5,713.1 383.5,708.8 434.9,708.8 434.9,713.1" fill="none" stroke="#333" stroke-width="0.9" stroke-linejoin="round" />
<text x="409.2" y="708.4" font-size="9.6" text-anchor="middle" font-weight="bold" stroke="#000" stroke-width="0.25">****</text>
<polyline points="383.5,727.1 383.5,722.8 417.5,722.8 417.5,727.1" fill="none" stroke="#333" stroke-width="0.9" stroke-linejoin="round" />
<text x="400.5" y="722.4" font-size="9.6" text-anchor="middle" font-weight="bold" stroke="#000" stroke-width="0.25">****</text>
<polyline points="383.5,741 383.5,736.7 400.3,736.7 400.3,741" fill="none" stroke="#333" stroke-width="0.9" stroke-linejoin="round" />
<text x="391.9" y="736.3" font-size="9.6" text-anchor="middle" font-weight="bold" stroke="#000" stroke-width="0.25">***</text>
<text x="396.7" y="692.5" font-size="12.7" stroke="#000" stroke-width="0.25" font-style="italic">PTHLH</text>
<text x="387.15" y="839" font-size="12.4" text-anchor="end" stroke="#000" stroke-width="0.25" transform="rotate(-47 387.15 839)">siNTC</text>
<text x="404.25" y="839" font-size="12.4" text-anchor="end" stroke="#000" stroke-width="0.25" transform="rotate(-47 404.25 839)">siFOXA2</text>
<text x="421.4" y="839" font-size="12.4" text-anchor="end" stroke="#000" stroke-width="0.25" transform="rotate(-47 421.4 839)">siJUN</text>
<text x="438.3" y="839" font-size="12.4" text-anchor="end" stroke="#000" stroke-width="0.25" transform="rotate(-47 438.3 839)">siFOSL1</text>
<text x="274.2" y="765.4" font-size="12.9" text-anchor="middle" stroke="#000" stroke-width="0.25" transform="rotate(-90 274.2 765.4)">Relative expression</text>
<defs><filter id="bl" x="-30%" y="-80%" width="160%" height="260%"><feGaussianBlur stdDeviation="0.9 0.7"/></filter><filter id="bl2" x="-30%" y="-80%" width="160%" height="260%"><feGaussianBlur stdDeviation="1.2 0.9"/></filter></defs>
<rect x="504.1" y="725.1" width="38.3" height="19.6" fill="#e6e6e6" stroke="#2a2a2a" stroke-width="1.2" rx="0.8"/>
<rect x="504.1" y="748" width="38.3" height="19.4" fill="#e6e6e6" stroke="#2a2a2a" stroke-width="1.2" rx="0.8"/>
<rect x="504.1" y="770.1" width="38.3" height="19.9" fill="#e6e6e6" stroke="#2a2a2a" stroke-width="1.2" rx="0.8"/>
<rect x="504.1" y="793.8" width="38.3" height="19.6" fill="#e6e6e6" stroke="#2a2a2a" stroke-width="1.2" rx="0.8"/>
<rect x="507.60" y="731.55" width="12.00" height="8.50" rx="3.00" fill="#000" fill-opacity="0.97" filter="url(#bl)"/>
<rect x="507.85" y="740.70" width="11.50" height="3.00" rx="1.50" fill="#000" fill-opacity="0.35" filter="url(#bl)"/>
<rect x="540.80" y="732.50" width="1.00" height="9.00" rx="3.00" fill="#000" fill-opacity="0.8" filter="url(#bl)"/>
<rect x="508.20" y="754.50" width="13.00" height="6.60" rx="3.00" fill="#000" fill-opacity="0.97" filter="url(#bl)"/>
<rect x="527.60" y="754.50" width="12.60" height="6.60" rx="3.00" fill="#000" fill-opacity="0.97" filter="url(#bl)"/>
<rect x="508.20" y="776.50" width="12.20" height="5.60" rx="2.80" fill="#000" fill-opacity="0.97" filter="url(#bl)"/>
<rect x="508.00" y="802.30" width="14.80" height="4.60" rx="2.30" fill="#000" fill-opacity="0.97" filter="url(#bl)"/>
<rect x="526.80" y="802.10" width="13.60" height="4.20" rx="2.10" fill="#000" fill-opacity="0.97" filter="url(#bl)"/>
<text x="502.3" y="740.4" font-size="12.8" text-anchor="end" stroke="#000" stroke-width="0.25">FOXA2</text>
<text x="502.3" y="763.8" font-size="12.8" text-anchor="end" stroke="#000" stroke-width="0.25">JUN</text>
<text x="502.3" y="784.1" font-size="12.8" text-anchor="end" stroke="#000" stroke-width="0.25">FOSL1</text>
<text x="502.3" y="808" font-size="12.8" text-anchor="end" stroke="#000" stroke-width="0.25">GAPDH</text>
<text x="524.8" y="717.9" font-size="12.6" text-anchor="middle" stroke="#000" stroke-width="0.25">PC-3</text>
<text x="544.2" y="735.2" font-size="9.9" stroke="#000" stroke-width="0.25">-50</text>
<text x="544.2" y="766.8" font-size="9.9" stroke="#000" stroke-width="0.25">-37</text>
<text x="544.2" y="779.1" font-size="9.9" stroke="#000" stroke-width="0.25">-37</text>
<text x="544.2" y="802.8" font-size="9.9" stroke="#000" stroke-width="0.25">-37</text>
<text x="544.2" y="818.6" font-size="9.9" stroke="#000" stroke-width="0.25">kDa</text>
<text x="521.5" y="821.5" font-size="12.7" text-anchor="end" stroke="#000" stroke-width="0.25" transform="rotate(-50 521.5 821.5)">siNTC</text>
<text x="543.5" y="822.5" font-size="12.7" text-anchor="end" stroke="#000" stroke-width="0.25" transform="rotate(-50 543.5 822.5)">siFOXA2</text>
<rect x="623.5" y="725.1" width="39" height="20.2" fill="#e6e6e6" stroke="#2a2a2a" stroke-width="1.2" rx="0.8"/>
<rect x="623.5" y="748" width="39" height="19.4" fill="#e6e6e6" stroke="#2a2a2a" stroke-width="1.2" rx="0.8"/>
<rect x="623.5" y="770.6" width="39" height="19.8" fill="#d9d9d9" stroke="#2a2a2a" stroke-width="1.2" rx="0.8"/>
<rect x="623.5" y="793.3" width="39" height="19.7" fill="#e6e6e6" stroke="#2a2a2a" stroke-width="1.2" rx="0.8"/>
<rect x="628.20" y="734.30" width="12.00" height="5.00" rx="2.50" fill="#000" fill-opacity="0.97" filter="url(#bl)"/>
<rect x="628.80" y="755.80" width="13.00" height="5.60" rx="2.80" fill="#000" fill-opacity="0.97" filter="url(#bl)"/>
<rect x="627.25" y="778.50" width="11.50" height="2.60" rx="1.30" fill="#000" fill-opacity="0.6" filter="url(#bl)"/>
<rect x="646.00" y="778.80" width="10.00" height="2.00" rx="1.00" fill="#000" fill-opacity="0.1" filter="url(#bl2)"/>
<rect x="627.00" y="802.50" width="12.00" height="4.00" rx="2.00" fill="#000" fill-opacity="0.97" filter="url(#bl)"/>
<rect x="641.90" y="802.30" width="13.60" height="4.00" rx="2.00" fill="#000" fill-opacity="0.97" filter="url(#bl)"/>
<text x="621.2" y="740.4" font-size="12.8" text-anchor="end" stroke="#000" stroke-width="0.25">JUN</text>
<text x="621.2" y="760.7" font-size="12.8" text-anchor="end" stroke="#000" stroke-width="0.25">FOSL1</text>
<text x="621.2" y="784.8" font-size="12.8" text-anchor="end" stroke="#000" stroke-width="0.25">p-AuroraA</text>
<text x="621.2" y="808" font-size="12.8" text-anchor="end" stroke="#000" stroke-width="0.25">GAPDH</text>
<text x="641.5" y="718.8" font-size="12.6" text-anchor="middle" stroke="#000" stroke-width="0.25">PC-3</text>
<text x="664" y="742.6" font-size="9.9" stroke="#000" stroke-width="0.25">-37</text>
<text x="664" y="756.6" font-size="9.9" stroke="#000" stroke-width="0.25">-37</text>
<text x="664" y="778" font-size="9.9" stroke="#000" stroke-width="0.25">-50</text>
<text x="664" y="802.8" font-size="9.9" stroke="#000" stroke-width="0.25">-37</text>
<text x="664" y="818.6" font-size="9.9" stroke="#000" stroke-width="0.25">kDa</text>
<text x="637.5" y="822" font-size="12.7" text-anchor="end" stroke="#000" stroke-width="0.25" transform="rotate(-50 637.5 822)">siNTC</text>
<text x="657.5" y="825" font-size="12.7" text-anchor="end" stroke="#000" stroke-width="0.25" transform="rotate(-50 657.5 825)">siJUN</text>
</svg></body></html>
